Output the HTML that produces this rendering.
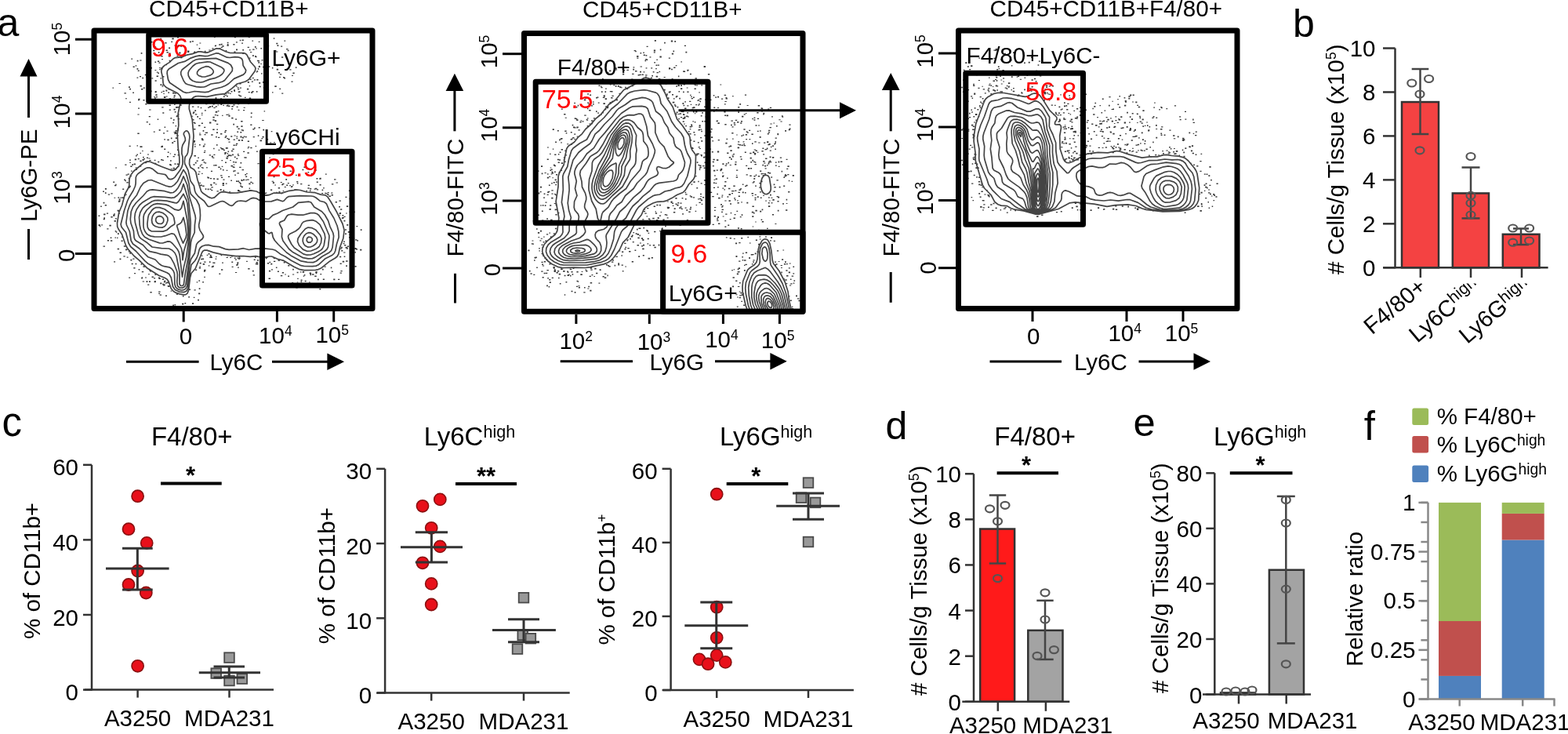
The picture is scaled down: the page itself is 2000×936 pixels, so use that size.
<!DOCTYPE html>
<html><head><meta charset="utf-8"><title>Figure</title>
<style>html,body{margin:0;padding:0;background:#fff;width:2000px;height:936px;overflow:hidden}svg{display:block}</style>
</head><body>
<svg width="2000" height="936" viewBox="0 0 2000 936" font-family="'Liberation Sans', Arial, sans-serif" font-size="29.5">
<text x="-3.60" y="45.50" font-size="50">a</text>
<text x="1649.00" y="47.20" font-size="50">b</text>
<text x="2.55" y="556.00" font-size="51">c</text>
<text x="1129.55" y="559.50" font-size="50">d</text>
<text x="1445.50" y="556.30" font-size="50.7">e</text>
<text x="1739.65" y="560.80" font-size="51">f</text>
<text x="190.10" y="21.30" font-size="29.6">CD45+CD11B+</text>
<path d="M185.3,206.3h2.4v1.1h-2.4zM202.0,353.5h1.9v1.4h-1.9zM326.8,91.2h1.5v1.3h-1.5zM185.0,353.4h1.9v1.1h-1.9zM290.8,145.4h1.9v1.2h-1.9zM258.7,186.4h1.9v1.2h-1.9zM275.0,327.0h1.5v1.1h-1.5zM344.2,181.5h2.0v1.1h-2.0zM217.7,214.7h1.9v1.1h-1.9zM352.2,54.8h2.2v1.5h-2.2zM145.2,272.2h1.6v1.3h-1.6zM178.1,211.5h2.2v1.2h-2.2zM271.3,152.2h2.3v1.6h-2.3zM449.7,303.3h2.5v1.5h-2.5zM336.6,141.2h1.5v1.4h-1.5zM259.8,193.7h2.2v1.4h-2.2zM205.6,87.2h1.8v1.3h-1.8zM221.5,179.7h2.2v1.2h-2.2zM303.0,113.2h2.3v1.3h-2.3zM322.7,128.8h2.1v1.7h-2.1zM450.6,269.5h2.1v1.7h-2.1zM284.4,133.7h1.5v1.4h-1.5zM288.2,201.0h2.1v1.2h-2.1zM240.8,368.4h2.2v1.6h-2.2zM190.0,358.3h1.9v1.7h-1.9zM266.3,250.8h1.4v1.7h-1.4zM263.2,212.9h1.5v1.6h-1.5zM277.5,133.4h1.6v1.1h-1.6zM361.0,98.1h2.1v1.5h-2.1zM207.2,361.7h2.2v1.7h-2.2zM306.4,206.9h1.9v1.5h-1.9zM202.4,79.5h2.1v1.3h-2.1zM272.1,232.4h2.3v1.6h-2.3zM146.7,294.0h1.6v1.6h-1.6zM159.2,229.9h1.7v1.3h-1.7zM422.8,345.7h2.1v1.4h-2.1zM273.8,58.0h2.1v1.3h-2.1zM159.2,209.6h2.3v1.2h-2.3zM216.7,195.4h1.4v1.2h-1.4zM301.0,62.6h2.0v1.7h-2.0zM350.2,235.4h1.8v1.1h-1.8zM441.1,332.2h2.5v1.6h-2.5zM264.0,225.4h1.7v1.2h-1.7zM304.9,128.1h1.6v1.2h-1.6zM169.3,329.6h2.2v1.2h-2.2zM201.1,205.8h2.2v1.4h-2.2zM296.9,206.0h2.1v1.3h-2.1zM151.4,271.6h1.6v1.1h-1.6zM339.5,92.9h2.3v1.7h-2.3zM263.7,324.7h1.6v1.3h-1.6zM280.7,241.1h1.9v1.8h-1.9zM445.0,302.1h1.8v1.5h-1.8zM317.7,109.1h1.4v1.1h-1.4zM441.1,314.8h2.2v1.4h-2.2zM301.1,109.2h1.5v1.6h-1.5zM179.7,67.1h1.7v1.7h-1.7zM436.7,332.8h2.5v1.8h-2.5zM272.8,334.5h1.6v1.5h-1.6zM301.1,337.2h2.4v1.5h-2.4zM173.1,198.1h1.5v1.3h-1.5zM185.3,132.1h2.2v1.4h-2.2zM273.0,46.6h1.6v1.5h-1.6zM255.4,235.6h2.4v1.6h-2.4zM417.8,248.0h1.7v1.2h-1.7zM298.9,328.6h1.6v1.3h-1.6zM269.8,134.8h2.1v1.7h-2.1zM169.2,117.4h1.7v1.6h-1.7zM422.9,234.2h2.5v1.3h-2.5zM452.3,316.1h2.3v1.8h-2.3zM383.5,358.6h1.7v1.5h-1.7zM356.8,94.3h2.4v1.2h-2.4zM252.3,200.6h1.5v1.5h-1.5zM253.8,340.7h2.1v1.7h-2.1zM178.5,186.3h2.2v1.7h-2.2zM313.2,224.5h2.0v1.5h-2.0zM210.3,54.1h2.3v1.4h-2.3zM332.4,240.4h1.9v1.6h-1.9zM382.9,346.2h1.5v1.4h-1.5zM438.7,326.6h1.6v1.4h-1.6zM254.4,339.2h1.5v1.1h-1.5zM370.9,237.8h2.0v1.3h-2.0zM176.3,125.8h2.2v1.5h-2.2zM442.2,286.1h2.0v1.7h-2.0zM326.9,116.0h1.5v1.8h-1.5zM340.3,327.6h1.5v1.1h-1.5zM322.1,62.5h2.5v1.2h-2.5zM267.2,327.5h1.9v1.3h-1.9zM362.3,99.0h1.7v1.4h-1.7zM281.0,170.1h2.4v1.4h-2.4zM291.4,147.0h2.1v1.8h-2.1zM304.7,242.9h1.9v1.3h-1.9zM330.2,105.0h2.0v1.7h-2.0zM307.8,178.0h2.2v1.8h-2.2zM226.1,46.7h1.8v1.8h-1.8zM165.0,129.8h1.9v1.1h-1.9zM205.9,185.8h2.1v1.8h-2.1zM333.7,75.9h1.7v1.7h-1.7zM383.1,234.0h2.3v1.3h-2.3zM225.5,172.3h2.3v1.3h-2.3zM440.4,250.7h2.1v1.4h-2.1zM371.7,237.0h1.7v1.4h-1.7zM315.6,188.5h1.9v1.1h-1.9zM340.9,335.1h2.4v1.3h-2.4zM306.0,233.4h1.8v1.8h-1.8zM163.9,320.0h1.9v1.4h-1.9zM276.0,157.7h2.3v1.3h-2.3zM278.2,212.5h2.5v1.4h-2.5zM335.8,111.1h1.8v1.3h-1.8zM252.1,381.8h1.8v1.8h-1.8zM159.9,125.2h2.0v1.1h-2.0zM223.1,128.5h1.5v1.6h-1.5zM239.0,65.3h2.4v1.8h-2.4zM287.9,128.1h1.5v1.3h-1.5zM145.6,281.1h2.3v1.7h-2.3zM276.5,243.2h2.3v1.2h-2.3zM334.9,84.7h2.3v1.6h-2.3zM254.1,171.2h2.4v1.4h-2.4zM164.6,185.8h2.1v1.2h-2.1zM163.7,238.7h2.2v1.1h-2.2zM286.4,194.1h2.4v1.6h-2.4zM166.3,223.9h1.8v1.2h-1.8zM152.5,329.6h1.9v1.6h-1.9zM155.5,251.3h2.4v1.8h-2.4zM212.5,166.5h2.0v1.3h-2.0zM327.1,192.4h1.6v1.6h-1.6zM221.6,167.9h2.1v1.2h-2.1zM327.9,76.8h2.0v1.4h-2.0zM214.4,113.4h2.3v1.1h-2.3zM292.0,134.5h1.6v1.2h-1.6zM273.8,145.9h2.0v1.3h-2.0zM288.5,145.7h2.1v1.4h-2.1zM252.5,221.3h1.8v1.6h-1.8zM188.2,362.6h2.1v1.2h-2.1zM440.1,292.3h1.8v1.5h-1.8zM136.9,306.0h2.1v1.4h-2.1zM147.1,277.9h1.6v1.7h-1.6zM163.7,226.8h2.0v1.5h-2.0zM180.8,346.1h2.4v1.1h-2.4zM410.6,241.6h1.6v1.6h-1.6zM293.2,204.0h1.6v1.1h-1.6zM351.9,65.5h2.5v1.1h-2.5zM171.7,202.5h2.4v1.8h-2.4zM294.5,116.0h1.9v1.5h-1.9zM192.0,86.2h1.6v1.8h-1.6zM331.4,204.7h2.4v1.3h-2.4zM155.2,301.4h1.5v1.6h-1.5zM190.1,139.4h2.5v1.2h-2.5zM139.4,286.7h2.4v1.7h-2.4zM297.6,209.4h1.7v1.2h-1.7zM333.0,93.3h1.7v1.3h-1.7zM393.9,359.4h1.9v1.2h-1.9zM247.2,179.1h1.8v1.5h-1.8zM221.5,138.8h2.1v1.8h-2.1zM355.3,331.4h1.6v1.7h-1.6zM172.6,83.2h1.7v1.2h-1.7zM427.6,256.9h2.4v1.5h-2.4zM178.6,108.8h2.2v1.7h-2.2zM256.7,176.2h2.3v1.6h-2.3zM306.4,121.9h1.8v1.3h-1.8zM323.7,330.5h2.0v1.4h-2.0zM301.5,175.7h1.6v1.6h-1.6zM214.3,364.3h2.3v1.7h-2.3zM403.7,231.6h2.1v1.4h-2.1zM131.1,243.5h1.8v1.4h-1.8zM170.6,208.6h2.3v1.6h-2.3zM256.9,143.7h1.6v1.5h-1.6zM257.3,177.6h2.4v1.7h-2.4zM367.2,351.4h1.8v1.7h-1.8zM180.0,113.0h2.4v1.5h-2.4zM203.6,375.5h2.4v1.2h-2.4zM436.3,276.9h2.5v1.7h-2.5zM202.7,165.0h1.9v1.7h-1.9zM365.2,235.5h2.0v1.6h-2.0zM287.5,172.8h1.8v1.6h-1.8zM328.8,172.3h1.5v1.8h-1.5zM178.4,204.6h2.2v1.7h-2.2zM308.6,50.5h2.2v1.6h-2.2zM181.4,203.0h2.4v1.8h-2.4zM426.9,362.3h1.8v1.3h-1.8zM295.4,135.1h2.3v1.4h-2.3zM149.5,267.7h2.5v1.5h-2.5zM181.1,192.0h1.6v1.1h-1.6zM207.5,115.8h2.3v1.3h-2.3zM411.0,342.8h1.7v1.6h-1.7zM321.4,51.4h1.7v1.3h-1.7zM222.7,142.0h1.8v1.6h-1.8zM232.1,386.8h2.2v1.7h-2.2zM306.2,128.8h1.7v1.8h-1.7zM327.8,331.3h2.0v1.3h-2.0zM426.0,228.2h2.5v1.2h-2.5zM161.6,317.4h2.5v1.1h-2.5zM378.8,233.1h1.6v1.5h-1.6zM258.6,166.1h1.7v1.6h-1.7zM131.7,279.0h2.1v1.3h-2.1zM254.4,54.5h1.9v1.1h-1.9zM192.1,192.4h2.4v1.1h-2.4zM224.0,169.2h1.8v1.7h-1.8zM213.0,199.1h2.0v1.5h-2.0zM342.2,84.2h2.1v1.6h-2.1zM287.5,119.0h1.8v1.2h-1.8zM268.9,217.7h2.1v1.4h-2.1zM223.8,175.3h2.1v1.8h-2.1zM455.0,306.3h2.1v1.2h-2.1zM364.3,228.1h1.8v1.7h-1.8zM271.2,334.5h1.7v1.3h-1.7zM432.4,255.4h2.5v1.4h-2.5zM276.5,227.5h2.2v1.8h-2.2zM206.2,136.3h2.4v1.1h-2.4zM445.4,298.5h2.0v1.6h-2.0zM277.1,126.4h1.6v1.2h-1.6zM212.5,66.0h2.3v1.6h-2.3zM181.6,358.5h2.5v1.1h-2.5zM356.1,211.5h1.5v1.8h-1.5zM136.3,291.2h2.2v1.2h-2.2zM216.8,209.8h2.2v1.5h-2.2zM307.5,229.4h2.2v1.7h-2.2zM279.2,56.2h2.2v1.5h-2.2zM206.9,107.9h1.8v1.2h-1.8zM401.9,239.8h2.5v1.4h-2.5zM392.5,219.1h1.7v1.5h-1.7zM187.8,97.9h2.2v1.5h-2.2zM202.4,354.6h2.4v1.5h-2.4zM372.0,96.0h1.9v1.1h-1.9zM259.6,206.1h1.6v1.4h-1.6zM199.8,91.6h1.7v1.2h-1.7zM137.8,247.4h2.3v1.4h-2.3zM229.4,133.3h2.2v1.7h-2.2zM328.8,87.0h1.5v1.8h-1.5zM281.8,59.8h2.0v1.3h-2.0zM371.5,103.5h2.0v1.2h-2.0zM330.9,109.7h1.8v1.5h-1.8zM282.7,211.7h1.6v1.4h-1.6zM213.8,193.4h1.7v1.6h-1.7zM405.0,355.6h1.7v1.6h-1.7zM379.2,354.7h1.5v1.4h-1.5zM437.6,309.9h2.0v1.4h-2.0zM133.9,240.0h2.0v1.7h-2.0zM166.4,330.7h2.0v1.7h-2.0zM322.7,350.3h2.2v1.2h-2.2zM329.7,52.8h1.8v1.2h-1.8zM158.9,80.5h2.3v1.1h-2.3zM271.2,164.6h2.4v1.5h-2.4zM325.1,70.9h1.9v1.5h-1.9zM272.0,227.2h2.0v1.5h-2.0zM336.6,128.8h2.0v1.3h-2.0zM328.4,129.5h2.4v1.5h-2.4zM272.3,136.9h2.5v1.2h-2.5zM230.0,72.7h2.5v1.5h-2.5zM441.9,262.3h2.2v1.8h-2.2zM369.3,236.1h1.5v1.2h-1.5zM284.4,228.5h2.1v1.3h-2.1zM289.9,56.0h1.5v1.3h-1.5zM319.3,187.7h2.2v1.6h-2.2zM377.0,241.3h1.5v1.3h-1.5zM207.0,96.9h2.4v1.5h-2.4zM306.4,173.6h2.1v1.8h-2.1zM362.4,51.6h1.8v1.1h-1.8zM215.4,67.4h2.1v1.5h-2.1zM320.2,117.2h2.0v1.8h-2.0zM247.6,183.5h2.2v1.1h-2.2zM187.9,196.4h2.1v1.1h-2.1zM367.2,338.0h2.1v1.4h-2.1zM283.1,146.7h1.4v1.2h-1.4zM218.2,52.7h1.9v1.3h-1.9zM304.5,326.7h1.6v1.5h-1.6zM266.2,63.5h2.5v1.1h-2.5zM214.9,71.1h2.3v1.3h-2.3zM208.9,358.8h1.7v1.7h-1.7zM132.1,272.4h2.4v1.8h-2.4zM246.5,155.7h2.4v1.2h-2.4zM346.9,85.8h1.5v1.6h-1.5zM278.0,174.7h2.3v1.2h-2.3zM256.8,156.4h2.1v1.5h-2.1zM325.7,336.0h1.9v1.2h-1.9zM300.5,184.6h1.8v1.3h-1.8zM228.7,67.5h1.4v1.3h-1.4zM402.6,347.7h1.7v1.6h-1.7zM378.2,231.0h2.1v1.6h-2.1zM367.3,79.9h1.8v1.5h-1.8zM197.5,78.5h1.6v1.6h-1.6zM226.7,196.9h2.5v1.6h-2.5zM321.8,70.3h2.2v1.5h-2.2zM283.6,233.8h2.3v1.4h-2.3zM303.4,230.3h1.7v1.6h-1.7zM281.7,55.8h2.0v1.7h-2.0zM435.2,318.9h2.1v1.5h-2.1zM146.5,302.5h1.5v1.2h-1.5zM191.0,345.0h2.2v1.4h-2.2zM354.7,239.1h2.4v1.5h-2.4zM390.4,242.8h1.7v1.3h-1.7zM193.4,99.3h1.8v1.2h-1.8zM300.9,53.3h2.0v1.1h-2.0zM195.2,63.8h2.1v1.4h-2.1zM212.5,359.5h2.4v1.7h-2.4zM255.1,236.0h1.8v1.2h-1.8zM164.2,353.4h1.9v1.4h-1.9zM301.6,160.8h2.2v1.8h-2.2zM144.1,274.3h2.4v1.4h-2.4zM366.6,63.8h2.0v1.5h-2.0zM187.1,100.3h2.4v1.2h-2.4zM297.3,133.3h2.3v1.3h-2.3zM280.7,214.5h1.6v1.8h-1.6zM385.5,215.7h1.8v1.6h-1.8zM196.7,203.8h1.8v1.3h-1.8zM179.7,186.5h2.0v1.2h-2.0zM314.0,221.0h1.7v1.1h-1.7zM204.2,360.5h2.2v1.7h-2.2zM289.7,195.1h1.4v1.3h-1.4zM257.7,329.6h2.4v1.5h-2.4zM332.4,61.1h1.6v1.3h-1.6zM301.4,173.6h1.7v1.1h-1.7zM288.7,216.8h1.6v1.2h-1.6zM144.2,231.4h2.0v1.6h-2.0zM182.5,126.9h2.0v1.6h-2.0zM303.8,178.1h2.4v1.6h-2.4zM180.6,353.2h1.5v1.1h-1.5zM258.2,236.6h2.4v1.3h-2.4zM281.1,223.2h2.4v1.2h-2.4zM350.0,63.9h2.4v1.4h-2.4zM253.7,60.9h1.5v1.8h-1.5zM304.9,116.3h1.6v1.1h-1.6zM369.2,88.3h2.3v1.3h-2.3zM217.7,370.6h1.5v1.1h-1.5zM292.1,44.8h1.9v1.2h-1.9zM302.3,167.4h1.8v1.6h-1.8zM365.0,61.9h2.5v1.3h-2.5zM268.2,234.7h2.1v1.6h-2.1zM315.6,59.7h2.3v1.4h-2.3zM239.1,64.6h2.3v1.4h-2.3zM228.3,66.5h2.2v1.5h-2.2zM303.1,131.6h1.9v1.7h-1.9zM414.9,221.4h1.8v1.3h-1.8zM433.9,316.7h2.0v1.1h-2.0zM249.0,130.6h2.1v1.1h-2.1zM244.9,135.4h2.4v1.3h-2.4zM294.7,326.4h2.4v1.2h-2.4zM434.1,266.3h2.2v1.5h-2.2zM169.6,84.4h2.1v1.7h-2.1zM454.3,317.0h1.5v1.7h-1.5zM338.6,327.8h1.7v1.3h-1.7zM187.9,104.7h2.2v1.4h-2.2zM321.6,232.9h1.6v1.5h-1.6zM182.6,111.6h2.4v1.1h-2.4zM197.0,124.6h1.9v1.2h-1.9zM205.1,202.9h2.2v1.6h-2.2zM222.6,208.3h1.6v1.7h-1.6zM187.0,200.5h1.8v1.6h-1.8zM256.8,212.9h1.6v1.4h-1.6zM316.7,116.9h2.1v1.4h-2.1zM443.8,295.1h2.2v1.6h-2.2zM215.5,133.4h2.4v1.5h-2.4zM191.7,344.9h1.6v1.6h-1.6zM248.8,206.8h1.9v1.6h-1.9zM246.2,142.4h2.2v1.7h-2.2zM320.8,103.5h2.1v1.2h-2.1zM288.9,201.3h1.9v1.5h-1.9zM260.5,171.1h2.1v1.2h-2.1zM161.4,231.9h2.3v1.5h-2.3zM164.9,203.6h2.1v1.2h-2.1zM224.9,57.9h2.0v1.3h-2.0zM305.0,328.5h1.8v1.3h-1.8zM215.0,60.6h2.1v1.3h-2.1zM268.6,327.5h2.4v1.6h-2.4zM152.5,321.5h2.5v1.5h-2.5zM378.6,346.8h1.9v1.4h-1.9zM412.2,238.9h1.5v1.6h-1.5zM356.1,97.8h1.8v1.1h-1.8zM284.6,190.8h2.4v1.3h-2.4zM226.0,190.3h1.5v1.6h-1.5zM317.3,233.6h2.3v1.6h-2.3zM298.5,172.5h2.1v1.1h-2.1zM264.6,240.4h2.0v1.8h-2.0zM341.2,113.9h1.9v1.3h-1.9zM329.7,162.0h2.0v1.5h-2.0zM252.4,213.3h1.8v1.6h-1.8zM316.0,186.9h2.3v1.1h-2.3zM211.5,81.9h1.5v1.4h-1.5zM250.7,359.2h1.5v1.2h-1.5zM303.0,242.1h2.4v1.8h-2.4zM302.4,328.6h2.3v1.2h-2.3zM247.1,163.9h2.3v1.5h-2.3zM401.2,351.6h2.5v1.3h-2.5zM438.1,321.5h2.4v1.1h-2.4zM253.7,367.2h1.7v1.7h-1.7zM305.9,111.6h2.0v1.2h-2.0zM220.6,199.0h2.2v1.3h-2.2zM322.7,173.9h2.1v1.4h-2.1zM301.1,230.2h1.5v1.1h-1.5zM203.5,126.4h2.4v1.7h-2.4zM317.6,73.4h1.9v1.3h-1.9zM182.1,199.8h1.6v1.8h-1.6zM146.8,234.7h2.0v1.1h-2.0zM294.2,173.2h2.1v1.6h-2.1zM225.0,374.3h1.8v1.8h-1.8zM349.2,180.9h1.5v1.2h-1.5zM260.8,140.2h2.1v1.4h-2.1zM165.3,322.1h1.8v1.6h-1.8zM290.8,197.3h2.4v1.7h-2.4zM271.5,132.1h2.2v1.3h-2.2zM251.9,135.7h1.8v1.2h-1.8zM193.5,352.5h2.4v1.6h-2.4zM196.8,358.1h2.1v1.1h-2.1zM283.6,235.7h2.4v1.2h-2.4zM288.8,133.9h2.0v1.8h-2.0zM358.6,245.9h1.8v1.4h-1.8zM158.4,118.2h2.5v1.3h-2.5zM217.4,150.0h1.9v1.4h-1.9zM296.7,212.3h1.9v1.4h-1.9zM331.5,178.6h2.5v1.7h-2.5zM209.6,161.6h1.5v1.5h-1.5zM385.0,363.2h1.5v1.1h-1.5zM197.6,102.2h2.1v1.5h-2.1zM294.3,229.6h1.6v1.4h-1.6zM353.5,57.3h1.8v1.6h-1.8zM225.4,70.7h1.9v1.4h-1.9zM321.3,115.9h2.3v1.6h-2.3zM232.9,377.1h1.6v1.5h-1.6zM153.4,251.5h1.7v1.3h-1.7zM433.6,335.4h2.1v1.7h-2.1zM223.9,60.1h1.8v1.5h-1.8zM375.3,241.0h1.5v1.6h-1.5zM278.6,190.7h1.6v1.4h-1.6zM254.0,184.0h1.7v1.5h-1.7zM338.5,245.4h1.8v1.4h-1.8zM319.8,143.4h1.9v1.5h-1.9zM299.6,206.3h2.2v1.5h-2.2zM200.8,128.5h2.2v1.7h-2.2zM289.2,176.0h1.9v1.1h-1.9zM166.3,211.5h2.3v1.4h-2.3zM336.6,97.4h2.3v1.7h-2.3zM222.1,132.5h1.5v1.4h-1.5zM297.5,184.5h2.2v1.4h-2.2zM247.4,198.1h1.9v1.4h-1.9zM131.5,313.4h2.5v1.3h-2.5zM268.8,235.4h1.6v1.6h-1.6zM298.5,217.3h2.3v1.1h-2.3zM345.2,335.7h2.1v1.7h-2.1zM302.6,111.3h2.2v1.2h-2.2zM206.2,74.9h1.6v1.4h-1.6zM209.2,177.2h1.8v1.2h-1.8zM197.4,88.9h2.0v1.2h-2.0zM223.1,215.7h1.5v1.4h-1.5zM302.4,220.2h2.5v1.2h-2.5zM192.3,85.7h1.7v1.4h-1.7zM159.1,247.4h2.5v1.4h-2.5zM283.9,216.1h1.7v1.5h-1.7zM247.9,186.3h1.8v1.2h-1.8zM447.8,345.2h2.1v1.4h-2.1zM260.1,333.4h2.5v1.4h-2.5zM293.1,118.8h1.6v1.3h-1.6zM318.6,100.6h2.0v1.3h-2.0zM259.9,345.2h1.9v1.6h-1.9zM186.0,97.0h2.3v1.5h-2.3zM438.6,275.8h2.0v1.2h-2.0zM226.2,145.2h2.2v1.2h-2.2zM223.6,166.0h2.2v1.8h-2.2zM172.6,215.8h2.4v1.3h-2.4zM335.0,347.7h1.9v1.4h-1.9zM307.1,44.3h2.3v1.4h-2.3zM181.3,98.8h1.8v1.5h-1.8zM446.0,247.6h2.1v1.7h-2.1zM290.6,176.8h2.4v1.7h-2.4zM225.6,136.1h2.5v1.5h-2.5zM186.5,358.3h1.9v1.6h-1.9zM295.5,129.8h2.4v1.6h-2.4zM141.5,246.2h2.1v1.2h-2.1zM196.6,358.6h2.2v1.7h-2.2zM438.5,280.8h1.9v1.7h-1.9zM422.3,245.4h2.1v1.3h-2.1zM419.4,249.4h2.5v1.6h-2.5zM149.6,316.7h2.5v1.5h-2.5zM262.2,131.9h2.2v1.3h-2.2zM304.6,232.1h2.0v1.4h-2.0zM434.6,314.8h2.2v1.8h-2.2zM295.6,339.8h2.0v1.1h-2.0zM190.1,343.7h1.8v1.5h-1.8zM282.0,343.3h2.3v1.5h-2.3zM227.1,72.5h1.7v1.5h-1.7zM269.2,171.2h2.4v1.5h-2.4zM315.4,194.3h2.4v1.5h-2.4zM421.8,340.4h1.5v1.8h-1.5zM174.5,185.3h1.5v1.3h-1.5zM217.4,130.4h2.1v1.7h-2.1zM192.8,52.8h1.7v1.7h-1.7zM310.6,136.7h2.2v1.1h-2.2zM149.9,297.2h1.9v1.7h-1.9zM241.9,52.6h1.9v1.7h-1.9zM191.1,99.6h1.7v1.7h-1.7zM175.4,145.4h2.2v1.1h-2.2zM254.8,210.8h1.6v1.6h-1.6zM286.8,166.0h2.3v1.3h-2.3zM441.2,338.3h1.7v1.8h-1.7zM191.2,115.4h2.4v1.8h-2.4zM167.0,217.4h1.6v1.4h-1.6zM147.8,295.2h1.5v1.6h-1.5zM171.1,348.1h1.9v1.1h-1.9zM179.6,336.0h1.6v1.7h-1.6zM352.7,87.8h2.4v1.8h-2.4zM140.9,306.2h2.4v1.5h-2.4zM156.2,240.4h2.0v1.5h-2.0zM259.0,185.5h2.3v1.2h-2.3zM308.1,54.4h1.9v1.4h-1.9zM323.7,101.3h2.3v1.1h-2.3zM150.5,269.0h2.1v1.1h-2.1zM225.9,68.3h2.0v1.2h-2.0zM248.8,145.2h2.5v1.2h-2.5zM259.2,127.1h1.8v1.2h-1.8zM448.8,265.8h1.7v1.6h-1.7zM276.4,164.6h1.5v1.5h-1.5zM226.2,68.8h2.0v1.1h-2.0zM222.2,169.5h2.5v1.4h-2.5zM200.7,151.6h1.5v1.5h-1.5zM417.1,247.1h1.9v1.2h-1.9zM271.4,148.7h2.3v1.7h-2.3zM444.9,242.5h2.2v1.4h-2.2zM226.3,211.7h2.3v1.1h-2.3zM183.3,339.2h1.7v1.5h-1.7zM151.0,256.5h1.6v1.6h-1.6zM219.2,181.3h2.0v1.7h-2.0zM270.9,200.7h2.5v1.1h-2.5zM303.1,197.9h2.2v1.1h-2.2zM302.1,336.3h2.0v1.3h-2.0zM175.7,89.4h2.0v1.6h-2.0zM325.7,185.8h1.4v1.5h-1.4zM294.5,210.7h2.4v1.7h-2.4zM282.0,189.0h2.0v1.5h-2.0zM319.3,226.0h1.6v1.2h-1.6zM190.2,203.9h2.5v1.1h-2.5zM300.9,182.7h2.4v1.3h-2.4zM269.3,242.0h2.0v1.2h-2.0zM221.0,152.1h1.5v1.7h-1.5zM310.0,228.6h2.1v1.7h-2.1zM445.6,252.6h2.1v1.6h-2.1zM202.9,85.9h1.6v1.1h-1.6zM300.3,151.3h1.5v1.7h-1.5zM386.7,351.6h1.5v1.2h-1.5zM378.7,359.5h1.6v1.1h-1.6zM240.2,377.9h1.8v1.5h-1.8zM340.8,58.0h2.4v1.2h-2.4zM325.0,327.1h1.5v1.8h-1.5zM387.8,350.0h1.6v1.6h-1.6zM316.2,342.1h2.4v1.4h-2.4zM336.7,246.0h2.5v1.3h-2.5zM261.7,240.2h1.6v1.7h-1.6zM340.5,247.9h2.1v1.3h-2.1zM257.1,220.8h1.5v1.3h-1.5zM448.6,303.7h2.1v1.5h-2.1zM217.0,204.3h1.7v1.4h-1.7zM287.1,120.9h1.8v1.1h-1.8zM205.5,71.1h2.1v1.5h-2.1zM260.1,343.7h2.4v1.7h-2.4zM436.4,274.0h1.9v1.6h-1.9zM334.9,104.1h2.1v1.7h-2.1zM268.3,326.3h1.7v1.3h-1.7zM310.1,140.1h2.0v1.2h-2.0zM360.4,233.7h2.1v1.4h-2.1zM225.9,163.6h2.2v1.7h-2.2zM214.4,117.3h1.5v1.8h-1.5zM315.7,104.1h2.3v1.6h-2.3zM247.5,65.5h1.7v1.3h-1.7zM318.9,66.0h2.4v1.1h-2.4zM287.7,64.1h1.6v1.5h-1.6zM204.0,70.0h1.7v1.5h-1.7zM348.8,328.5h2.0v1.4h-2.0zM260.9,207.2h2.3v1.2h-2.3zM329.6,84.7h2.3v1.4h-2.3zM255.8,209.4h2.4v1.2h-2.4zM172.8,213.2h1.7v1.3h-1.7zM207.2,203.8h1.7v1.3h-1.7zM298.0,114.3h1.9v1.6h-1.9zM283.1,189.1h2.2v1.6h-2.2zM167.7,335.7h2.0v1.3h-2.0zM275.1,173.8h1.6v1.8h-1.6zM187.5,205.4h2.1v1.2h-2.1zM279.4,348.5h1.8v1.5h-1.8zM211.7,122.5h1.9v1.1h-1.9zM150.4,251.2h1.8v1.5h-1.8zM189.3,201.4h2.3v1.2h-2.3zM140.7,302.6h1.7v1.4h-1.7zM335.3,164.8h1.8v1.7h-1.8zM147.1,213.4h2.0v1.2h-2.0zM286.2,167.7h2.0v1.5h-2.0zM254.6,334.8h1.7v1.5h-1.7zM434.4,345.0h2.3v1.2h-2.3zM287.8,233.6h1.8v1.2h-1.8zM407.4,368.0h1.8v1.6h-1.8zM151.3,255.6h2.2v1.7h-2.2zM293.2,327.9h1.9v1.2h-1.9zM254.5,340.9h1.6v1.4h-1.6zM316.2,131.3h1.6v1.6h-1.6zM202.2,373.7h1.8v1.4h-1.8zM333.4,175.9h1.9v1.3h-1.9zM257.2,204.0h2.3v1.1h-2.3zM151.5,105.9h2.4v1.1h-2.4zM289.8,325.0h1.6v1.2h-1.6zM267.0,155.6h2.4v1.8h-2.4zM394.9,242.5h1.6v1.5h-1.6zM359.2,118.5h2.1v1.2h-2.1zM260.1,161.7h2.2v1.4h-2.2zM310.7,173.4h1.7v1.3h-1.7zM198.8,123.1h2.1v1.1h-2.1zM227.1,57.0h2.3v1.7h-2.3zM126.7,288.2h2.0v1.1h-2.0zM195.9,354.2h2.2v1.4h-2.2zM304.0,120.7h1.5v1.3h-1.5zM204.4,99.3h1.9v1.2h-1.9zM253.0,159.6h2.5v1.4h-2.5zM309.1,67.5h2.3v1.5h-2.3zM306.2,236.5h1.9v1.4h-1.9zM306.3,168.0h2.0v1.4h-2.0zM297.4,217.5h1.6v1.7h-1.6zM249.2,343.6h2.0v1.4h-2.0zM295.3,333.6h1.9v1.4h-1.9zM385.7,346.0h2.4v1.7h-2.4zM373.0,349.4h2.2v1.1h-2.2zM348.6,224.6h1.9v1.6h-1.9zM250.6,204.4h2.0v1.7h-2.0zM274.3,57.5h1.7v1.7h-1.7zM167.3,74.4h1.8v1.4h-1.8zM168.3,209.3h1.7v1.6h-1.7zM266.9,333.3h1.6v1.7h-1.6zM288.7,188.2h2.2v1.2h-2.2zM313.1,45.1h2.3v1.1h-2.3zM197.6,116.5h1.9v1.7h-1.9zM435.9,277.6h1.7v1.5h-1.7zM178.0,97.1h2.0v1.1h-2.0zM165.1,112.8h1.9v1.8h-1.9zM302.1,135.7h1.5v1.2h-1.5zM313.2,228.7h1.5v1.5h-1.5zM338.8,329.1h1.7v1.1h-1.7zM208.3,118.9h1.5v1.1h-1.5zM267.8,227.0h2.2v1.2h-2.2zM274.1,210.1h2.5v1.4h-2.5zM193.8,192.2h1.8v1.7h-1.8zM160.5,222.5h2.3v1.3h-2.3zM265.5,322.9h2.1v1.5h-2.1zM220.0,117.8h2.5v1.8h-2.5zM258.2,203.2h2.2v1.2h-2.2zM325.4,72.1h2.1v1.1h-2.1zM287.0,206.4h1.9v1.6h-1.9zM453.1,305.3h2.3v1.3h-2.3zM235.5,386.0h1.7v1.6h-1.7zM289.1,198.7h2.4v1.7h-2.4zM215.7,139.5h2.2v1.3h-2.2zM312.3,222.0h1.8v1.6h-1.8zM208.0,169.3h2.2v1.1h-2.2zM187.2,80.3h2.0v1.8h-2.0zM216.1,209.0h1.8v1.8h-1.8zM439.1,312.1h2.3v1.5h-2.3zM351.9,340.5h1.6v1.4h-1.6zM377.3,366.4h2.5v1.1h-2.5zM223.3,168.1h1.8v1.3h-1.8zM302.7,126.0h2.3v1.1h-2.3zM216.0,77.6h1.7v1.7h-1.7zM281.8,189.3h2.3v1.3h-2.3zM459.1,317.7h2.3v1.7h-2.3zM208.9,123.1h2.5v1.8h-2.5zM354.2,331.2h2.0v1.2h-2.0zM414.2,245.7h2.0v1.2h-2.0zM356.2,112.8h2.0v1.1h-2.0zM283.7,233.1h2.2v1.1h-2.2zM267.8,324.7h1.7v1.7h-1.7zM363.2,349.4h1.6v1.2h-1.6zM174.5,98.5h1.8v1.3h-1.8zM157.4,326.3h2.3v1.1h-2.3zM447.4,293.2h1.9v1.7h-1.9zM215.7,125.2h2.3v1.7h-2.3zM295.3,138.0h1.5v1.8h-1.5zM383.6,356.4h1.9v1.7h-1.9zM307.5,165.2h2.5v1.4h-2.5zM176.0,137.4h2.0v1.4h-2.0zM422.5,248.0h2.5v1.4h-2.5zM204.8,86.3h2.2v1.4h-2.2zM312.4,200.2h2.2v1.6h-2.2zM303.5,163.5h2.2v1.5h-2.2zM297.7,212.7h1.9v1.3h-1.9zM403.4,227.1h2.0v1.5h-2.0zM274.5,234.5h2.1v1.1h-2.1zM272.1,188.7h1.5v1.6h-1.5zM413.5,339.5h2.2v1.2h-2.2zM303.9,329.0h2.3v1.8h-2.3zM398.0,349.3h2.5v1.5h-2.5zM290.5,192.5h1.6v1.6h-1.6zM151.6,253.6h2.0v1.7h-2.0zM280.7,187.9h2.0v1.2h-2.0zM289.9,133.4h1.6v1.1h-1.6zM164.5,236.7h2.4v1.7h-2.4zM334.0,352.7h1.5v1.6h-1.5zM441.9,316.1h1.8v1.7h-1.8zM274.5,135.2h2.5v1.4h-2.5zM305.1,121.4h1.9v1.7h-1.9zM447.4,288.6h1.7v1.7h-1.7zM307.6,244.0h2.5v1.2h-2.5zM254.8,334.8h1.9v1.6h-1.9zM201.3,92.4h1.7v1.6h-1.7zM302.4,334.2h1.9v1.8h-1.9zM287.8,188.0h2.4v1.8h-2.4zM281.4,131.6h2.1v1.6h-2.1zM297.3,157.8h1.7v1.6h-1.7zM246.8,378.8h1.6v1.3h-1.6zM425.2,355.5h2.2v1.7h-2.2zM206.0,67.8h1.6v1.3h-1.6zM256.9,146.2h1.5v1.1h-1.5zM338.8,248.5h1.7v1.4h-1.7zM250.7,56.6h1.5v1.2h-1.5zM289.5,57.0h2.2v1.7h-2.2zM197.7,59.2h1.5v1.6h-1.5zM172.5,335.8h1.8v1.4h-1.8zM307.1,154.1h2.5v1.3h-2.5zM251.3,148.1h1.7v1.7h-1.7zM438.2,307.4h1.7v1.5h-1.7zM224.6,148.0h2.1v1.2h-2.1zM133.7,261.0h2.3v1.5h-2.3zM263.4,168.4h1.5v1.6h-1.5zM303.6,139.7h1.8v1.3h-1.8zM312.6,174.1h2.2v1.1h-2.2zM327.2,101.0h2.3v1.5h-2.3zM189.1,66.3h2.2v1.6h-2.2zM258.7,336.0h2.4v1.7h-2.4zM167.8,335.7h1.7v1.5h-1.7zM347.6,195.7h2.0v1.6h-2.0zM344.9,241.6h2.3v1.3h-2.3zM361.7,334.0h2.0v1.5h-2.0zM217.9,175.5h1.6v1.7h-1.6zM417.5,245.1h2.1v1.2h-2.1zM432.5,273.7h1.7v1.1h-1.7zM247.0,66.2h1.8v1.2h-1.8zM188.1,88.6h2.3v1.6h-2.3zM445.7,269.5h1.7v1.5h-1.7zM352.2,244.7h1.7v1.1h-1.7zM204.4,107.3h1.9v1.6h-1.9zM433.1,326.7h2.1v1.5h-2.1zM157.8,313.2h1.9v1.6h-1.9zM334.2,153.0h2.5v1.1h-2.5zM247.9,156.5h1.6v1.6h-1.6zM200.9,77.5h2.3v1.4h-2.3zM260.6,191.7h1.6v1.3h-1.6zM329.1,76.9h1.9v1.6h-1.9zM258.0,213.4h1.8v1.4h-1.8zM347.8,232.3h2.2v1.6h-2.2zM377.0,222.8h1.7v1.2h-1.7zM298.4,65.4h2.1v1.7h-2.1zM319.2,231.7h2.5v1.2h-2.5zM135.9,271.4h2.2v1.3h-2.2zM327.5,90.1h1.7v1.5h-1.7zM264.6,226.2h2.4v1.3h-2.4zM447.0,324.1h1.6v1.3h-1.6zM164.0,110.3h1.8v1.7h-1.8zM342.9,344.8h2.2v1.6h-2.2zM208.5,362.9h1.9v1.5h-1.9zM410.0,245.9h2.2v1.1h-2.2zM327.0,335.8h2.4v1.6h-2.4zM303.8,131.4h1.5v1.6h-1.5zM163.0,239.0h1.8v1.1h-1.8zM359.8,347.0h2.2v1.6h-2.2zM358.1,58.5h2.1v1.3h-2.1zM256.9,325.6h1.6v1.2h-1.6zM221.3,123.5h1.9v1.3h-1.9zM443.0,313.6h1.9v1.3h-1.9zM146.0,235.9h2.4v1.4h-2.4zM158.1,313.6h2.4v1.2h-2.4zM315.7,179.4h2.3v1.6h-2.3zM310.1,192.7h2.1v1.4h-2.1zM394.6,347.4h2.4v1.6h-2.4zM260.7,64.7h1.9v1.7h-1.9zM199.5,96.4h2.5v1.6h-2.5zM208.2,363.2h1.8v1.2h-1.8zM321.9,344.7h1.8v1.8h-1.8zM355.0,92.1h2.1v1.3h-2.1zM427.8,362.8h2.3v1.4h-2.3zM261.3,129.8h2.2v1.8h-2.2zM170.3,340.9h2.2v1.6h-2.2zM373.1,342.8h1.7v1.7h-1.7zM289.7,53.7h1.8v1.6h-1.8zM348.8,48.3h1.5v1.4h-1.5zM226.7,151.0h2.2v1.2h-2.2zM395.2,348.3h2.0v1.5h-2.0zM154.5,306.4h2.2v1.5h-2.2zM286.6,174.6h1.9v1.3h-1.9zM145.1,333.2h2.0v1.2h-2.0zM245.8,143.5h1.7v1.7h-1.7zM223.5,159.9h1.6v1.4h-1.6zM350.3,109.3h2.4v1.7h-2.4zM253.4,357.3h1.7v1.4h-1.7zM440.3,315.3h1.8v1.3h-1.8zM296.1,196.5h1.8v1.7h-1.8zM320.5,129.0h2.3v1.5h-2.3zM372.2,359.9h2.0v1.4h-2.0zM213.4,177.6h2.2v1.7h-2.2zM197.8,116.1h1.9v1.6h-1.9zM205.2,186.4h2.5v1.6h-2.5zM158.1,248.3h2.3v1.1h-2.3zM454.5,288.0h1.7v1.3h-1.7zM174.7,76.8h1.8v1.6h-1.8zM260.2,352.7h1.6v1.3h-1.6zM395.2,239.9h2.0v1.7h-2.0zM309.2,62.9h1.9v1.6h-1.9zM256.1,329.8h1.8v1.4h-1.8zM208.9,362.4h2.0v1.2h-2.0zM274.5,329.5h1.8v1.3h-1.8zM204.1,48.8h2.1v1.2h-2.1zM269.7,198.8h2.3v1.6h-2.3zM290.9,224.7h2.2v1.3h-2.2zM269.6,339.7h2.4v1.3h-2.4zM282.4,204.1h1.8v1.2h-1.8zM189.9,66.5h1.5v1.5h-1.5zM408.3,349.1h1.9v1.2h-1.9zM180.2,354.1h1.8v1.4h-1.8zM183.3,201.9h1.7v1.3h-1.7zM326.3,61.2h1.5v1.2h-1.5zM335.3,329.1h1.4v1.3h-1.4zM128.2,262.6h1.6v1.4h-1.6zM358.5,361.6h2.5v1.4h-2.5zM298.9,46.6h1.9v1.7h-1.9zM209.2,189.6h2.0v1.5h-2.0zM291.1,134.6h1.7v1.7h-1.7zM178.1,76.4h2.5v1.1h-2.5zM131.6,257.8h1.8v1.7h-1.8zM190.0,157.7h1.6v1.6h-1.6zM230.0,58.2h2.2v1.5h-2.2zM174.5,87.1h1.8v1.6h-1.8zM160.0,317.6h2.1v1.6h-2.1zM158.2,228.6h1.9v1.5h-1.9zM347.0,117.3h1.5v1.1h-1.5zM360.6,243.0h1.7v1.1h-1.7zM186.8,85.2h2.0v1.6h-2.0zM317.6,239.6h1.5v1.5h-1.5zM163.3,237.6h2.3v1.4h-2.3zM316.7,46.3h2.2v1.7h-2.2zM165.1,206.7h1.9v1.1h-1.9zM145.5,251.7h1.7v1.1h-1.7zM132.3,277.3h1.7v1.7h-1.7zM355.4,244.1h2.1v1.6h-2.1zM452.3,338.9h2.3v1.6h-2.3zM125.5,274.5h1.8v1.4h-1.8zM402.0,346.6h1.8v1.2h-1.8zM260.1,183.4h2.2v1.2h-2.2zM297.3,56.1h2.2v1.5h-2.2zM305.2,106.1h2.4v1.4h-2.4zM224.0,136.1h2.4v1.7h-2.4zM283.5,58.1h2.0v1.6h-2.0zM215.5,76.7h1.8v1.1h-1.8zM328.5,207.9h2.1v1.3h-2.1zM212.4,126.9h2.3v1.1h-2.3zM301.6,135.8h1.6v1.3h-1.6zM432.1,263.0h1.9v1.6h-1.9zM348.9,332.7h2.4v1.4h-2.4zM326.5,333.9h2.3v1.6h-2.3zM254.2,169.4h1.6v1.2h-1.6zM133.9,245.2h1.7v1.7h-1.7zM360.2,331.7h1.4v1.1h-1.4zM184.8,94.7h2.4v1.6h-2.4zM314.9,112.8h2.4v1.6h-2.4zM392.7,235.8h2.3v1.1h-2.3zM266.6,129.8h2.1v1.3h-2.1zM206.4,109.5h2.0v1.3h-2.0zM345.7,167.1h1.7v1.2h-1.7zM235.1,50.8h1.6v1.4h-1.6zM296.4,189.6h2.3v1.5h-2.3zM224.4,59.5h1.8v1.7h-1.8zM281.1,125.3h1.8v1.4h-1.8zM222.6,118.4h2.3v1.4h-2.3zM245.8,152.1h1.7v1.4h-1.7zM352.7,82.8h2.0v1.7h-2.0zM293.3,197.5h2.3v1.7h-2.3zM317.8,241.9h2.0v1.4h-2.0zM220.1,156.1h1.9v1.2h-1.9zM433.6,347.6h2.3v1.1h-2.3zM343.4,333.7h1.8v1.2h-1.8zM207.3,143.2h2.0v1.5h-2.0zM222.5,57.6h1.7v1.2h-1.7zM129.2,286.3h1.7v1.3h-1.7zM274.5,124.3h1.9v1.6h-1.9zM273.7,153.3h2.4v1.6h-2.4zM299.3,222.5h1.5v1.4h-1.5zM245.1,386.3h1.9v1.7h-1.9zM248.3,140.3h1.8v1.6h-1.8zM266.7,197.2h2.3v1.4h-2.3zM366.8,233.0h2.0v1.2h-2.0zM284.6,242.0h1.5v1.8h-1.5zM187.0,116.8h2.0v1.3h-2.0zM281.9,225.8h2.3v1.1h-2.3zM305.1,212.7h2.5v1.2h-2.5zM269.3,238.3h2.5v1.3h-2.5zM329.0,79.3h2.4v1.1h-2.4zM330.2,83.7h1.6v1.1h-1.6zM213.7,364.0h1.7v1.6h-1.7zM281.6,325.1h1.6v1.2h-1.6zM267.3,327.6h2.2v1.5h-2.2zM189.2,349.0h1.5v1.3h-1.5zM209.2,357.8h2.3v1.5h-2.3zM339.6,177.0h2.5v1.6h-2.5zM144.3,273.5h2.2v1.7h-2.2zM373.2,235.3h1.5v1.3h-1.5zM219.6,216.5h2.3v1.3h-2.3zM267.6,240.6h1.9v1.5h-1.9zM319.7,148.5h1.6v1.6h-1.6zM335.3,334.0h1.9v1.7h-1.9zM291.5,180.6h2.0v1.1h-2.0zM373.4,92.5h2.3v1.6h-2.3zM219.3,48.6h2.5v1.7h-2.5zM407.5,234.9h2.1v1.6h-2.1zM289.0,121.8h1.7v1.7h-1.7zM431.0,355.7h2.3v1.4h-2.3zM143.5,111.4h1.5v1.4h-1.5zM225.1,146.9h1.8v1.6h-1.8zM202.1,371.4h2.5v1.3h-2.5zM225.6,208.4h2.4v1.6h-2.4zM403.1,346.1h1.6v1.6h-1.6zM440.0,297.6h2.0v1.3h-2.0zM332.3,80.9h1.6v1.2h-1.6zM290.2,117.8h2.4v1.4h-2.4zM308.8,174.8h2.1v1.6h-2.1zM265.7,338.2h1.7v1.3h-1.7zM186.6,155.0h2.3v1.3h-2.3zM174.3,196.4h1.6v1.7h-1.6zM311.3,200.3h1.8v1.2h-1.8zM253.8,150.8h2.1v1.3h-2.1zM445.7,301.9h1.6v1.3h-1.6zM270.4,61.3h2.1v1.3h-2.1zM285.5,120.1h1.5v1.4h-1.5zM161.7,327.5h1.8v1.2h-1.8zM301.1,230.8h2.0v1.3h-2.0zM184.7,206.7h2.1v1.6h-2.1zM276.0,168.3h1.9v1.7h-1.9zM376.9,85.3h1.5v1.6h-1.5zM178.5,194.7h1.5v1.2h-1.5zM253.1,373.6h2.1v1.7h-2.1zM265.1,225.7h1.7v1.4h-1.7zM162.6,221.5h2.3v1.2h-2.3zM211.0,376.6h1.9v1.5h-1.9zM182.4,339.2h2.3v1.5h-2.3zM222.5,387.9h1.6v1.7h-1.6zM206.8,355.5h2.3v1.6h-2.3zM392.4,239.3h2.2v1.4h-2.2zM274.7,142.0h2.1v1.8h-2.1zM428.5,232.4h2.5v1.2h-2.5zM307.4,160.2h2.1v1.7h-2.1zM452.4,320.9h1.5v1.5h-1.5zM203.1,88.0h1.6v1.2h-1.6zM302.8,195.9h1.8v1.5h-1.8zM299.9,330.4h2.0v1.4h-2.0zM335.3,194.4h2.5v1.4h-2.5zM407.2,227.4h2.2v1.3h-2.2zM359.0,72.2h2.2v1.6h-2.2zM266.9,135.3h2.2v1.6h-2.2zM411.8,355.4h2.1v1.7h-2.1zM362.6,237.9h2.3v1.1h-2.3zM195.8,167.5h1.9v1.2h-1.9zM196.9,207.7h2.5v1.4h-2.5zM459.8,292.2h1.7v1.7h-1.7zM149.0,302.8h1.5v1.2h-1.5zM288.6,327.7h2.2v1.4h-2.2zM255.6,136.8h1.7v1.5h-1.7zM311.9,123.8h1.7v1.3h-1.7zM359.3,234.6h2.1v1.7h-2.1zM246.4,209.3h2.2v1.5h-2.2zM369.6,217.6h2.2v1.4h-2.2zM303.7,116.6h2.5v1.5h-2.5zM244.5,147.7h1.7v1.1h-1.7zM441.1,271.4h1.6v1.2h-1.6zM322.3,163.9h2.2v1.7h-2.2zM141.3,276.1h2.4v1.5h-2.4zM324.9,59.1h1.8v1.7h-1.8zM342.5,354.4h2.5v1.6h-2.5zM298.5,115.5h1.5v1.4h-1.5zM298.9,199.5h1.7v1.8h-1.7zM299.9,346.9h2.3v1.1h-2.3zM281.4,127.5h2.1v1.8h-2.1zM221.7,121.2h2.0v1.7h-2.0zM191.4,372.1h2.3v1.4h-2.3zM346.0,343.2h1.9v1.2h-1.9zM272.1,210.2h1.8v1.2h-1.8zM211.5,63.4h2.4v1.5h-2.4zM315.1,228.4h2.5v1.4h-2.5zM296.4,126.2h2.2v1.7h-2.2zM205.5,116.9h1.5v1.3h-1.5zM197.4,349.2h1.9v1.7h-1.9zM346.6,230.7h2.4v1.1h-2.4zM294.8,191.8h2.5v1.5h-2.5zM318.0,63.0h1.5v1.6h-1.5zM175.3,169.6h2.4v1.3h-2.4zM283.1,334.5h1.8v1.3h-1.8zM275.1,141.8h2.2v1.6h-2.2zM295.2,149.8h2.3v1.7h-2.3zM307.5,228.8h1.6v1.6h-1.6zM176.0,126.9h2.1v1.3h-2.1zM308.5,215.9h2.5v1.4h-2.5zM125.5,286.2h2.5v1.8h-2.5zM265.0,136.4h2.4v1.4h-2.4zM248.3,198.1h1.7v1.5h-1.7zM396.9,220.9h1.9v1.4h-1.9zM309.2,165.5h1.7v1.7h-1.7zM198.4,120.2h2.2v1.7h-2.2zM189.7,79.5h2.0v1.1h-2.0zM253.1,218.5h2.4v1.1h-2.4zM395.5,349.5h1.6v1.8h-1.6zM244.8,51.9h2.0v1.6h-2.0zM449.4,334.7h2.3v1.6h-2.3zM388.7,357.7h1.9v1.5h-1.9zM387.4,212.5h1.9v1.5h-1.9zM211.1,360.3h1.4v1.4h-1.4zM292.4,244.0h1.5v1.2h-1.5zM220.5,213.8h2.4v1.6h-2.4zM222.3,196.3h1.6v1.6h-1.6zM272.4,196.7h2.0v1.2h-2.0zM403.8,241.2h2.4v1.2h-2.4zM196.2,122.9h1.5v1.3h-1.5zM415.6,246.3h1.5v1.1h-1.5zM175.7,202.1h2.1v1.2h-2.1zM400.6,240.5h2.0v1.3h-2.0zM357.8,351.1h2.5v1.2h-2.5zM284.8,122.4h2.0v1.6h-2.0zM247.0,180.1h1.8v1.7h-1.8zM281.3,132.5h1.8v1.4h-1.8zM279.7,61.3h1.9v1.4h-1.9zM357.7,231.9h2.1v1.2h-2.1zM254.3,232.8h1.8v1.2h-1.8zM220.2,388.4h1.7v1.6h-1.7zM407.6,226.8h2.1v1.8h-2.1zM297.5,177.6h2.5v1.2h-2.5zM176.6,342.9h1.7v1.7h-1.7zM305.7,50.7h1.6v1.6h-1.6zM277.8,141.1h1.6v1.2h-1.6zM433.2,271.1h1.9v1.6h-1.9zM321.6,98.9h2.4v1.2h-2.4zM226.5,165.1h1.5v1.7h-1.5zM328.2,331.2h1.9v1.5h-1.9zM319.3,158.4h2.1v1.6h-2.1zM317.7,124.4h2.5v1.5h-2.5zM303.0,340.5h1.8v1.2h-1.8zM201.8,66.1h1.6v1.6h-1.6zM314.1,332.7h1.7v1.3h-1.7zM276.5,146.6h1.9v1.5h-1.9zM211.4,114.6h1.9v1.8h-1.9zM301.4,201.6h1.8v1.5h-1.8zM343.4,200.6h1.5v1.1h-1.5zM258.2,359.1h1.7v1.3h-1.7zM432.6,271.4h1.9v1.5h-1.9zM286.3,195.5h1.6v1.5h-1.6zM402.4,216.4h1.5v1.4h-1.5zM189.7,147.9h2.3v1.4h-2.3zM247.5,369.3h2.2v1.2h-2.2zM334.5,173.8h2.2v1.8h-2.2zM270.7,338.7h2.1v1.8h-2.1zM307.6,237.6h2.3v1.6h-2.3zM353.9,345.6h2.0v1.5h-2.0zM324.0,162.5h1.7v1.7h-1.7zM276.0,184.0h1.5v1.7h-1.5zM261.6,168.8h2.5v1.3h-2.5z" fill="#222" fill-opacity="0.9"/><path d="M205.5,285.5 202.0,285.2 200.2,284.0 199.1,282.5 198.6,280.5 199.0,278.5 200.0,277.0 201.5,276.0 203.5,275.6 205.5,276.0 207.5,277.4 208.5,279.0 208.8,281.0 208.4,283.0 207.3,284.5 205.5,285.5Z M207.0,290.1 203.0,290.0 198.5,288.7 195.7,287.0 194.1,284.5 193.5,280.5 194.4,276.0 196.5,272.6 199.5,270.5 203.0,270.1 207.5,271.5 211.5,274.4 213.7,277.5 214.0,281.0 212.2,286.0 210.0,288.8 207.0,290.1Z M208.0,295.1 193.0,294.8 190.0,293.0 188.3,290.0 187.9,285.5 188.8,277.5 189.7,274.0 193.8,268.0 196.0,266.0 198.5,264.7 203.5,264.6 210.0,266.7 219.0,273.1 220.6,275.0 221.8,277.5 222.9,284.0 222.5,286.0 218.5,288.4 212.7,293.5 208.0,295.1Z M233.5,310.1 229.6,301.0 225.6,288.0 226.0,287.0 229.5,285.2 231.5,283.4 234.0,277.4 236.2,286.5 237.9,299.0 237.0,303.1 233.5,310.1Z M396.0,309.1 393.0,309.1 391.2,307.0 391.5,304.0 393.5,302.2 396.5,302.5 398.3,304.5 398.2,307.0 396.0,309.1Z M233.0,331.7 232.4,322.0 231.4,317.0 224.0,301.2 222.0,298.5 219.0,297.8 211.0,300.7 205.5,302.0 197.0,301.8 192.5,301.1 189.5,299.9 187.0,298.0 184.9,295.0 183.4,291.5 182.9,288.0 183.0,277.0 183.7,273.5 187.0,268.0 192.0,263.3 195.5,260.9 200.5,259.7 211.5,260.9 215.5,262.4 223.0,267.2 227.5,268.2 230.0,267.1 231.5,265.1 234.0,256.3 238.9,281.0 239.9,298.0 239.0,305.5 234.6,320.0 233.0,331.7Z M396.0,315.0 392.5,315.1 389.5,313.6 387.3,311.0 386.2,307.5 386.4,304.0 388.0,300.6 390.5,298.0 393.5,296.7 396.5,296.9 400.0,298.8 403.5,302.4 404.8,305.5 404.4,308.5 402.7,311.0 399.5,313.5 396.0,315.0Z M232.5,353.2 229.1,325.0 228.0,321.0 226.0,317.5 220.0,310.5 217.0,308.2 214.0,307.9 207.5,310.0 203.5,309.9 190.0,305.3 184.5,302.2 181.6,298.5 179.3,292.5 178.2,287.0 177.5,277.0 178.8,271.0 182.0,265.3 185.1,262.5 194.0,256.8 197.5,255.6 201.5,255.4 212.5,256.2 223.0,258.7 225.5,258.8 227.5,257.3 234.0,247.3 237.8,255.0 239.0,259.4 241.0,281.5 241.3,297.0 240.8,304.0 237.6,328.0 234.5,340.4 232.5,353.2Z M396.5,320.0 391.5,320.3 386.5,318.1 381.6,313.0 379.5,308.0 380.1,304.0 383.6,298.5 389.5,291.8 393.0,290.1 398.0,290.7 402.5,292.9 408.5,299.8 410.1,304.0 409.5,309.5 407.1,314.5 403.5,317.3 396.5,320.0Z M261.5,98.0 257.5,97.9 253.5,96.5 251.5,94.5 251.5,92.0 253.5,89.0 257.0,86.8 262.5,84.7 266.0,84.9 268.8,86.5 271.4,89.0 272.3,91.0 272.1,92.5 270.6,94.5 268.5,95.9 261.5,98.0Z M232.5,364.5 230.5,364.4 229.0,362.5 229.0,347.0 225.1,327.0 223.0,322.5 219.5,319.0 215.5,317.0 206.0,316.7 194.1,315.0 188.0,309.8 180.0,304.4 177.8,302.0 176.5,299.0 172.4,284.0 171.7,277.5 172.4,272.0 174.3,267.0 178.0,261.5 182.0,257.9 192.0,251.9 196.0,250.7 210.5,251.3 218.5,252.4 222.5,251.8 226.0,249.3 230.4,244.5 231.8,241.5 234.0,234.6 240.6,255.5 243.2,283.5 242.7,298.5 239.9,329.5 236.0,350.5 234.4,362.5 233.5,364.0 232.5,364.5Z M396.0,325.0 391.5,325.2 387.0,323.9 375.3,316.0 371.8,311.5 368.0,304.0 367.5,301.5 368.0,300.0 369.4,298.5 377.0,294.7 381.0,291.8 382.9,289.5 385.1,285.0 387.0,283.0 390.5,281.7 398.0,280.7 400.5,281.2 403.5,282.6 408.0,286.3 414.0,298.1 414.8,303.0 413.2,313.0 411.3,317.0 409.0,319.1 405.5,321.3 400.0,323.8 396.0,325.0Z M256.0,105.0 250.5,104.7 245.6,103.0 242.4,100.5 240.3,96.5 240.0,93.0 241.1,90.0 245.7,84.5 249.5,81.5 253.5,80.3 264.5,78.9 268.0,79.0 283.0,86.1 285.7,88.5 285.9,90.5 284.7,93.0 282.5,95.3 279.5,97.2 275.0,99.3 267.5,101.1 259.5,104.3 256.0,105.0Z M233.0,367.1 229.0,366.8 227.2,365.5 226.3,364.0 225.8,359.5 226.4,350.5 225.9,346.5 222.0,336.2 218.0,328.9 215.5,326.5 213.0,325.3 205.0,324.1 200.5,322.7 191.0,320.7 187.8,318.5 182.5,312.5 173.4,307.0 172.0,305.4 171.1,303.0 170.4,294.5 166.9,284.5 166.3,279.5 167.2,270.0 169.6,264.0 173.7,258.5 182.8,249.5 187.5,244.0 190.5,242.4 194.5,241.9 210.0,243.7 217.5,245.9 221.0,245.5 224.0,243.4 227.0,239.7 231.0,232.4 234.0,224.8 238.7,235.5 241.5,250.6 248.9,274.5 249.5,278.5 248.4,287.0 248.2,296.5 244.5,304.5 243.5,308.7 241.8,328.0 237.0,362.5 235.7,365.5 233.0,367.1Z M398.5,329.6 393.0,329.8 386.5,328.7 373.0,321.2 368.6,317.5 360.9,307.0 359.4,302.0 360.0,292.5 356.6,286.0 356.4,284.5 357.5,283.1 362.6,281.0 365.9,275.5 367.7,274.0 372.0,273.1 380.0,274.2 386.5,274.2 396.0,271.6 401.0,271.6 404.0,272.5 406.5,274.2 412.4,282.5 419.8,300.0 419.9,303.0 418.5,315.0 416.9,318.0 414.0,320.5 402.0,328.1 398.5,329.6Z M260.0,111.0 255.5,111.2 250.5,110.6 239.5,107.8 236.7,106.5 234.2,103.0 230.8,95.0 230.7,92.0 232.1,89.0 246.5,77.7 250.0,76.0 253.5,75.3 275.5,74.4 291.0,80.4 294.5,83.0 296.5,87.0 296.2,90.5 286.5,102.5 283.9,104.0 280.0,105.3 269.0,107.0 263.0,110.1 260.0,111.0Z M234.5,369.6 231.5,370.0 228.5,369.4 225.8,368.0 224.0,366.0 222.9,362.5 222.5,349.0 221.2,345.5 219.0,342.7 216.0,340.8 209.5,339.7 206.1,338.5 203.2,336.5 198.0,331.0 189.0,327.8 177.8,317.0 169.5,311.0 167.2,307.0 165.3,295.0 161.5,287.0 160.9,283.5 162.9,269.0 165.3,262.0 168.0,256.9 174.5,248.7 179.2,238.5 183.0,233.5 189.0,230.0 193.0,229.5 211.7,237.0 216.0,238.1 219.0,237.9 222.5,235.6 226.5,231.2 234.0,216.4 237.0,221.0 238.5,224.9 240.9,233.5 242.5,244.5 243.5,247.7 250.7,255.0 254.0,261.5 255.1,267.5 255.5,274.5 255.2,279.5 253.7,286.5 253.8,289.5 255.0,293.6 259.0,300.0 259.5,302.0 258.2,304.5 252.6,309.0 250.7,311.5 248.3,323.0 243.5,330.5 241.8,337.5 238.7,364.5 237.1,368.0 234.5,369.6Z M399.5,334.6 392.0,334.4 384.0,332.9 371.0,325.9 365.5,322.0 354.7,311.5 350.3,306.5 348.2,302.5 347.0,296.8 346.0,296.4 343.5,297.8 342.0,297.5 332.7,290.0 331.6,288.0 331.4,285.5 332.1,282.5 333.5,279.8 336.0,278.5 341.5,279.4 343.0,279.1 348.0,274.4 354.0,272.0 360.5,268.5 373.6,264.0 380.5,258.4 394.0,257.2 396.7,258.0 400.8,264.0 410.5,269.7 414.3,274.0 418.6,281.5 421.0,289.1 424.8,297.0 425.6,301.0 424.1,315.5 422.5,319.7 420.0,321.9 411.0,327.0 403.5,333.0 399.5,334.6Z M241.0,118.0 237.5,118.4 234.0,117.2 216.5,105.5 214.5,101.5 213.1,93.5 213.4,90.5 215.3,88.0 227.4,80.5 235.5,78.4 242.5,74.4 249.5,71.9 254.5,70.9 261.5,71.6 265.0,71.5 276.0,67.8 279.0,68.2 289.5,73.2 293.0,73.5 299.5,72.7 303.5,72.8 307.0,73.9 308.8,75.5 309.5,77.5 310.1,83.5 313.7,89.5 313.0,92.5 310.5,95.1 298.5,100.4 291.9,106.5 287.5,109.3 282.5,111.3 272.5,113.8 265.5,117.2 261.5,117.7 248.0,116.5 241.0,118.0Z M235.0,372.6 228.5,372.1 223.3,369.5 220.5,365.5 218.3,354.0 216.0,349.8 213.0,347.8 201.0,342.9 188.5,335.9 185.0,332.9 173.6,320.5 166.6,314.5 164.0,310.0 160.6,296.5 155.0,289.5 154.1,286.0 158.3,269.0 162.6,256.0 164.8,251.5 170.0,243.0 172.4,237.5 173.1,234.0 173.3,226.0 174.4,223.5 176.1,221.5 185.5,214.7 188.0,213.8 190.5,213.8 194.5,215.4 201.3,221.0 210.5,222.5 212.2,224.0 214.5,227.5 216.0,228.4 218.0,228.6 220.5,227.9 223.0,226.1 229.5,217.3 231.9,213.0 233.0,209.0 233.0,200.0 231.9,196.0 232.0,189.0 232.9,185.0 236.4,179.0 236.2,176.0 234.2,171.0 234.8,169.0 236.8,167.0 238.5,166.8 240.0,168.1 241.5,171.4 241.9,175.0 239.6,194.5 238.4,197.5 236.2,200.0 235.8,202.0 235.4,206.0 235.8,209.0 240.0,217.2 243.0,230.8 247.4,237.0 248.6,243.5 249.8,246.5 253.0,250.5 260.5,256.5 265.0,263.0 266.5,263.4 268.5,263.0 280.5,257.3 283.5,256.5 286.0,257.1 293.0,261.7 295.5,262.4 297.0,261.8 300.6,258.0 303.2,256.5 307.0,256.0 314.0,256.8 320.0,253.1 323.0,252.4 326.9,253.0 332.5,256.2 335.5,257.0 346.0,256.9 353.5,254.4 360.5,256.7 362.2,256.0 365.8,252.0 368.0,250.7 382.0,249.6 397.0,250.0 400.0,250.5 402.9,252.0 408.0,256.2 414.0,257.8 416.5,260.0 420.0,268.6 425.8,278.0 430.1,288.0 431.8,295.0 432.2,302.5 429.5,311.0 427.7,320.0 426.3,323.0 424.0,325.2 414.5,330.1 406.0,337.8 403.0,339.1 398.5,339.6 388.5,339.5 384.0,338.7 371.5,332.3 364.0,327.3 357.5,323.9 351.5,319.3 347.5,318.0 337.0,316.8 325.5,317.2 317.6,318.5 310.5,316.7 304.0,317.8 292.0,318.4 287.5,317.6 279.5,314.6 272.5,314.2 266.0,312.4 261.5,312.7 257.8,314.0 255.4,316.0 254.1,318.5 252.5,325.0 250.8,329.0 248.5,332.7 244.0,337.6 241.5,352.0 239.7,367.5 238.0,371.1 235.0,372.6Z M237.0,375.6 234.0,375.8 229.0,374.9 224.5,373.4 221.3,371.5 218.3,368.0 215.1,359.0 213.0,356.1 210.5,354.5 202.5,351.3 187.5,341.7 177.5,331.8 171.1,326.5 163.1,317.5 160.7,313.5 155.6,299.0 151.0,292.0 149.7,289.0 149.5,284.5 151.7,271.0 155.5,262.0 159.6,247.0 164.7,238.0 165.0,228.5 166.6,223.5 170.3,218.5 182.5,208.3 187.0,206.1 191.5,206.2 206.1,212.5 219.5,217.5 222.0,217.0 224.5,215.2 227.0,212.7 228.5,209.8 228.9,207.0 228.7,200.0 227.2,188.5 226.2,171.0 227.8,160.0 227.3,144.0 230.6,128.5 230.8,125.0 229.6,122.0 226.7,119.0 212.5,111.8 209.0,108.5 208.1,106.0 207.5,98.7 205.8,91.5 206.1,88.5 207.7,85.5 210.0,83.4 216.0,79.6 220.9,75.0 223.5,73.6 232.0,72.6 238.0,70.2 245.5,68.6 253.0,65.9 256.0,65.9 262.5,67.1 265.0,66.9 276.0,61.8 280.0,62.1 288.5,66.0 293.5,67.5 311.5,67.7 313.5,68.6 315.0,70.1 319.6,79.0 325.0,85.0 326.0,87.1 325.3,90.5 317.2,101.5 313.0,104.0 302.5,107.0 296.0,112.6 286.5,119.6 275.5,120.9 264.0,123.4 253.0,122.5 249.5,122.9 247.0,124.0 245.0,125.8 242.0,131.5 241.3,135.0 241.3,139.0 245.2,152.5 247.0,173.5 245.2,195.0 244.5,197.8 241.8,203.5 241.5,209.0 243.0,213.6 247.5,216.2 249.8,219.5 252.0,229.5 256.7,244.0 258.4,246.0 266.0,251.2 270.0,252.8 273.5,251.9 279.5,246.3 282.5,244.8 286.0,244.7 293.5,246.1 302.5,245.9 320.0,242.9 327.0,244.0 335.5,248.4 339.0,249.2 343.0,248.7 349.5,246.0 359.0,246.4 369.0,243.3 379.0,242.0 383.0,242.5 391.6,245.0 402.0,245.7 409.0,248.1 415.0,248.9 418.0,251.2 421.8,257.0 429.5,270.3 437.0,285.5 439.1,293.5 437.8,304.0 433.5,315.5 431.8,324.0 430.1,327.0 427.7,329.0 420.5,333.2 410.0,341.7 406.0,343.6 402.0,344.5 388.0,344.6 382.5,343.7 375.0,340.2 362.0,332.4 354.0,330.3 346.5,327.0 343.5,327.0 335.0,328.5 326.5,326.7 319.0,327.3 310.5,326.5 301.0,326.6 282.5,324.3 272.0,321.9 264.0,319.1 260.5,319.2 259.0,320.0 257.6,322.0 249.2,342.5 244.0,348.5 242.5,353.9 240.5,370.5 239.0,374.1 237.0,375.6Z" fill="none" stroke="#444" stroke-width="1.7" stroke-linejoin="round"/>
<rect x="120" y="39" width="355" height="354.5" stroke="#000" stroke-width="7" fill="none" stroke-linejoin="round"/>
<rect x="189.7" y="44" width="149.8" height="85.3" stroke="#000" stroke-width="7" fill="none" stroke-linejoin="round"/>
<rect x="334.5" y="193.2" width="114.5" height="170.8" stroke="#000" stroke-width="7" fill="none" stroke-linejoin="round"/>
<line x1="96" y1="50.2" x2="117" y2="50.2" stroke="#000" stroke-width="3"/>
<line x1="96" y1="145" x2="117" y2="145" stroke="#000" stroke-width="3"/>
<line x1="96" y1="238" x2="117" y2="238" stroke="#000" stroke-width="3"/>
<line x1="96" y1="323.5" x2="117" y2="323.5" stroke="#000" stroke-width="3"/>
<text x="89.20" y="71.30" font-size="29.5" transform="rotate(-90 89.20 71.30)">10<tspan dy="-10" font-size="17.5">5</tspan></text>
<text x="89.20" y="164.15" font-size="29.5" transform="rotate(-90 89.20 164.15)">10<tspan dy="-10" font-size="17.5">4</tspan></text>
<text x="89.20" y="260.80" font-size="29.5" transform="rotate(-90 89.20 260.80)">10<tspan dy="-10" font-size="17.5">3</tspan></text>
<text x="95.20" y="334.05" font-size="29.5" transform="rotate(-90 95.20 334.05)">0</text>
<line x1="234.2" y1="397" x2="234.2" y2="410.5" stroke="#000" stroke-width="3"/>
<line x1="353.4" y1="397" x2="353.4" y2="410.5" stroke="#000" stroke-width="3"/>
<line x1="425.7" y1="397" x2="425.7" y2="410.5" stroke="#000" stroke-width="3"/>
<text x="228.65" y="439.20" font-size="29.5">0</text>
<text x="330.10" y="438.40" font-size="29.5">10<tspan dy="-10" font-size="17.5">4</tspan></text>
<text x="402.45" y="436.80" font-size="29.5">10<tspan dy="-10" font-size="17.5">5</tspan></text>
<text x="267.55" y="472.00" font-size="29.5">Ly6C</text>
<line x1="161" y1="461.2" x2="253.6" y2="461.2" stroke="#000" stroke-width="3"/>
<line x1="347" y1="461.2" x2="418.40000000000003" y2="461.2" stroke="#000" stroke-width="3"/><polygon points="417.40000000000003,450.4 439.1,461.2 417.40000000000003,472.0" fill="#000"/>
<line x1="36.5" y1="150" x2="36.5" y2="96.4" stroke="#000" stroke-width="3"/><polygon points="25.5,97.4 36.5,75 47.5,97.4" fill="#000"/>
<line x1="36.5" y1="292" x2="36.5" y2="331" stroke="#000" stroke-width="3"/>
<text x="47.10" y="283.05" font-size="29.5" transform="rotate(-90 47.10 283.05)">Ly6G-PE</text>
<text x="193.05" y="71.60" font-size="33.7" fill="#f00">9.6</text>
<text x="346.40" y="84.20" font-size="30">Ly6G+</text>
<text x="336.30" y="184.70" font-size="30">Ly6CHi</text>
<text x="339.65" y="224.80" font-size="33.7" fill="#f00">25.9</text>
<text x="743.10" y="21.60" font-size="29.6">CD45+CD11B+</text>
<path d="M940.0,154.9h2.5v1.7h-2.5zM1005.7,164.8h2.3v1.5h-2.3zM695.3,306.6h2.2v1.3h-2.2zM816.0,101.9h1.9v1.5h-1.9zM706.8,246.9h2.1v1.2h-2.1zM930.7,278.9h1.8v1.4h-1.8zM876.3,134.3h2.1v1.1h-2.1zM872.2,90.4h1.9v1.7h-1.9zM932.0,158.7h1.9v1.6h-1.9zM840.9,260.8h1.9v1.7h-1.9zM699.9,235.6h1.8v1.5h-1.8zM881.0,122.8h1.7v1.2h-1.7zM981.5,199.6h2.1v1.5h-2.1zM910.9,263.9h2.4v1.2h-2.4zM903.0,197.3h1.6v1.6h-1.6zM976.3,255.4h1.5v1.3h-1.5zM763.5,360.5h1.8v1.2h-1.8zM707.6,266.6h1.6v1.6h-1.6zM904.3,189.4h1.8v1.8h-1.8zM754.0,134.2h2.1v1.3h-2.1zM926.4,176.7h1.8v1.4h-1.8zM974.5,221.0h2.4v1.5h-2.4zM958.9,336.0h1.5v1.6h-1.5zM967.0,292.7h1.7v1.2h-1.7zM732.1,170.4h2.2v1.4h-2.2zM948.9,344.1h1.9v1.7h-1.9zM978.1,210.1h1.5v1.3h-1.5zM842.5,270.0h1.7v1.1h-1.7zM871.6,107.0h2.2v1.6h-2.2zM893.8,105.6h1.8v1.3h-1.8zM715.8,138.6h2.0v1.2h-2.0zM690.4,333.8h2.3v1.1h-2.3zM879.5,265.9h2.1v1.5h-2.1zM965.1,320.4h1.7v1.2h-1.7zM864.3,257.9h1.9v1.6h-1.9zM907.9,192.9h1.9v1.6h-1.9zM963.7,222.5h1.5v1.4h-1.5zM906.0,244.8h2.2v1.2h-2.2zM692.3,325.4h1.8v1.5h-1.8zM697.7,202.4h2.1v1.6h-2.1zM788.3,336.9h1.8v1.5h-1.8zM990.8,250.1h1.7v1.2h-1.7zM839.7,311.6h1.6v1.8h-1.6zM996.6,217.7h1.5v1.7h-1.5zM939.4,268.8h1.8v1.3h-1.8zM988.6,175.4h2.3v1.3h-2.3zM700.3,224.7h1.8v1.4h-1.8zM768.1,143.1h1.7v1.4h-1.7zM800.4,104.8h2.3v1.1h-2.3zM861.7,83.1h1.7v1.2h-1.7zM870.3,272.0h1.5v1.7h-1.5zM715.9,207.2h2.1v1.8h-2.1zM995.6,337.9h2.3v1.2h-2.3zM797.4,314.7h1.7v1.6h-1.7zM982.8,186.8h1.9v1.3h-1.9zM735.0,364.8h1.9v1.3h-1.9zM941.5,244.7h2.4v1.4h-2.4zM820.3,290.4h1.5v1.2h-1.5zM960.4,193.2h1.9v1.7h-1.9zM882.7,136.8h2.4v1.5h-2.4zM873.2,129.2h1.8v1.2h-1.8zM860.1,132.8h1.5v1.6h-1.5zM697.6,247.7h2.1v1.4h-2.1zM862.2,109.2h1.8v1.5h-1.8zM828.5,72.3h1.9v1.1h-1.9zM818.1,313.0h2.0v1.4h-2.0zM810.2,105.0h1.6v1.4h-1.6zM995.4,205.5h2.5v1.5h-2.5zM1003.2,214.7h2.1v1.3h-2.1zM869.6,251.9h1.8v1.7h-1.8zM703.6,219.9h2.4v1.5h-2.4zM676.5,348.3h2.1v1.5h-2.1zM839.8,284.9h1.9v1.1h-1.9zM888.3,239.1h1.9v1.4h-1.9zM962.5,251.4h2.1v1.4h-2.1zM921.1,219.9h1.5v1.2h-1.5zM752.7,359.9h2.5v1.5h-2.5zM745.2,146.5h2.5v1.2h-2.5zM690.9,268.5h1.8v1.5h-1.8zM969.2,233.3h1.9v1.5h-1.9zM897.6,84.1h2.4v1.8h-2.4zM948.4,164.3h2.2v1.4h-2.2zM728.5,346.0h2.1v1.4h-2.1zM685.9,296.0h2.3v1.8h-2.3zM874.4,65.8h1.9v1.6h-1.9zM704.7,164.2h2.1v1.7h-2.1zM841.8,62.5h1.6v1.7h-1.6zM690.6,311.4h1.8v1.7h-1.8zM763.5,108.6h1.9v1.4h-1.9zM840.5,90.8h1.6v1.5h-1.6zM942.7,371.4h1.8v1.2h-1.8zM902.8,203.5h1.9v1.1h-1.9zM877.9,170.1h1.4v1.4h-1.4zM785.1,88.2h2.0v1.3h-2.0zM891.7,189.0h2.2v1.1h-2.2zM988.1,182.1h1.6v1.3h-1.6zM921.1,224.4h1.9v1.5h-1.9zM824.6,58.7h2.0v1.4h-2.0zM780.4,121.8h2.4v1.3h-2.4zM910.0,141.3h1.5v1.5h-1.5zM901.3,202.0h1.7v1.2h-1.7zM1001.2,165.9h1.8v1.8h-1.8zM965.8,250.3h1.9v1.6h-1.9zM735.4,161.5h2.4v1.5h-2.4zM758.2,341.8h2.4v1.7h-2.4zM735.5,357.8h1.9v1.5h-1.9zM774.6,91.7h1.8v1.8h-1.8zM760.0,141.3h1.6v1.6h-1.6zM923.6,236.2h2.5v1.8h-2.5zM843.4,291.3h2.1v1.7h-2.1zM806.1,93.7h2.5v1.3h-2.5zM887.2,133.1h2.0v1.2h-2.0zM898.5,206.5h1.7v1.4h-1.7zM850.8,263.8h2.2v1.5h-2.2zM705.4,340.0h2.4v1.4h-2.4zM681.5,327.8h2.5v1.8h-2.5zM805.8,299.5h1.8v1.6h-1.8zM777.1,89.5h2.3v1.7h-2.3zM749.3,367.4h2.1v1.1h-2.1zM896.1,250.9h2.0v1.7h-2.0zM856.7,100.0h1.8v1.3h-1.8zM754.1,153.3h2.2v1.4h-2.2zM916.1,251.8h2.5v1.6h-2.5zM881.9,187.8h2.0v1.5h-2.0zM959.3,203.8h1.9v1.7h-1.9zM930.7,303.0h2.2v1.6h-2.2zM815.9,309.5h2.0v1.1h-2.0zM1009.6,230.7h1.4v1.4h-1.4zM815.5,299.4h1.5v1.8h-1.5zM713.6,193.4h1.9v1.5h-1.9zM745.0,366.0h1.6v1.6h-1.6zM962.7,247.7h2.0v1.2h-2.0zM1002.4,361.1h1.9v1.1h-1.9zM859.2,85.6h2.3v1.4h-2.3zM988.0,333.4h2.1v1.3h-2.1zM898.1,234.9h1.8v1.1h-1.8zM910.7,274.9h2.2v1.5h-2.2zM863.6,135.8h1.7v1.8h-1.7zM705.7,231.9h2.1v1.6h-2.1zM735.4,162.2h1.7v1.2h-1.7zM848.3,106.1h2.2v1.3h-2.2zM847.1,53.7h1.7v1.8h-1.7zM705.7,341.3h2.0v1.4h-2.0zM852.7,263.9h1.5v1.5h-1.5zM945.2,139.8h2.0v1.2h-2.0zM944.9,154.1h2.1v1.5h-2.1zM705.8,209.8h2.3v1.5h-2.3zM692.6,307.9h1.8v1.6h-1.8zM797.1,110.8h1.6v1.8h-1.6zM1008.2,361.2h2.3v1.3h-2.3zM723.5,350.2h2.5v1.7h-2.5zM959.3,150.8h1.5v1.4h-1.5zM945.3,257.3h1.5v1.1h-1.5zM978.0,180.2h2.4v1.8h-2.4zM711.3,270.7h2.1v1.6h-2.1zM805.2,100.5h2.1v1.5h-2.1zM908.8,210.9h2.1v1.4h-2.1zM933.0,243.1h1.8v1.1h-1.8zM890.1,253.2h1.7v1.2h-1.7zM969.1,268.8h2.1v1.7h-2.1zM989.3,336.3h2.3v1.4h-2.3zM720.7,149.7h2.1v1.1h-2.1zM912.4,123.3h1.5v1.7h-1.5zM972.4,188.5h1.9v1.4h-1.9zM993.7,237.8h1.8v1.6h-1.8zM1012.4,357.3h1.7v1.5h-1.7zM685.8,273.6h2.0v1.4h-2.0zM825.9,281.4h1.8v1.2h-1.8zM699.6,364.9h1.6v1.7h-1.6zM986.5,156.4h1.5v1.2h-1.5zM913.5,154.2h1.8v1.1h-1.8zM887.6,197.1h2.3v1.4h-2.3zM879.6,163.9h1.8v1.3h-1.8zM861.5,259.6h2.0v1.4h-2.0zM698.3,354.0h1.6v1.4h-1.6zM746.4,124.4h1.8v1.5h-1.8zM921.5,223.4h2.2v1.2h-2.2zM868.3,265.2h1.4v1.3h-1.4zM918.6,216.1h2.4v1.1h-2.4zM715.0,342.3h2.2v1.8h-2.2zM839.0,281.2h1.5v1.2h-1.5zM805.7,333.0h2.3v1.6h-2.3zM766.0,109.4h1.6v1.4h-1.6zM773.5,137.1h2.5v1.1h-2.5zM818.6,94.5h2.2v1.5h-2.2zM832.8,312.1h2.3v1.3h-2.3zM736.7,358.4h1.5v1.3h-1.5zM816.5,66.9h1.7v1.7h-1.7zM706.8,298.3h2.2v1.1h-2.2zM826.9,278.5h2.3v1.5h-2.3zM996.1,340.9h1.7v1.1h-1.7zM754.2,157.2h2.0v1.1h-2.0zM824.6,275.3h1.4v1.2h-1.4zM997.4,148.5h1.8v1.2h-1.8zM864.9,96.6h1.5v1.6h-1.5zM822.6,283.5h2.1v1.1h-2.1zM807.5,85.2h1.8v1.4h-1.8zM835.8,271.3h2.3v1.4h-2.3zM731.0,161.5h2.4v1.7h-2.4zM919.2,214.7h2.1v1.7h-2.1zM1002.6,336.0h2.2v1.2h-2.2zM749.0,150.3h1.5v1.1h-1.5zM930.7,209.9h2.1v1.2h-2.1zM884.4,179.6h2.0v1.5h-2.0zM734.5,135.7h1.9v1.8h-1.9zM896.1,211.0h2.4v1.3h-2.4zM891.2,132.1h1.5v1.3h-1.5zM976.1,301.3h1.7v1.4h-1.7zM920.3,250.4h1.6v1.4h-1.6zM989.9,160.0h1.8v1.4h-1.8zM934.0,364.5h2.0v1.8h-2.0zM732.3,176.9h1.6v1.1h-1.6zM880.2,263.8h1.8v1.6h-1.8zM827.9,280.4h2.3v1.5h-2.3zM915.4,156.3h2.4v1.7h-2.4zM858.5,64.5h1.6v1.7h-1.6zM950.5,336.8h2.4v1.2h-2.4zM700.2,355.9h2.1v1.5h-2.1zM879.1,128.8h2.2v1.3h-2.2zM761.1,123.6h2.4v1.2h-2.4zM985.0,199.9h1.9v1.8h-1.9zM958.5,246.1h2.5v1.3h-2.5zM942.6,378.9h2.5v1.4h-2.5zM700.7,359.3h2.1v1.6h-2.1zM1005.6,377.2h1.9v1.2h-1.9zM865.2,151.0h1.9v1.3h-1.9zM914.3,246.7h1.7v1.5h-1.7zM956.6,200.8h2.2v1.6h-2.2zM926.5,146.5h2.5v1.8h-2.5zM794.0,93.7h2.2v1.8h-2.2zM892.4,128.5h1.5v1.8h-1.5zM708.1,180.4h1.9v1.6h-1.9zM886.5,100.9h2.5v1.4h-2.5zM769.9,123.2h2.0v1.1h-2.0zM823.6,86.3h1.8v1.1h-1.8zM936.0,252.3h2.1v1.2h-2.1zM714.8,216.7h2.2v1.2h-2.2zM756.8,150.2h2.4v1.2h-2.4zM697.8,225.7h2.2v1.7h-2.2zM894.0,197.6h1.7v1.8h-1.7zM694.8,261.2h1.6v1.7h-1.6zM723.5,346.6h2.1v1.2h-2.1zM894.3,179.0h1.9v1.7h-1.9zM940.5,258.1h2.3v1.3h-2.3zM950.9,143.9h1.5v1.2h-1.5zM770.9,348.8h2.5v1.2h-2.5zM992.0,250.8h2.2v1.7h-2.2zM858.8,125.2h1.9v1.4h-1.9zM870.7,154.2h2.1v1.6h-2.1zM892.4,125.3h2.3v1.7h-2.3zM750.4,132.2h1.8v1.2h-1.8zM877.9,167.1h1.7v1.3h-1.7zM955.8,309.4h1.9v1.2h-1.9zM928.4,206.8h1.6v1.7h-1.6zM963.5,159.3h2.0v1.5h-2.0zM893.4,196.9h2.3v1.2h-2.3zM944.2,156.3h2.1v1.4h-2.1zM875.8,280.1h2.2v1.1h-2.2zM837.5,91.9h2.4v1.3h-2.4zM732.4,162.2h2.2v1.3h-2.2zM958.4,170.6h2.4v1.3h-2.4zM880.7,132.8h1.5v1.2h-1.5zM712.3,281.4h2.1v1.6h-2.1zM923.9,132.2h1.8v1.2h-1.8zM710.9,166.0h1.9v1.6h-1.9zM871.2,90.3h2.0v1.7h-2.0zM928.3,286.6h1.9v1.4h-1.9zM967.2,181.4h2.3v1.1h-2.3zM887.6,260.9h1.5v1.2h-1.5zM965.2,142.9h2.4v1.6h-2.4zM812.3,73.5h2.1v1.3h-2.1zM885.2,171.2h2.0v1.2h-2.0zM709.8,294.3h1.5v1.2h-1.5zM687.2,315.9h1.5v1.6h-1.5zM713.2,177.8h1.5v1.6h-1.5zM990.9,319.2h2.3v1.3h-2.3zM799.4,88.8h2.5v1.2h-2.5zM956.3,223.5h2.4v1.4h-2.4zM898.3,153.9h2.1v1.5h-2.1zM932.0,202.0h1.8v1.7h-1.8zM864.6,144.9h2.1v1.2h-2.1zM772.9,337.0h2.1v1.4h-2.1zM980.0,165.7h2.3v1.6h-2.3zM719.6,350.7h1.9v1.5h-1.9zM782.4,108.0h1.7v1.3h-1.7zM897.0,199.7h1.8v1.7h-1.8zM1002.6,202.7h1.9v1.4h-1.9zM847.8,273.1h1.9v1.3h-1.9zM714.8,176.6h1.5v1.4h-1.5zM701.5,216.2h1.6v1.7h-1.6zM823.1,95.2h2.4v1.4h-2.4zM905.5,167.8h2.0v1.3h-2.0zM935.5,277.5h2.4v1.4h-2.4zM884.6,106.1h2.3v1.5h-2.3zM921.4,208.3h2.0v1.7h-2.0zM899.6,148.2h2.0v1.6h-2.0zM889.3,127.6h2.3v1.1h-2.3zM772.1,112.6h1.7v1.1h-1.7zM982.0,306.3h1.9v1.1h-1.9zM963.4,267.8h2.4v1.7h-2.4zM985.1,185.3h1.8v1.6h-1.8zM905.2,189.2h1.5v1.7h-1.5zM914.1,278.4h2.0v1.6h-2.0zM708.1,248.0h1.9v1.2h-1.9zM707.2,343.2h1.5v1.7h-1.5zM764.6,343.4h2.1v1.7h-2.1zM957.1,213.9h2.0v1.6h-2.0zM691.9,261.1h1.5v1.7h-1.5zM960.8,230.9h1.8v1.5h-1.8zM727.8,168.0h1.9v1.6h-1.9zM937.5,206.1h2.1v1.1h-2.1zM915.1,276.1h1.9v1.8h-1.9zM912.4,232.9h1.9v1.4h-1.9zM893.7,254.6h2.4v1.7h-2.4zM891.8,215.4h1.5v1.5h-1.5zM703.7,353.8h2.2v1.1h-2.2zM824.8,294.0h2.3v1.4h-2.3zM767.0,116.3h1.6v1.7h-1.6zM688.4,306.2h2.0v1.2h-2.0zM940.7,342.5h1.7v1.7h-1.7zM986.7,306.7h2.2v1.2h-2.2zM715.3,176.1h2.3v1.5h-2.3zM980.4,182.9h2.3v1.8h-2.3zM732.8,150.2h1.7v1.7h-1.7zM816.1,90.8h1.9v1.7h-1.9zM924.6,210.6h2.4v1.2h-2.4zM966.2,320.5h2.1v1.3h-2.1zM814.4,290.6h1.5v1.4h-1.5zM857.8,261.8h1.6v1.3h-1.6zM687.4,319.2h1.5v1.3h-1.5zM689.0,261.4h2.1v1.1h-2.1zM766.0,145.2h1.9v1.2h-1.9zM945.1,303.0h2.2v1.4h-2.2zM948.3,182.9h1.7v1.5h-1.7zM1006.6,335.4h2.1v1.1h-2.1zM898.3,172.2h2.0v1.6h-2.0zM815.7,102.2h2.3v1.7h-2.3zM845.6,279.5h2.1v1.2h-2.1zM777.7,107.4h1.9v1.2h-1.9zM826.6,328.7h2.5v1.7h-2.5zM897.6,194.4h2.5v1.1h-2.5zM986.1,295.0h1.7v1.7h-1.7zM876.3,89.0h1.7v1.7h-1.7zM890.2,230.7h1.5v1.6h-1.5zM825.2,265.1h2.2v1.1h-2.2zM777.8,115.9h1.6v1.4h-1.6zM879.7,249.2h1.7v1.4h-1.7zM901.3,119.7h2.2v1.1h-2.2zM969.1,166.3h1.5v1.4h-1.5zM925.3,181.7h2.3v1.8h-2.3zM983.3,251.7h2.2v1.1h-2.2zM865.5,115.9h1.6v1.5h-1.6zM890.3,133.5h1.6v1.2h-1.6zM940.2,295.1h2.2v1.1h-2.2zM959.3,275.3h2.0v1.7h-2.0zM992.6,205.6h1.6v1.8h-1.6zM874.1,160.1h1.9v1.2h-1.9zM886.6,268.7h1.6v1.2h-1.6zM892.1,210.5h2.4v1.7h-2.4zM952.8,168.4h2.0v1.3h-2.0zM997.0,330.3h2.2v1.4h-2.2zM979.3,138.6h1.9v1.5h-1.9zM818.0,303.2h2.2v1.7h-2.2zM693.0,251.5h2.1v1.2h-2.1zM706.7,258.9h2.4v1.2h-2.4zM920.5,266.8h2.5v1.3h-2.5zM711.6,284.2h2.2v1.8h-2.2zM942.1,332.4h2.3v1.4h-2.3zM707.3,344.1h1.6v1.8h-1.6zM895.3,153.9h1.7v1.7h-1.7zM890.6,126.7h1.5v1.6h-1.5zM691.8,338.4h2.3v1.2h-2.3zM751.1,139.9h2.5v1.7h-2.5zM885.8,144.2h1.6v1.1h-1.6zM689.7,303.7h2.2v1.1h-2.2zM1011.6,360.4h1.8v1.3h-1.8zM998.4,318.4h1.7v1.2h-1.7zM972.6,222.9h1.9v1.2h-1.9zM979.4,184.1h2.3v1.1h-2.3zM940.0,378.4h1.6v1.2h-1.6zM681.1,280.9h2.1v1.4h-2.1zM962.7,253.6h1.6v1.8h-1.6zM833.8,63.6h2.3v1.8h-2.3zM981.8,136.7h2.3v1.3h-2.3zM820.3,66.5h1.5v1.5h-1.5zM752.7,341.0h2.5v1.7h-2.5zM876.8,148.2h1.8v1.4h-1.8zM755.9,129.6h1.8v1.2h-1.8zM703.3,242.3h2.4v1.3h-2.4zM913.3,139.0h1.6v1.2h-1.6zM970.4,230.6h2.2v1.7h-2.2zM768.5,352.1h2.3v1.3h-2.3zM938.5,326.1h1.9v1.8h-1.9zM734.6,150.7h1.7v1.5h-1.7zM716.5,342.5h1.9v1.2h-1.9zM931.4,191.3h2.3v1.7h-2.3zM886.5,224.0h2.1v1.2h-2.1zM939.2,171.4h1.5v1.2h-1.5zM1015.0,394.2h1.7v1.6h-1.7zM894.2,166.7h1.7v1.5h-1.7zM914.2,280.7h2.4v1.3h-2.4zM703.2,251.8h2.3v1.6h-2.3zM991.8,267.8h1.7v1.6h-1.7zM845.5,105.6h1.9v1.6h-1.9zM707.6,228.6h2.2v1.7h-2.2zM939.8,390.5h1.9v1.3h-1.9zM935.3,236.4h2.4v1.6h-2.4zM970.6,137.2h1.8v1.7h-1.8zM876.3,88.8h2.3v1.4h-2.3zM735.7,173.4h1.7v1.4h-1.7zM859.7,283.0h1.5v1.7h-1.5zM824.7,75.5h1.5v1.4h-1.5zM856.1,87.7h1.8v1.6h-1.8zM701.1,261.3h2.2v1.5h-2.2zM779.9,333.4h2.5v1.3h-2.5zM904.1,202.1h1.5v1.4h-1.5zM874.0,253.1h1.5v1.6h-1.5zM883.4,154.3h1.5v1.1h-1.5zM881.1,158.4h2.0v1.8h-2.0zM1004.4,211.2h2.3v1.8h-2.3zM973.4,143.8h1.8v1.7h-1.8zM962.8,206.3h1.5v1.4h-1.5zM862.4,122.0h2.1v1.5h-2.1zM793.9,344.9h1.5v1.7h-1.5zM1002.7,258.9h1.7v1.1h-1.7zM877.5,102.1h2.2v1.5h-2.2zM910.3,136.5h1.9v1.5h-1.9zM812.5,312.0h2.5v1.6h-2.5zM728.0,183.6h2.0v1.2h-2.0zM995.4,154.4h2.3v1.2h-2.3zM823.2,75.0h2.1v1.3h-2.1zM851.2,264.9h2.1v1.3h-2.1zM968.2,238.5h2.2v1.3h-2.2zM819.2,316.5h2.4v1.7h-2.4zM780.0,128.8h2.4v1.3h-2.4zM908.6,285.8h2.2v1.1h-2.2zM967.0,310.8h2.0v1.7h-2.0zM825.5,310.2h1.7v1.4h-1.7zM694.7,283.6h1.9v1.4h-1.9zM909.4,202.7h2.4v1.6h-2.4zM853.0,87.1h1.4v1.3h-1.4zM855.6,257.8h1.6v1.3h-1.6zM837.4,75.5h1.4v1.5h-1.4zM839.8,99.9h2.5v1.2h-2.5zM965.6,193.7h1.9v1.1h-1.9zM868.0,112.3h2.3v1.7h-2.3zM957.2,205.9h2.0v1.5h-2.0zM793.0,320.6h2.3v1.3h-2.3zM732.3,130.8h1.6v1.4h-1.6zM804.7,301.0h2.4v1.5h-2.4zM1009.7,390.7h1.7v1.4h-1.7zM836.5,82.4h1.8v1.7h-1.8zM933.6,197.4h1.9v1.1h-1.9zM849.8,273.4h1.5v1.7h-1.5zM845.4,279.6h1.9v1.5h-1.9zM748.7,160.1h2.3v1.4h-2.3zM843.1,304.8h2.5v1.4h-2.5zM940.9,183.4h1.7v1.3h-1.7zM771.1,138.9h2.2v1.4h-2.2zM911.2,223.2h1.5v1.6h-1.5zM880.7,250.3h2.3v1.5h-2.3zM800.3,316.0h2.5v1.2h-2.5zM833.6,262.7h2.4v1.2h-2.4zM886.5,99.2h2.4v1.6h-2.4zM929.0,239.8h2.4v1.5h-2.4zM934.1,176.6h1.5v1.2h-1.5zM708.4,272.9h2.1v1.7h-2.1zM853.2,85.9h1.6v1.6h-1.6zM837.2,260.8h2.4v1.5h-2.4zM968.9,298.3h2.0v1.8h-2.0zM816.5,84.4h2.5v1.2h-2.5zM856.8,67.8h2.3v1.6h-2.3zM700.5,336.1h1.9v1.5h-1.9zM792.6,337.4h2.3v1.3h-2.3zM870.5,131.1h1.7v1.8h-1.7zM674.9,344.8h1.7v1.7h-1.7zM914.9,192.6h2.3v1.8h-2.3zM1001.4,223.0h2.3v1.7h-2.3zM975.1,210.8h2.1v1.6h-2.1zM968.6,174.0h2.1v1.7h-2.1zM1001.0,333.3h1.8v1.7h-1.8zM893.3,249.9h1.6v1.2h-1.6zM709.4,346.9h2.5v1.7h-2.5zM861.4,252.1h2.1v1.6h-2.1zM710.9,345.0h2.3v1.6h-2.3zM1001.1,222.1h1.5v1.1h-1.5zM992.8,211.7h1.7v1.2h-1.7zM909.9,238.7h2.1v1.4h-2.1zM872.8,57.7h2.2v1.3h-2.2zM844.0,290.4h1.7v1.7h-1.7zM850.3,119.2h1.5v1.5h-1.5zM727.0,350.8h1.5v1.8h-1.5zM784.7,86.3h2.1v1.6h-2.1zM945.7,273.2h1.6v1.8h-1.6zM707.9,290.8h2.0v1.4h-2.0zM1005.8,229.7h1.5v1.5h-1.5zM883.7,103.3h1.4v1.2h-1.4zM799.4,306.0h1.6v1.4h-1.6zM950.7,170.9h2.4v1.5h-2.4zM891.4,161.5h2.2v1.5h-2.2zM920.2,269.5h1.6v1.7h-1.6zM1006.9,363.4h2.3v1.2h-2.3zM793.9,103.5h1.6v1.3h-1.6zM994.8,200.6h2.2v1.1h-2.2zM873.6,264.4h2.0v1.4h-2.0zM935.9,158.6h2.5v1.2h-2.5zM718.1,344.9h2.5v1.8h-2.5zM929.5,247.3h2.5v1.6h-2.5zM836.6,96.7h2.4v1.7h-2.4zM925.5,123.9h1.9v1.8h-1.9zM949.9,120.4h2.2v1.4h-2.2zM988.8,206.5h1.9v1.2h-1.9zM941.8,341.3h2.2v1.6h-2.2zM805.5,108.6h2.5v1.6h-2.5zM861.8,122.8h1.6v1.8h-1.6zM923.3,142.0h2.3v1.6h-2.3zM921.4,239.4h1.8v1.3h-1.8zM929.8,199.9h2.4v1.6h-2.4zM973.1,196.3h2.0v1.1h-2.0zM769.6,121.4h1.9v1.7h-1.9zM938.0,309.5h2.1v1.7h-2.1zM897.6,213.4h2.1v1.5h-2.1zM683.1,327.4h1.8v1.7h-1.8zM868.4,78.2h1.5v1.4h-1.5zM974.1,207.4h2.3v1.2h-2.3zM723.1,183.2h2.2v1.1h-2.2zM796.5,316.7h1.9v1.8h-1.9zM878.3,269.4h2.4v1.6h-2.4zM1010.7,223.1h2.2v1.6h-2.2zM744.8,126.6h2.5v1.7h-2.5zM971.6,266.4h1.7v1.8h-1.7zM987.9,337.6h2.1v1.7h-2.1zM840.9,293.9h1.7v1.2h-1.7zM713.8,361.0h1.7v1.5h-1.7zM873.6,244.8h1.6v1.5h-1.6zM980.1,168.1h1.6v1.6h-1.6zM719.1,145.0h2.4v1.5h-2.4zM693.2,301.4h1.4v1.4h-1.4zM819.3,305.1h2.1v1.8h-2.1zM940.2,255.2h1.5v1.3h-1.5zM807.4,295.9h1.7v1.3h-1.7zM953.9,214.0h2.4v1.7h-2.4zM950.8,321.4h2.3v1.5h-2.3zM958.8,269.8h2.5v1.7h-2.5zM871.8,149.8h2.5v1.6h-2.5zM688.6,243.9h2.1v1.3h-2.1zM919.1,260.1h1.8v1.6h-1.8zM882.1,139.3h1.8v1.5h-1.8zM693.6,347.8h2.1v1.5h-2.1zM803.2,303.7h1.8v1.7h-1.8zM849.7,120.5h1.8v1.8h-1.8zM866.7,144.3h2.4v1.5h-2.4zM855.8,51.6h2.3v1.8h-2.3zM725.1,349.4h1.6v1.3h-1.6zM762.8,130.6h1.8v1.2h-1.8zM691.8,314.3h1.9v1.3h-1.9zM702.7,221.4h1.6v1.2h-1.6zM820.6,91.3h1.7v1.2h-1.7zM887.0,141.9h2.4v1.5h-2.4zM932.4,153.5h2.5v1.3h-2.5zM820.6,289.7h1.5v1.8h-1.5zM959.0,182.3h1.5v1.8h-1.5zM752.1,120.4h2.0v1.5h-2.0zM1009.6,351.5h2.5v1.2h-2.5zM951.6,222.2h2.2v1.3h-2.2zM879.9,93.8h2.0v1.4h-2.0zM750.2,364.8h1.9v1.4h-1.9zM859.7,265.2h2.0v1.7h-2.0zM944.7,202.2h1.9v1.5h-1.9zM880.0,120.8h1.6v1.3h-1.6zM820.6,269.1h2.5v1.2h-2.5zM858.2,103.5h1.8v1.3h-1.8zM712.7,348.7h2.4v1.7h-2.4zM710.6,285.4h2.1v1.2h-2.1zM840.8,274.4h2.3v1.3h-2.3zM812.0,291.8h1.6v1.7h-1.6zM814.2,326.3h1.9v1.8h-1.9zM972.4,209.8h1.7v1.7h-1.7zM799.6,305.2h2.1v1.4h-2.1zM894.5,108.1h1.5v1.5h-1.5zM931.6,271.1h1.7v1.2h-1.7zM988.4,284.9h2.0v1.1h-2.0zM883.9,141.8h1.9v1.7h-1.9zM868.1,108.3h1.9v1.6h-1.9zM746.4,343.4h2.0v1.3h-2.0zM999.9,336.1h2.1v1.4h-2.1zM864.6,108.3h2.3v1.7h-2.3zM699.3,243.8h2.0v1.4h-2.0zM756.0,132.1h1.7v1.5h-1.7zM900.9,139.7h1.9v1.3h-1.9zM735.4,345.9h2.3v1.7h-2.3zM921.0,262.0h1.7v1.1h-1.7zM848.1,287.8h1.7v1.5h-1.7zM881.6,160.4h1.9v1.3h-1.9zM688.9,293.8h2.1v1.7h-2.1zM920.0,263.3h2.3v1.2h-2.3zM951.2,177.0h1.9v1.2h-1.9zM686.0,217.4h1.6v1.3h-1.6zM747.7,151.7h1.5v1.4h-1.5zM686.3,245.6h2.0v1.8h-2.0zM966.7,134.0h2.4v1.6h-2.4zM981.5,204.6h1.6v1.5h-1.6zM962.7,322.6h2.0v1.6h-2.0zM863.2,260.8h2.4v1.6h-2.4zM874.1,247.2h2.5v1.2h-2.5zM784.7,109.0h1.8v1.7h-1.8zM942.2,309.0h2.4v1.2h-2.4zM980.1,251.2h1.6v1.5h-1.6zM757.4,351.9h1.6v1.2h-1.6zM996.3,346.5h1.5v1.8h-1.5zM940.7,346.1h2.0v1.5h-2.0zM961.3,227.1h1.9v1.6h-1.9zM978.0,290.7h1.7v1.3h-1.7zM886.6,105.2h1.8v1.3h-1.8zM830.2,86.2h2.0v1.3h-2.0zM705.8,297.3h2.0v1.3h-2.0zM866.1,264.5h1.8v1.6h-1.8zM751.6,351.7h2.3v1.2h-2.3zM720.2,166.6h2.5v1.3h-2.5zM910.0,216.7h2.3v1.7h-2.3zM826.5,296.8h1.7v1.3h-1.7zM941.7,249.4h2.3v1.6h-2.3zM789.5,319.5h1.8v1.1h-1.8zM704.8,189.6h1.5v1.1h-1.5zM809.5,318.6h1.8v1.3h-1.8zM819.8,325.0h2.0v1.5h-2.0zM1011.4,339.6h1.7v1.3h-1.7zM961.7,190.4h2.4v1.2h-2.4zM1005.8,341.2h2.0v1.3h-2.0zM904.7,167.4h2.5v1.3h-2.5zM950.0,245.0h1.6v1.5h-1.6zM752.2,369.7h2.3v1.7h-2.3zM867.4,258.4h2.2v1.3h-2.2zM968.9,244.2h2.3v1.4h-2.3zM889.9,180.9h1.7v1.5h-1.7zM709.0,221.9h2.1v1.5h-2.1zM703.1,215.6h1.6v1.4h-1.6zM868.7,265.9h2.4v1.2h-2.4zM990.4,229.2h2.4v1.4h-2.4zM879.7,169.9h1.9v1.7h-1.9zM773.8,135.3h2.5v1.7h-2.5zM943.2,376.2h2.3v1.3h-2.3zM969.8,251.4h1.8v1.5h-1.8zM857.7,129.8h2.2v1.7h-2.2zM893.1,175.0h1.9v1.2h-1.9zM998.2,259.0h1.6v1.7h-1.6zM903.8,149.1h1.9v1.2h-1.9zM783.6,337.8h1.5v1.6h-1.5zM898.6,229.8h2.4v1.2h-2.4zM700.5,266.1h2.3v1.6h-2.3zM683.7,262.1h1.7v1.1h-1.7zM785.6,126.6h2.4v1.6h-2.4zM1005.7,346.5h2.3v1.7h-2.3zM673.4,318.5h2.1v1.7h-2.1zM923.6,120.8h2.5v1.3h-2.5zM901.2,237.7h1.9v1.3h-1.9zM999.4,225.5h1.6v1.5h-1.6zM951.7,167.2h1.9v1.6h-1.9zM948.5,184.9h2.5v1.4h-2.5zM885.8,154.9h1.5v1.6h-1.5zM985.3,254.0h2.4v1.7h-2.4zM943.8,199.2h2.1v1.2h-2.1zM777.3,105.4h1.6v1.1h-1.6zM871.1,145.8h2.5v1.3h-2.5zM883.9,123.5h1.9v1.6h-1.9zM1002.6,253.7h1.6v1.7h-1.6zM893.7,233.2h1.9v1.2h-1.9zM977.8,188.6h1.6v1.8h-1.6zM884.4,231.3h2.2v1.7h-2.2zM937.0,254.1h1.6v1.4h-1.6zM876.0,143.3h2.2v1.3h-2.2zM810.0,90.1h2.5v1.4h-2.5zM938.2,357.6h2.2v1.4h-2.2zM736.7,133.7h1.5v1.7h-1.5zM870.6,150.4h2.2v1.6h-2.2zM925.2,272.5h2.3v1.2h-2.3zM719.8,375.3h1.4v1.4h-1.4zM885.5,112.6h2.3v1.5h-2.3zM720.4,191.6h1.7v1.3h-1.7zM690.5,322.9h1.8v1.1h-1.8zM768.0,100.1h1.7v1.2h-1.7zM961.5,152.2h1.9v1.6h-1.9zM990.5,250.2h2.2v1.1h-2.2zM820.0,311.7h2.1v1.7h-2.1zM849.2,105.8h1.7v1.5h-1.7zM962.1,195.8h2.0v1.8h-2.0zM946.8,244.4h1.9v1.8h-1.9zM709.1,231.3h1.5v1.7h-1.5zM912.6,227.6h2.4v1.4h-2.4zM945.3,383.8h1.7v1.1h-1.7zM944.4,372.7h2.1v1.7h-2.1zM971.1,141.0h1.8v1.4h-1.8zM913.7,153.6h2.2v1.3h-2.2zM981.7,191.4h2.1v1.4h-2.1zM813.5,104.9h1.7v1.2h-1.7zM770.2,121.3h1.7v1.3h-1.7zM950.0,236.9h2.2v1.2h-2.2zM945.6,375.6h2.0v1.4h-2.0zM900.9,163.2h2.2v1.2h-2.2zM971.2,137.7h2.0v1.6h-2.0zM883.7,251.2h2.4v1.4h-2.4zM893.5,164.5h1.8v1.2h-1.8zM833.8,66.3h2.0v1.3h-2.0zM842.0,102.2h2.3v1.8h-2.3zM781.0,331.1h1.9v1.5h-1.9zM885.9,107.7h1.8v1.5h-1.8zM695.5,257.6h2.0v1.2h-2.0zM707.2,196.6h2.2v1.4h-2.2zM944.7,291.1h1.9v1.3h-1.9zM972.3,220.9h1.8v1.2h-1.8zM875.1,147.5h2.3v1.4h-2.3zM868.4,141.4h2.2v1.6h-2.2zM946.0,147.7h2.4v1.7h-2.4zM996.9,147.2h1.8v1.5h-1.8zM735.2,152.2h2.3v1.7h-2.3zM890.4,165.5h1.9v1.1h-1.9zM693.6,246.5h1.8v1.6h-1.8zM983.3,225.2h1.8v1.5h-1.8zM815.4,94.7h2.4v1.3h-2.4zM721.5,197.2h1.6v1.4h-1.6zM941.9,346.0h1.8v1.3h-1.8zM740.3,349.2h2.5v1.7h-2.5zM991.5,170.5h1.7v1.7h-1.7zM851.7,124.3h1.8v1.7h-1.8zM1006.6,163.4h2.0v1.4h-2.0zM853.7,116.2h2.0v1.3h-2.0zM742.4,154.2h2.2v1.3h-2.2zM706.9,345.5h2.0v1.6h-2.0zM960.5,331.2h2.1v1.4h-2.1zM980.1,205.7h2.4v1.8h-2.4zM959.4,232.4h2.4v1.1h-2.4zM961.0,271.0h1.6v1.5h-1.6zM822.3,271.5h2.4v1.2h-2.4zM835.6,269.2h1.4v1.4h-1.4zM679.7,281.0h1.6v1.4h-1.6zM1005.1,244.1h2.3v1.3h-2.3zM871.1,116.6h1.6v1.6h-1.6zM1002.0,267.3h2.4v1.4h-2.4zM867.6,263.2h1.9v1.6h-1.9zM899.4,126.3h1.6v1.8h-1.6zM941.2,136.1h2.1v1.4h-2.1zM924.3,255.5h2.3v1.1h-2.3zM890.6,187.1h2.3v1.2h-2.3zM968.7,304.5h2.0v1.1h-2.0zM967.0,159.4h2.0v1.2h-2.0zM833.6,262.6h2.2v1.3h-2.2zM927.5,250.3h1.8v1.4h-1.8zM787.8,108.9h2.2v1.8h-2.2zM891.6,159.2h2.0v1.7h-2.0zM908.5,179.1h1.4v1.4h-1.4zM955.1,165.8h2.1v1.2h-2.1zM866.5,101.4h2.0v1.3h-2.0zM984.0,148.2h1.9v1.2h-1.9zM910.5,228.7h1.9v1.1h-1.9zM948.7,145.2h2.1v1.2h-2.1zM855.5,256.4h2.1v1.6h-2.1zM701.0,195.7h1.6v1.3h-1.6zM711.5,206.7h1.5v1.1h-1.5zM989.5,140.4h2.5v1.2h-2.5zM810.6,297.3h2.1v1.5h-2.1zM846.6,97.9h2.1v1.2h-2.1zM774.4,350.6h1.4v1.7h-1.4zM698.2,244.2h1.8v1.7h-1.8zM754.5,350.1h1.9v1.2h-1.9zM909.9,232.4h1.9v1.5h-1.9zM915.7,178.1h2.2v1.1h-2.2zM980.4,183.0h1.8v1.5h-1.8zM741.6,345.9h1.8v1.2h-1.8zM1000.6,223.6h1.7v1.8h-1.7zM975.5,190.0h2.4v1.3h-2.4zM881.6,125.0h2.4v1.2h-2.4zM915.0,122.8h2.1v1.7h-2.1zM935.3,195.8h1.5v1.6h-1.5zM961.1,205.8h1.7v1.3h-1.7zM813.4,302.5h2.3v1.7h-2.3zM798.7,112.9h2.5v1.2h-2.5zM982.7,206.0h1.5v1.3h-1.5zM876.4,116.5h2.1v1.5h-2.1zM937.8,152.7h2.5v1.3h-2.5zM913.7,216.5h2.2v1.3h-2.2zM946.7,330.9h1.6v1.6h-1.6zM779.4,116.0h2.1v1.6h-2.1zM749.4,130.2h1.5v1.7h-1.5zM936.6,272.9h1.9v1.3h-1.9zM938.7,225.3h2.4v1.5h-2.4zM854.8,100.9h1.6v1.4h-1.6zM708.7,266.5h2.0v1.6h-2.0zM1001.3,356.2h2.4v1.5h-2.4zM815.6,281.0h1.5v1.3h-1.5zM948.1,388.6h2.1v1.4h-2.1zM971.7,282.1h2.4v1.5h-2.4zM945.4,172.6h1.6v1.4h-1.6zM968.4,301.3h1.9v1.2h-1.9zM900.6,237.1h2.1v1.2h-2.1zM773.4,102.3h1.5v1.7h-1.5zM715.2,181.3h1.6v1.2h-1.6zM1003.0,351.1h2.5v1.4h-2.5zM708.5,260.6h1.7v1.4h-1.7zM987.3,183.1h1.5v1.3h-1.5zM984.9,273.0h2.1v1.6h-2.1zM821.6,266.5h1.5v1.2h-1.5zM771.6,125.2h2.4v1.7h-2.4zM925.8,208.2h1.8v1.6h-1.8zM825.7,303.7h2.1v1.6h-2.1zM801.4,111.0h1.5v1.5h-1.5zM924.3,231.0h2.2v1.5h-2.2zM791.8,111.2h1.9v1.1h-1.9zM924.3,158.1h2.3v1.5h-2.3zM940.9,290.3h2.1v1.4h-2.1zM941.1,180.2h2.1v1.3h-2.1zM796.1,309.8h2.4v1.2h-2.4zM832.2,277.8h2.5v1.4h-2.5zM851.0,256.4h1.7v1.2h-1.7zM934.1,122.1h1.5v1.1h-1.5zM973.1,205.1h2.5v1.3h-2.5zM949.0,331.3h2.5v1.5h-2.5zM929.5,255.2h2.3v1.7h-2.3zM813.6,95.1h2.2v1.5h-2.2zM703.5,218.6h1.8v1.3h-1.8zM962.4,209.1h2.5v1.1h-2.5zM901.5,215.3h2.2v1.4h-2.2zM961.9,195.0h2.3v1.6h-2.3zM963.8,305.6h2.2v1.3h-2.2zM927.1,226.5h1.5v1.4h-1.5zM691.5,323.6h1.6v1.7h-1.6zM770.8,353.6h2.5v1.5h-2.5zM775.1,337.9h2.0v1.6h-2.0zM684.0,291.2h1.6v1.6h-1.6zM852.8,73.4h2.1v1.3h-2.1zM834.8,51.0h2.1v1.8h-2.1zM858.9,129.7h1.5v1.5h-1.5zM1004.3,222.1h2.1v1.2h-2.1zM890.8,164.7h2.3v1.5h-2.3zM771.5,116.2h1.6v1.8h-1.6zM706.4,345.1h1.6v1.5h-1.6zM898.5,199.5h1.9v1.2h-1.9zM748.9,137.7h1.5v1.6h-1.5zM698.1,221.2h1.4v1.6h-1.4zM728.5,370.8h2.0v1.5h-2.0zM894.8,277.2h1.6v1.5h-1.6zM690.2,345.4h2.4v1.3h-2.4zM790.2,110.2h2.2v1.7h-2.2zM963.2,282.5h1.5v1.1h-1.5zM730.1,175.0h2.5v1.5h-2.5zM988.5,180.1h1.5v1.6h-1.5zM904.1,206.7h1.8v1.7h-1.8zM937.1,208.8h2.3v1.6h-2.3zM812.7,298.1h2.3v1.7h-2.3zM906.9,163.8h1.5v1.7h-1.5zM979.5,207.8h1.8v1.7h-1.8zM718.9,200.2h2.3v1.5h-2.3zM892.1,252.7h2.4v1.6h-2.4zM986.7,234.5h1.6v1.7h-1.6zM853.1,86.7h2.3v1.6h-2.3zM947.0,322.4h1.7v1.3h-1.7zM891.4,257.7h2.5v1.2h-2.5zM760.1,123.9h2.1v1.5h-2.1zM969.1,217.5h2.2v1.6h-2.2zM776.3,338.9h2.4v1.5h-2.4zM992.8,332.9h1.6v1.2h-1.6zM971.4,192.1h2.3v1.3h-2.3zM872.6,148.5h1.9v1.6h-1.9zM712.0,353.8h1.6v1.5h-1.6zM843.2,280.9h2.2v1.2h-2.2zM979.9,262.3h2.4v1.6h-2.4zM949.8,193.5h2.0v1.4h-2.0zM946.3,326.9h1.6v1.5h-1.6zM884.1,136.2h2.4v1.8h-2.4zM828.3,311.9h1.6v1.6h-1.6zM953.4,301.7h1.6v1.6h-1.6zM966.8,223.9h2.4v1.5h-2.4zM974.1,181.5h2.3v1.3h-2.3zM911.0,267.7h1.8v1.3h-1.8zM940.6,187.6h2.5v1.7h-2.5zM889.6,195.4h2.2v1.5h-2.2zM982.3,157.4h2.4v1.1h-2.4zM700.5,296.4h1.5v1.4h-1.5zM779.1,124.0h2.5v1.6h-2.5zM918.4,216.5h1.8v1.7h-1.8zM718.4,203.4h1.4v1.1h-1.4zM946.5,374.7h1.7v1.6h-1.7zM918.4,107.5h1.8v1.1h-1.8zM999.2,236.5h2.0v1.4h-2.0zM871.1,144.9h1.6v1.6h-1.6zM691.6,353.1h2.1v1.3h-2.1zM846.3,113.8h2.4v1.6h-2.4zM726.7,342.6h1.6v1.5h-1.6zM983.8,258.1h1.5v1.5h-1.5zM772.1,135.3h2.5v1.3h-2.5zM956.2,194.7h2.4v1.5h-2.4zM729.7,158.8h1.6v1.7h-1.6zM893.0,212.8h1.8v1.4h-1.8zM678.7,310.6h2.3v1.2h-2.3zM701.7,213.4h1.6v1.1h-1.6zM947.2,373.7h1.6v1.8h-1.6zM730.6,341.9h1.8v1.1h-1.8zM862.6,142.6h2.1v1.3h-2.1zM852.7,116.7h2.5v1.7h-2.5zM875.2,267.2h2.1v1.6h-2.1zM962.3,180.3h2.5v1.2h-2.5zM935.7,156.0h2.1v1.6h-2.1zM747.2,345.0h2.2v1.5h-2.2zM943.8,240.3h2.4v1.3h-2.4zM872.2,157.4h1.5v1.3h-1.5zM951.3,235.8h2.4v1.4h-2.4zM703.2,232.9h1.5v1.5h-1.5zM686.4,302.0h1.8v1.1h-1.8zM927.1,194.4h2.4v1.5h-2.4zM712.7,219.1h1.9v1.5h-1.9zM768.8,123.7h2.2v1.3h-2.2zM802.0,320.0h2.5v1.6h-2.5zM753.3,343.5h2.4v1.2h-2.4zM860.3,52.0h1.8v1.7h-1.8zM866.4,286.1h2.5v1.8h-2.5zM940.9,364.9h2.5v1.1h-2.5zM959.9,323.9h1.7v1.3h-1.7zM701.9,301.2h1.7v1.8h-1.7zM941.3,142.2h1.7v1.7h-1.7zM1017.0,380.3h2.4v1.3h-2.4zM942.7,184.0h2.3v1.5h-2.3zM957.7,323.9h2.4v1.6h-2.4zM939.2,294.2h2.1v1.4h-2.1zM920.6,248.5h1.7v1.3h-1.7zM943.0,359.9h1.7v1.5h-1.7zM1007.9,355.5h1.6v1.4h-1.6zM712.8,203.2h2.2v1.6h-2.2zM951.2,210.8h2.0v1.3h-2.0zM684.2,340.5h1.6v1.5h-1.6zM909.2,205.8h1.7v1.4h-1.7zM830.7,328.0h2.3v1.6h-2.3zM763.6,146.4h1.7v1.8h-1.7zM993.3,152.2h2.3v1.1h-2.3zM882.4,188.4h2.2v1.6h-2.2zM884.4,167.9h1.9v1.7h-1.9zM908.6,205.8h1.6v1.3h-1.6zM861.7,144.4h1.8v1.6h-1.8zM905.7,126.7h1.8v1.3h-1.8zM930.8,185.5h2.4v1.7h-2.4zM769.4,131.2h2.5v1.8h-2.5zM727.6,176.9h2.1v1.7h-2.1zM715.6,190.1h2.4v1.5h-2.4zM680.3,349.8h2.0v1.3h-2.0zM711.9,195.9h1.5v1.7h-1.5zM986.6,243.6h2.0v1.5h-2.0zM933.0,344.2h2.1v1.1h-2.1zM913.9,203.3h2.5v1.6h-2.5zM1006.4,158.6h2.2v1.2h-2.2zM688.9,237.8h2.2v1.6h-2.2zM677.8,310.2h2.0v1.4h-2.0zM879.6,160.9h2.4v1.5h-2.4zM924.3,281.0h1.9v1.3h-1.9zM891.8,213.4h2.1v1.3h-2.1zM704.4,226.2h1.5v1.1h-1.5zM857.2,258.4h1.8v1.6h-1.8zM890.4,209.7h1.7v1.5h-1.7zM871.5,133.8h1.7v1.4h-1.7zM924.2,146.5h1.8v1.5h-1.8zM836.1,87.0h1.7v1.3h-1.7zM693.8,333.1h2.2v1.4h-2.2zM931.1,259.2h1.9v1.6h-1.9zM1011.3,348.3h1.9v1.2h-1.9zM978.8,170.0h2.0v1.6h-2.0zM708.2,234.9h1.8v1.4h-1.8zM987.4,238.1h2.3v1.3h-2.3zM789.5,118.8h2.4v1.3h-2.4zM881.4,234.4h1.9v1.4h-1.9zM982.0,247.7h1.8v1.7h-1.8zM904.1,199.8h2.1v1.5h-2.1zM880.5,178.0h1.7v1.4h-1.7zM867.9,149.0h2.3v1.3h-2.3zM822.9,97.4h2.0v1.2h-2.0zM893.0,246.8h1.9v1.4h-1.9zM914.9,136.9h2.2v1.1h-2.2zM829.8,98.7h2.3v1.3h-2.3zM744.3,372.2h2.3v1.3h-2.3zM691.2,336.4h1.8v1.7h-1.8zM901.7,181.2h2.1v1.4h-2.1zM988.8,210.5h2.0v1.3h-2.0zM899.7,139.9h1.5v1.4h-1.5zM938.4,375.2h2.1v1.1h-2.1zM737.4,165.3h2.4v1.3h-2.4zM834.4,314.8h2.4v1.5h-2.4zM916.0,284.4h2.4v1.7h-2.4zM823.5,70.0h1.8v1.4h-1.8zM838.7,82.5h2.3v1.3h-2.3zM710.8,202.8h2.2v1.4h-2.2zM834.3,79.1h1.6v1.4h-1.6zM706.7,343.3h1.7v1.3h-1.7zM697.1,363.5h1.8v1.7h-1.8zM908.2,249.9h2.5v1.4h-2.5zM965.9,166.8h1.8v1.2h-1.8zM870.5,141.6h2.0v1.7h-2.0zM891.3,117.2h1.5v1.2h-1.5zM963.0,236.5h1.9v1.3h-1.9zM866.2,124.8h1.7v1.7h-1.7zM762.1,143.5h1.9v1.2h-1.9zM943.8,276.0h1.9v1.3h-1.9zM955.2,328.1h1.7v1.8h-1.7zM980.9,255.4h1.7v1.1h-1.7zM999.2,355.3h1.8v1.3h-1.8zM806.7,307.9h2.1v1.4h-2.1zM985.9,200.1h1.4v1.3h-1.4zM947.6,180.3h1.8v1.1h-1.8zM873.0,137.4h2.5v1.7h-2.5zM983.0,302.2h2.1v1.7h-2.1zM979.0,219.4h1.9v1.5h-1.9zM681.0,331.2h1.6v1.6h-1.6zM939.0,216.4h2.3v1.4h-2.3zM696.3,330.6h2.3v1.5h-2.3zM838.6,277.1h2.1v1.8h-2.1zM915.1,238.1h1.6v1.3h-1.6zM704.4,281.1h1.9v1.5h-1.9zM837.0,280.1h2.5v1.5h-2.5zM793.5,87.3h1.7v1.6h-1.7zM935.8,304.0h1.9v1.1h-1.9zM864.5,107.5h1.8v1.3h-1.8zM897.9,229.2h2.2v1.3h-2.2zM975.6,214.2h2.0v1.3h-2.0zM924.4,288.4h1.9v1.6h-1.9zM895.3,143.1h1.5v1.6h-1.5zM858.9,270.1h2.4v1.4h-2.4zM696.9,298.2h2.3v1.3h-2.3zM955.5,176.9h1.8v1.4h-1.8zM923.4,241.3h1.6v1.3h-1.6zM888.2,195.4h1.9v1.7h-1.9zM866.6,286.4h1.8v1.3h-1.8zM960.2,333.3h1.5v1.7h-1.5zM980.7,220.1h2.5v1.3h-2.5zM810.2,64.7h1.6v1.5h-1.6zM697.4,343.9h2.5v1.3h-2.5zM934.7,243.1h1.9v1.2h-1.9zM943.2,132.1h1.9v1.6h-1.9zM690.9,280.5h2.5v1.2h-2.5zM888.7,206.3h1.7v1.7h-1.7zM777.6,130.1h2.1v1.5h-2.1zM728.8,176.5h1.6v1.7h-1.6zM959.2,248.9h1.6v1.1h-1.6zM907.1,174.3h2.1v1.6h-2.1zM749.3,119.1h1.5v1.6h-1.5zM832.7,90.9h1.8v1.5h-1.8zM697.9,187.4h2.0v1.2h-2.0zM819.3,279.2h2.0v1.2h-2.0zM713.2,177.2h1.5v1.1h-1.5zM960.0,193.8h1.6v1.5h-1.6zM925.9,302.3h1.7v1.2h-1.7zM991.5,256.1h2.0v1.3h-2.0zM732.7,372.1h1.7v1.7h-1.7zM691.7,314.3h1.5v1.6h-1.5zM729.7,349.1h1.5v1.7h-1.5zM970.7,220.7h1.5v1.7h-1.5zM824.3,292.9h1.9v1.5h-1.9zM1009.7,393.0h2.3v1.7h-2.3zM808.6,64.1h2.3v1.2h-2.3zM706.8,210.8h2.1v1.4h-2.1zM842.6,283.4h2.1v1.7h-2.1zM893.8,147.0h1.7v1.4h-1.7zM831.2,95.9h1.8v1.5h-1.8zM694.5,219.9h2.2v1.1h-2.2zM902.9,93.9h2.4v1.6h-2.4zM925.6,125.3h2.4v1.3h-2.4zM795.4,88.9h1.6v1.4h-1.6zM702.1,279.7h2.5v1.6h-2.5zM807.2,87.7h1.9v1.7h-1.9zM935.7,343.2h1.5v1.1h-1.5zM946.9,234.5h1.5v1.4h-1.5zM963.6,191.6h2.3v1.3h-2.3zM909.8,121.1h1.5v1.4h-1.5zM988.3,189.5h1.6v1.5h-1.6zM740.5,153.2h1.5v1.1h-1.5zM785.4,326.8h2.5v1.3h-2.5zM690.7,220.6h1.7v1.7h-1.7zM812.0,71.0h2.5v1.8h-2.5zM760.0,347.8h2.4v1.4h-2.4zM1015.0,376.5h2.0v1.8h-2.0zM1018.4,382.7h2.4v1.6h-2.4zM751.3,157.5h2.2v1.1h-2.2zM707.1,218.5h1.7v1.5h-1.7zM921.7,275.5h1.8v1.1h-1.8zM888.2,108.2h1.7v1.4h-1.7zM933.9,198.9h1.9v1.5h-1.9zM991.4,170.1h1.7v1.8h-1.7zM792.4,325.2h1.5v1.6h-1.5zM822.5,76.5h1.7v1.8h-1.7zM723.1,345.5h1.8v1.5h-1.8zM841.4,71.6h2.4v1.8h-2.4zM1002.4,344.2h2.1v1.5h-2.1zM903.5,206.8h2.1v1.3h-2.1zM952.6,133.9h2.0v1.1h-2.0zM933.2,168.9h2.3v1.6h-2.3zM939.8,348.5h2.2v1.7h-2.2zM898.1,135.4h1.8v1.6h-1.8zM678.5,306.5h1.9v1.1h-1.9zM788.3,335.3h1.7v1.7h-1.7zM907.1,164.2h1.6v1.3h-1.6zM942.4,241.6h2.4v1.3h-2.4zM961.5,224.0h2.1v1.5h-2.1zM696.0,347.8h2.3v1.3h-2.3zM860.7,134.5h1.9v1.8h-1.9zM945.5,184.6h2.2v1.3h-2.2zM959.4,262.4h2.4v1.7h-2.4zM857.0,120.0h2.0v1.5h-2.0zM739.5,154.8h2.0v1.6h-2.0zM815.1,290.6h2.3v1.3h-2.3zM952.3,257.8h2.0v1.6h-2.0zM902.9,236.1h2.4v1.6h-2.4zM694.4,328.3h2.3v1.8h-2.3zM961.6,149.6h1.7v1.4h-1.7zM727.5,342.9h1.8v1.2h-1.8zM947.4,171.5h1.5v1.7h-1.5zM764.6,343.2h1.5v1.5h-1.5zM697.2,278.3h1.8v1.4h-1.8zM850.7,277.3h1.9v1.1h-1.9zM973.3,248.7h1.5v1.4h-1.5zM847.3,294.0h2.2v1.4h-2.2zM721.7,169.0h1.6v1.4h-1.6zM970.6,279.6h1.6v1.4h-1.6zM766.4,111.1h2.2v1.2h-2.2zM894.6,259.8h1.7v1.1h-1.7zM737.2,364.2h2.5v1.1h-2.5zM721.5,358.9h1.8v1.5h-1.8zM965.8,150.7h2.3v1.4h-2.3zM797.3,339.4h1.7v1.2h-1.7zM703.5,246.5h1.9v1.2h-1.9zM976.1,201.5h2.4v1.6h-2.4zM929.3,186.4h1.8v1.3h-1.8zM720.0,205.7h1.8v1.3h-1.8zM711.9,206.4h1.9v1.7h-1.9zM934.5,353.2h2.4v1.5h-2.4zM959.7,288.4h1.5v1.2h-1.5zM920.0,125.5h2.2v1.3h-2.2zM834.1,294.7h2.3v1.5h-2.3zM933.0,246.1h2.0v1.1h-2.0zM1007.7,382.4h2.1v1.6h-2.1zM933.5,161.3h2.1v1.3h-2.1zM705.3,282.6h1.7v1.4h-1.7zM938.9,223.0h1.6v1.1h-1.6zM973.2,145.0h1.4v1.6h-1.4zM875.7,111.4h1.8v1.1h-1.8zM949.0,337.7h1.5v1.2h-1.5zM820.7,69.5h2.2v1.5h-2.2zM748.1,152.6h2.1v1.2h-2.1zM690.0,211.3h2.1v1.7h-2.1zM981.4,162.0h2.5v1.2h-2.5zM968.2,232.9h2.2v1.1h-2.2zM777.2,131.4h2.4v1.1h-2.4zM855.9,294.5h2.4v1.5h-2.4zM937.5,242.4h1.8v1.5h-1.8zM979.8,258.1h1.8v1.3h-1.8zM737.8,366.1h2.2v1.3h-2.2zM924.4,128.9h2.4v1.1h-2.4z" fill="#222" fill-opacity="0.9"/><path d="M790.5,190.5 789.0,190.2 788.2,188.5 787.9,185.5 788.4,182.0 791.0,177.1 793.0,175.7 794.5,175.7 795.5,176.4 796.2,178.0 795.9,183.0 793.5,188.0 790.5,190.5Z M774.0,237.5 771.5,237.8 769.5,235.8 769.0,232.0 769.8,227.0 771.5,223.2 774.0,219.9 777.5,217.3 780.0,217.0 781.2,218.0 781.9,220.5 781.2,227.0 778.0,233.9 776.0,236.2 774.0,237.5Z M789.5,198.6 788.0,198.7 787.0,197.8 785.5,194.5 785.2,189.5 786.1,183.0 787.7,178.5 790.0,174.9 793.0,172.5 795.5,172.1 797.1,173.0 798.4,175.5 798.7,179.0 798.2,183.0 796.8,187.0 793.5,193.5 791.5,196.7 789.5,198.6Z M772.0,242.0 770.0,242.0 768.5,241.4 767.2,240.0 766.4,238.0 766.6,232.0 768.4,224.5 771.1,219.5 776.0,213.7 780.0,210.5 785.5,207.9 786.1,209.0 785.7,220.5 783.8,228.0 781.2,233.5 778.5,237.6 775.5,240.4 772.0,242.0Z M984.0,392.1 983.0,392.4 981.5,391.9 979.4,389.5 978.8,386.0 980.0,384.1 982.0,384.5 984.1,387.0 984.8,390.0 984.0,392.1Z M772.0,245.6 769.5,245.9 767.0,245.2 765.0,243.2 763.8,240.5 763.7,235.0 766.3,224.5 770.1,217.0 781.3,202.0 783.3,187.0 784.8,181.0 786.7,176.5 789.1,173.0 792.0,170.3 795.0,168.9 797.5,169.0 799.3,170.5 800.5,173.5 801.0,177.0 800.6,181.5 794.8,200.0 789.8,210.5 789.2,214.0 789.1,220.5 788.3,224.0 784.4,233.0 781.0,238.5 776.5,243.0 772.0,245.6Z M979.8,394.0 977.1,390.0 976.1,385.5 977.0,381.9 978.0,380.9 979.5,380.4 982.5,381.7 985.4,385.5 987.2,390.5 986.7,394.0 M770.5,249.6 767.5,249.6 765.0,248.4 762.6,245.5 761.2,242.0 761.0,235.5 764.2,224.0 766.9,218.0 777.5,200.5 782.7,181.5 785.8,174.5 789.0,170.3 792.5,167.2 796.0,165.3 799.0,165.2 801.0,166.7 802.5,170.0 803.4,175.0 803.2,180.0 800.0,192.5 798.6,201.0 793.0,212.2 792.6,220.5 791.8,224.0 787.3,233.5 783.0,240.0 776.0,246.7 770.5,249.6Z M737.0,321.0 734.3,320.5 734.0,319.5 736.5,318.8 739.4,319.5 739.2,320.5 737.0,321.0Z M976.8,394.0 974.1,388.0 973.6,382.0 974.4,379.5 975.5,378.0 977.0,377.1 979.0,376.8 982.5,378.1 985.5,381.5 989.1,389.0 989.7,394.0 M769.0,254.1 766.0,253.8 763.5,252.3 761.2,249.5 759.2,245.5 758.3,242.0 758.0,238.0 759.8,229.5 764.3,217.5 774.1,199.5 781.8,178.5 784.2,173.5 788.4,168.0 794.0,162.9 797.5,161.0 800.5,161.1 802.7,162.5 804.3,165.0 806.4,173.5 805.9,181.5 803.7,192.0 803.9,200.0 803.3,203.5 797.6,212.5 796.3,223.5 790.3,235.5 785.3,241.5 777.5,248.9 772.5,252.7 769.0,254.1Z M739.0,323.0 734.5,323.2 730.4,322.5 727.9,321.0 727.7,319.0 730.5,316.8 735.5,316.0 742.5,316.5 745.0,317.4 746.2,318.5 746.2,320.0 745.0,321.2 739.0,323.0Z M974.2,394.0 971.3,386.5 970.9,379.0 971.5,377.0 973.0,375.0 975.5,373.5 978.0,373.0 982.5,374.2 986.0,377.6 991.1,388.5 992.2,394.0 M769.0,260.0 766.0,259.7 762.5,257.5 759.5,254.1 757.3,250.0 755.7,245.0 755.0,240.0 755.2,234.5 756.4,229.0 763.2,210.5 771.0,197.5 782.7,172.0 786.9,166.5 794.5,158.5 798.0,156.9 801.5,157.1 804.1,158.5 806.4,161.0 811.7,172.5 810.8,183.5 812.1,191.5 811.2,196.5 811.1,204.5 810.5,208.5 809.0,211.4 804.5,216.5 800.7,226.0 794.0,238.0 781.1,249.5 773.0,257.9 771.0,259.4 769.0,260.0Z M740.5,325.0 732.5,325.4 726.8,324.5 724.7,323.5 723.1,322.0 722.4,320.5 722.6,319.0 723.8,317.0 726.5,315.1 730.0,313.6 733.5,313.0 747.0,312.4 750.5,313.7 753.5,316.5 754.2,319.0 752.2,321.5 747.0,323.7 740.5,325.0Z M971.8,394.0 968.5,385.0 967.7,380.0 967.9,376.5 969.0,373.5 971.0,371.1 975.0,368.1 977.5,367.5 979.5,368.0 982.5,369.8 987.8,375.0 993.7,389.0 994.6,394.0 M766.0,281.6 765.0,281.8 764.0,281.1 762.4,278.5 760.2,266.5 754.8,256.5 751.1,242.5 750.9,238.5 751.6,228.5 755.0,218.0 755.4,207.5 756.4,205.0 758.0,203.0 764.5,198.4 767.5,195.2 773.5,184.9 779.6,172.0 791.3,157.0 794.0,154.6 797.0,153.1 800.0,152.6 803.0,153.1 806.1,154.5 808.8,156.5 813.2,162.5 818.0,166.5 819.5,168.5 820.4,172.0 820.8,180.0 825.1,185.5 826.5,189.0 827.1,195.0 826.7,199.0 825.0,201.8 821.0,204.3 819.5,206.0 817.3,214.5 816.2,217.0 804.5,230.8 798.6,240.5 790.0,247.0 782.7,253.5 780.0,256.9 776.0,264.2 769.0,270.5 767.8,273.0 766.0,281.6Z M737.0,327.5 728.0,327.5 722.0,326.0 719.8,324.5 718.2,322.5 717.6,320.5 718.1,318.0 721.3,314.5 727.5,311.3 731.5,310.0 739.5,308.8 748.5,305.4 750.5,305.7 752.5,306.9 758.5,312.7 760.6,315.5 761.4,318.0 761.3,320.0 760.2,322.0 758.0,323.6 747.0,326.3 737.0,327.5Z M969.2,394.0 966.8,388.5 965.4,383.5 964.7,378.0 965.1,374.0 966.7,369.5 970.5,363.7 973.0,361.7 976.0,360.9 978.8,361.5 981.5,363.3 990.1,373.0 995.9,388.5 997.0,394.0 M732.5,330.0 724.0,329.7 719.0,328.2 716.0,326.3 713.8,324.0 712.7,322.0 712.5,320.0 713.7,316.5 717.0,313.3 728.5,307.2 739.3,303.5 744.3,299.5 746.6,296.0 746.6,294.0 744.9,289.0 744.9,286.5 746.0,282.2 749.2,276.0 749.9,273.0 749.2,270.5 746.5,266.5 745.6,264.0 745.8,261.0 747.7,254.5 747.7,251.0 746.5,246.4 742.5,238.5 742.0,231.5 739.6,222.0 740.5,217.5 747.5,208.3 752.5,200.2 755.0,198.2 761.0,194.8 763.9,192.0 769.5,183.2 775.4,172.0 790.6,152.5 795.0,149.3 800.0,147.1 803.0,146.7 808.5,146.9 815.0,145.0 818.0,145.3 820.0,146.9 821.4,150.0 824.7,161.0 826.5,173.0 832.3,183.5 835.4,191.5 835.2,194.5 833.3,200.5 827.7,212.5 825.4,219.5 823.1,223.0 812.6,233.5 808.1,240.5 797.6,249.5 793.0,257.5 787.0,261.7 782.9,267.5 778.5,272.4 777.0,276.0 776.1,285.0 773.9,289.5 770.5,292.2 763.0,294.1 760.0,296.5 759.1,299.5 759.5,302.5 760.6,304.5 765.0,309.3 766.7,314.0 766.7,319.5 764.8,323.5 761.5,326.2 757.5,327.6 744.5,329.2 732.5,330.0Z M966.4,394.0 963.6,388.0 961.9,379.5 961.9,374.0 963.2,366.0 964.6,361.5 966.7,358.5 969.5,357.0 974.5,356.2 978.0,356.8 982.0,359.2 986.3,363.5 991.9,370.5 994.3,375.5 998.6,389.5 999.4,394.0 M743.0,332.0 726.5,332.5 719.0,331.7 715.0,330.0 710.5,327.0 708.1,324.5 707.0,321.5 707.9,317.0 711.0,313.2 733.0,299.5 734.7,298.0 735.4,296.5 735.2,289.0 737.8,281.0 738.4,276.5 737.5,273.1 733.2,268.0 732.2,264.5 732.6,257.0 736.0,249.5 733.5,240.5 735.3,231.0 732.8,221.5 733.0,218.5 734.1,215.0 736.6,210.5 743.0,204.2 748.5,196.0 757.5,188.6 764.3,177.5 771.5,169.4 785.4,152.0 792.5,144.5 803.0,137.5 806.5,135.9 818.5,135.4 823.5,136.4 826.1,138.5 829.5,149.1 835.2,156.5 835.8,160.0 835.8,169.0 839.9,179.0 841.9,182.0 847.0,187.2 852.0,199.2 855.5,204.1 859.3,207.0 859.2,208.0 853.5,213.0 850.0,214.6 845.5,214.5 840.0,212.5 838.3,213.0 837.5,215.5 839.5,220.5 838.5,223.0 836.4,224.5 830.0,227.4 827.1,229.5 825.1,232.0 821.6,238.5 817.3,244.0 808.0,251.9 797.9,263.5 790.6,270.0 786.0,279.0 773.5,299.0 773.0,301.5 774.0,309.5 773.5,315.0 771.9,320.5 768.8,325.0 764.5,328.4 760.0,330.2 743.0,332.0Z M963.0,394.0 960.6,388.5 958.8,379.0 958.8,367.0 959.6,361.5 961.9,355.5 964.5,352.2 967.5,350.9 974.5,350.7 977.5,351.1 980.5,353.0 988.5,361.0 993.7,368.0 997.0,375.0 1001.9,394.0 M729.0,335.0 718.5,334.8 712.0,332.5 707.5,329.8 704.2,327.0 702.2,324.0 701.4,320.5 702.4,316.5 704.8,313.0 707.9,310.5 719.7,303.5 724.1,298.5 726.1,294.5 726.1,286.0 728.4,277.5 725.5,268.0 724.2,259.0 726.1,242.5 725.9,236.0 724.8,226.0 731.0,204.0 737.9,194.5 743.8,189.5 752.5,183.3 754.8,180.0 759.0,171.2 765.0,165.8 770.9,158.5 781.0,148.5 786.5,141.0 789.0,138.5 797.5,133.5 804.5,128.2 807.5,126.8 819.0,124.3 823.0,124.8 827.5,126.5 830.5,128.2 832.5,130.5 836.5,142.0 842.0,146.2 844.6,149.5 847.5,156.5 851.8,162.5 854.0,169.7 859.0,176.0 860.0,182.5 861.5,186.4 862.9,188.0 867.0,190.6 869.0,193.2 873.5,207.0 873.1,211.5 871.5,216.3 869.5,219.2 865.6,223.0 864.0,228.0 862.5,229.7 859.0,231.0 840.5,233.4 836.5,234.8 834.4,236.5 828.7,243.5 820.0,250.3 814.3,256.5 807.0,263.0 804.3,267.0 798.3,278.0 789.5,285.6 785.4,291.0 783.7,295.5 782.6,305.0 779.3,315.5 776.0,323.0 772.4,327.5 765.0,331.7 757.5,333.7 747.0,334.9 729.0,335.0Z M976.5,333.2 975.0,332.7 973.5,330.5 971.8,323.5 972.5,317.5 973.5,315.9 975.0,314.9 976.5,315.4 977.7,317.0 979.2,323.5 978.7,330.0 977.8,332.0 976.5,333.2Z M959.4,394.0 957.5,389.0 955.3,377.0 954.7,366.5 955.9,359.5 958.9,352.0 961.8,348.0 966.0,345.2 976.0,341.3 979.0,342.9 982.5,346.4 992.0,359.2 995.8,365.5 999.7,374.5 1004.3,394.0 M749.0,338.0 719.0,338.0 714.0,337.3 707.0,334.0 702.0,330.4 698.1,325.5 696.5,321.0 696.8,316.5 699.3,312.0 703.0,308.7 714.3,302.0 716.8,299.0 718.0,296.0 717.8,286.5 719.9,276.0 719.3,271.0 716.4,258.0 718.3,242.0 717.8,225.0 718.8,221.5 723.8,212.5 725.5,203.5 728.9,192.0 731.1,189.0 739.5,182.8 748.4,178.0 753.5,168.5 762.5,157.5 770.5,150.0 779.8,139.0 787.9,132.5 800.5,119.4 804.0,117.6 809.5,116.0 821.5,114.7 825.0,115.0 836.5,118.1 838.5,119.4 840.4,122.0 841.6,125.0 843.1,132.0 850.9,142.0 857.0,155.6 861.5,162.0 868.9,170.0 871.8,175.0 873.4,185.0 875.0,190.9 876.7,195.5 880.1,201.5 881.0,204.5 880.8,208.0 876.8,224.5 872.5,234.0 869.5,237.6 867.5,238.6 861.3,240.0 855.0,242.6 848.2,244.0 841.5,248.0 835.5,248.9 833.0,249.8 826.5,253.9 814.6,264.0 811.7,268.0 802.5,285.7 800.0,288.5 794.5,293.0 792.5,295.7 783.8,317.5 779.7,325.5 776.5,329.6 772.5,332.2 767.0,334.3 749.0,338.0Z M956.0,394.0 954.3,389.0 951.3,374.5 950.7,367.5 951.4,360.5 956.7,347.5 959.0,345.0 966.4,339.5 968.5,336.9 969.3,333.5 968.9,322.0 969.7,316.5 972.5,310.9 974.0,309.6 976.0,309.0 977.5,309.5 978.9,311.0 980.8,316.0 982.0,323.0 982.5,334.5 983.2,338.0 993.0,352.5 998.0,361.5 1002.2,373.0 1006.7,394.0 M746.5,341.5 732.0,341.1 717.5,341.5 711.5,340.3 704.0,336.7 698.4,332.5 693.7,326.5 691.7,321.0 692.1,316.0 694.3,311.5 698.0,307.4 707.6,299.5 709.8,296.5 710.9,293.5 712.9,278.0 709.1,257.0 712.0,238.0 712.1,225.0 713.4,220.5 719.2,210.0 720.2,201.5 722.8,189.5 725.0,186.2 732.5,181.2 737.0,175.4 742.5,170.6 747.0,164.5 753.0,159.4 759.5,151.6 766.5,145.8 776.5,133.2 785.0,127.5 795.5,114.8 813.3,105.5 820.5,99.9 823.5,99.2 827.0,99.8 839.0,105.1 842.8,108.5 848.2,118.5 851.3,126.0 858.2,136.5 863.6,152.0 870.5,160.2 879.2,173.0 880.1,176.0 880.5,183.5 881.5,188.5 882.9,191.5 886.7,196.5 887.5,199.0 886.9,220.5 886.1,225.5 884.5,228.6 878.6,235.0 874.0,242.7 871.0,245.5 863.5,248.5 857.0,252.6 849.5,256.2 846.5,256.9 838.5,257.3 833.0,259.0 826.5,262.4 822.5,265.4 820.9,267.5 818.2,274.0 811.0,282.7 801.2,302.5 794.5,309.3 790.3,318.5 782.8,328.5 779.0,332.4 775.0,335.0 770.0,336.9 753.0,340.7 746.5,341.5Z M978.5,247.6 975.5,247.4 973.1,245.5 971.3,242.0 970.3,237.5 970.5,232.5 972.0,227.3 974.0,224.3 976.5,223.1 979.5,224.0 981.3,226.5 983.2,238.0 983.2,241.5 982.5,244.0 981.0,246.1 978.5,247.6Z M952.8,394.0 951.1,389.5 947.2,372.0 947.0,365.5 947.7,358.5 953.5,344.4 955.5,342.3 962.0,337.9 964.8,334.5 966.0,330.5 967.2,318.0 968.6,313.0 972.0,306.9 974.0,305.3 976.0,304.8 978.0,305.3 979.5,306.4 981.8,310.5 983.8,319.5 985.3,332.0 986.5,336.0 993.8,345.5 1001.2,359.5 1005.1,372.0 1006.3,382.0 1009.0,394.0" fill="none" stroke="#444" stroke-width="1.7" stroke-linejoin="round"/>
<rect x="668.5" y="42.5" width="355.5" height="354.8" stroke="#000" stroke-width="7" fill="none" stroke-linejoin="round"/>
<rect x="683.2" y="104.2" width="219.8" height="180" stroke="#000" stroke-width="7" fill="none" stroke-linejoin="round"/>
<rect x="845.6" y="296.3" width="178.4" height="101" stroke="#000" stroke-width="7" fill="none" stroke-linejoin="round"/>
<line x1="641" y1="68.7" x2="665" y2="68.7" stroke="#000" stroke-width="3"/>
<line x1="641" y1="162.8" x2="665" y2="162.8" stroke="#000" stroke-width="3"/>
<line x1="641" y1="256" x2="665" y2="256" stroke="#000" stroke-width="3"/>
<line x1="641" y1="342" x2="665" y2="342" stroke="#000" stroke-width="3"/>
<text x="633.60" y="87.25" font-size="29.5" transform="rotate(-90 633.60 87.25)">10<tspan dy="-10" font-size="17.5">5</tspan></text>
<text x="633.60" y="181.25" font-size="29.5" transform="rotate(-90 633.60 181.25)">10<tspan dy="-10" font-size="17.5">4</tspan></text>
<text x="633.60" y="274.75" font-size="29.5" transform="rotate(-90 633.60 274.75)">10<tspan dy="-10" font-size="17.5">3</tspan></text>
<text x="638.30" y="352.30" font-size="29.5" transform="rotate(-90 638.30 352.30)">0</text>
<line x1="734.9" y1="401" x2="734.9" y2="413" stroke="#000" stroke-width="3"/>
<line x1="828.3" y1="401" x2="828.3" y2="413" stroke="#000" stroke-width="3"/>
<line x1="922.4" y1="401" x2="922.4" y2="413" stroke="#000" stroke-width="3"/>
<line x1="994.4" y1="401" x2="994.4" y2="413" stroke="#000" stroke-width="3"/>
<text x="713.45" y="444.50" font-size="29.5">10<tspan dy="-10" font-size="17.5">2</tspan></text>
<text x="812.65" y="446.40" font-size="29.5">10<tspan dy="-10" font-size="17.5">3</tspan></text>
<text x="899.20" y="442.90" font-size="29.5">10<tspan dy="-10" font-size="17.5">4</tspan></text>
<text x="970.80" y="444.00" font-size="29.5">10<tspan dy="-10" font-size="17.5">5</tspan></text>
<text x="828.55" y="472.00" font-size="29.5">Ly6G</text>
<line x1="714.7" y1="460.8" x2="807" y2="460.8" stroke="#000" stroke-width="3"/>
<line x1="912" y1="460.8" x2="983.4000000000001" y2="460.8" stroke="#000" stroke-width="3"/><polygon points="982.4000000000001,450.0 1003.7,460.8 982.4000000000001,471.6" fill="#000"/>
<line x1="579.9" y1="167.3" x2="579.9" y2="115.0" stroke="#000" stroke-width="3"/><polygon points="568.6,116.0 579.9,93.7 591.1999999999999,116.0" fill="#000"/>
<line x1="580.5" y1="348.8" x2="580.5" y2="386.5" stroke="#000" stroke-width="3"/>
<text x="591.00" y="327.60" font-size="29.5" transform="rotate(-90 591.00 327.60)">F4/80-FITC</text>
<text x="710.85" y="96.00" font-size="29.6">F4/80+</text>
<text x="690.90" y="137.80" font-size="33.7" fill="#f00">75.5</text>
<text x="855.40" y="335.00" font-size="33.7" fill="#f00">9.6</text>
<text x="852.65" y="383.90" font-size="30">Ly6G+</text>
<line x1="865.5" y1="140.8" x2="1072" y2="140.8" stroke="#000" stroke-width="3"/><polygon points="1071,130.3 1092,140.8 1071,151.3" fill="#000"/>
<text x="1262.55" y="21.30" font-size="29.6">CD45+CD11B+F4/80+</text>
<path d="M1315.5,101.2h2.3v1.6h-2.3zM1448.3,129.5h2.1v1.7h-2.1zM1518.3,207.7h1.6v1.1h-1.6zM1240.6,174.6h1.8v1.8h-1.8zM1320.6,103.0h1.9v1.5h-1.9zM1385.8,155.2h1.7v1.5h-1.7zM1357.4,161.0h2.3v1.5h-2.3zM1260.7,116.1h1.5v1.3h-1.5zM1392.0,194.9h1.9v1.2h-1.9zM1263.4,108.3h1.5v1.6h-1.5zM1426.3,150.9h1.5v1.3h-1.5zM1464.1,165.9h2.1v1.6h-2.1zM1462.2,155.4h1.7v1.1h-1.7zM1412.4,176.0h2.4v1.6h-2.4zM1520.7,194.7h2.3v1.6h-2.3zM1279.7,265.7h2.2v1.1h-2.2zM1242.8,137.1h1.6v1.7h-1.6zM1229.9,184.9h1.8v1.5h-1.8zM1454.5,190.7h2.2v1.5h-2.2zM1393.4,137.8h1.5v1.5h-1.5zM1267.4,63.4h1.9v1.3h-1.9zM1294.2,267.8h1.9v1.5h-1.9zM1246.5,139.0h1.5v1.4h-1.5zM1369.4,140.7h1.7v1.4h-1.7zM1252.7,254.9h1.6v1.4h-1.6zM1226.3,175.9h1.9v1.2h-1.9zM1366.5,160.4h1.7v1.5h-1.7zM1509.5,198.7h2.1v1.7h-2.1zM1233.8,84.3h2.1v1.5h-2.1zM1499.8,191.9h2.5v1.8h-2.5zM1410.6,148.9h2.0v1.4h-2.0zM1266.5,102.6h2.5v1.3h-2.5zM1371.3,186.5h2.3v1.2h-2.3zM1532.4,262.6h1.6v1.3h-1.6zM1382.4,123.3h2.0v1.3h-2.0zM1454.0,182.3h1.7v1.1h-1.7zM1238.5,139.4h1.5v1.7h-1.5zM1498.3,195.3h2.3v1.6h-2.3zM1496.1,192.9h2.1v1.5h-2.1zM1405.8,125.4h1.9v1.6h-1.9zM1541.4,223.2h1.9v1.7h-1.9zM1416.6,185.9h1.7v1.4h-1.7zM1461.5,189.5h2.3v1.5h-2.3zM1234.5,218.0h2.3v1.6h-2.3zM1379.5,155.0h1.8v1.4h-1.8zM1503.6,197.5h1.5v1.4h-1.5zM1259.9,248.3h2.5v1.1h-2.5zM1285.9,105.3h2.4v1.7h-2.4zM1239.1,233.6h2.3v1.2h-2.3zM1365.6,151.4h2.4v1.8h-2.4zM1379.5,161.0h1.8v1.2h-1.8zM1234.5,113.9h1.6v1.3h-1.6zM1363.1,191.4h1.7v1.1h-1.7zM1354.0,138.4h1.7v1.3h-1.7zM1531.4,244.7h2.3v1.8h-2.3zM1380.2,135.1h1.4v1.7h-1.4zM1241.1,172.4h2.4v1.8h-2.4zM1427.1,152.0h2.0v1.4h-2.0zM1415.0,179.5h1.7v1.3h-1.7zM1368.6,121.2h1.7v1.3h-1.7zM1335.1,118.0h1.9v1.1h-1.9zM1232.1,196.0h1.6v1.4h-1.6zM1381.7,196.1h1.5v1.7h-1.5zM1427.9,172.1h2.2v1.3h-2.2zM1422.1,261.6h2.3v1.8h-2.3zM1249.6,123.0h2.3v1.3h-2.3zM1248.2,234.6h2.1v1.6h-2.1zM1331.8,116.9h2.4v1.4h-2.4zM1253.1,267.2h1.7v1.4h-1.7zM1470.2,180.6h1.5v1.7h-1.5zM1442.7,178.2h2.2v1.5h-2.2zM1390.6,267.2h2.0v1.8h-2.0zM1242.3,202.5h1.5v1.7h-1.5zM1226.1,203.8h1.8v1.4h-1.8zM1267.1,92.7h1.9v1.3h-1.9zM1373.3,148.4h1.8v1.5h-1.8zM1276.4,101.4h1.8v1.2h-1.8zM1352.3,120.2h1.4v1.3h-1.4zM1381.1,124.3h2.0v1.1h-2.0zM1539.1,238.8h1.5v1.7h-1.5zM1265.9,110.0h1.4v1.1h-1.4zM1419.2,138.4h1.8v1.6h-1.8zM1431.4,162.3h2.2v1.5h-2.2zM1537.6,233.5h1.9v1.4h-1.9zM1288.5,266.9h1.5v1.6h-1.5zM1360.8,191.6h2.4v1.8h-2.4zM1363.7,124.2h1.7v1.4h-1.7zM1388.3,170.0h1.7v1.6h-1.7zM1458.7,191.6h2.2v1.2h-2.2zM1328.6,92.4h1.7v1.7h-1.7zM1235.6,189.5h2.1v1.2h-2.1zM1241.4,148.1h1.8v1.4h-1.8zM1390.9,176.4h2.2v1.7h-2.2zM1426.1,187.4h2.3v1.2h-2.3zM1409.9,187.3h1.5v1.5h-1.5zM1402.8,166.8h2.2v1.1h-2.2zM1240.4,170.8h2.0v1.7h-2.0zM1297.5,121.3h2.3v1.7h-2.3zM1366.3,163.0h2.0v1.4h-2.0zM1315.6,109.9h2.1v1.6h-2.1zM1420.3,161.5h1.7v1.6h-1.7zM1516.4,168.4h1.8v1.8h-1.8zM1241.8,199.7h1.7v1.6h-1.7zM1356.3,151.4h2.4v1.6h-2.4zM1311.7,78.8h2.1v1.7h-2.1zM1445.8,166.8h1.5v1.3h-1.5zM1439.3,122.3h2.5v1.5h-2.5zM1483.1,195.1h1.8v1.3h-1.8zM1229.7,150.0h1.8v1.1h-1.8zM1236.0,149.1h2.2v1.1h-2.2zM1254.3,260.3h2.2v1.1h-2.2zM1234.3,150.6h1.6v1.4h-1.6zM1364.6,145.3h1.5v1.1h-1.5zM1243.9,145.1h2.5v1.8h-2.5zM1421.1,160.8h2.2v1.6h-2.2zM1279.4,103.4h1.6v1.1h-1.6zM1480.4,169.5h1.7v1.4h-1.7zM1430.7,262.3h2.3v1.4h-2.3zM1397.7,171.8h1.8v1.1h-1.8zM1387.5,195.4h1.6v1.4h-1.6zM1280.9,265.4h1.7v1.4h-1.7zM1543.9,229.0h2.1v1.3h-2.1zM1390.7,195.5h2.5v1.5h-2.5zM1246.3,213.6h2.5v1.4h-2.5zM1237.5,217.5h2.1v1.8h-2.1zM1425.4,132.4h1.8v1.6h-1.8zM1481.1,161.2h2.3v1.2h-2.3zM1449.7,144.5h1.8v1.3h-1.8zM1345.0,133.8h1.6v1.3h-1.6zM1501.8,173.5h1.8v1.7h-1.8zM1376.6,141.6h2.5v1.1h-2.5zM1369.7,180.5h2.1v1.6h-2.1zM1357.6,174.5h1.7v1.7h-1.7zM1276.8,106.4h1.9v1.1h-1.9zM1404.5,156.8h1.5v1.6h-1.5zM1370.9,150.1h2.5v1.5h-2.5zM1487.3,191.4h2.5v1.2h-2.5zM1230.1,102.2h1.7v1.7h-1.7zM1331.2,117.4h1.8v1.6h-1.8zM1446.9,164.8h2.1v1.4h-2.1zM1456.6,151.6h2.2v1.6h-2.2zM1417.9,187.4h2.5v1.7h-2.5zM1355.8,143.3h2.2v1.3h-2.2zM1444.7,120.6h2.1v1.3h-2.1zM1250.1,263.1h2.5v1.6h-2.5zM1357.1,130.2h1.6v1.7h-1.6zM1266.3,113.9h2.3v1.8h-2.3zM1451.7,135.8h2.5v1.4h-2.5zM1231.5,144.7h1.6v1.2h-1.6zM1337.9,127.4h1.5v1.2h-1.5zM1524.7,167.6h2.2v1.1h-2.2zM1260.0,263.5h1.9v1.6h-1.9zM1226.2,110.8h1.6v1.5h-1.6zM1364.3,153.7h2.2v1.5h-2.2zM1365.8,187.9h1.5v1.5h-1.5zM1238.6,251.1h1.6v1.1h-1.6zM1322.1,275.2h2.4v1.7h-2.4zM1253.7,113.3h2.4v1.2h-2.4zM1371.1,168.2h1.8v1.2h-1.8zM1544.8,249.4h1.8v1.2h-1.8zM1298.4,92.8h2.0v1.7h-2.0zM1508.0,175.8h2.5v1.7h-2.5zM1255.8,118.3h2.0v1.3h-2.0zM1366.1,198.2h1.8v1.5h-1.8zM1281.5,264.0h2.2v1.3h-2.2zM1416.0,168.2h2.1v1.2h-2.1zM1315.0,72.2h1.5v1.7h-1.5zM1275.3,96.3h1.6v1.7h-1.6zM1386.4,153.1h2.5v1.2h-2.5zM1251.5,232.9h1.7v1.5h-1.7zM1444.1,129.5h1.8v1.1h-1.8zM1410.1,187.4h2.0v1.2h-2.0zM1504.7,152.1h2.0v1.2h-2.0zM1357.0,134.5h2.1v1.7h-2.1zM1389.4,191.7h1.6v1.8h-1.6zM1457.4,140.3h2.2v1.6h-2.2zM1504.1,148.2h2.1v1.3h-2.1zM1465.1,197.6h1.5v1.6h-1.5zM1367.1,163.3h1.9v1.7h-1.9zM1359.5,201.7h1.7v1.6h-1.7zM1440.3,165.3h2.2v1.6h-2.2zM1268.2,115.5h2.1v1.3h-2.1zM1455.4,156.4h2.5v1.3h-2.5zM1248.3,246.1h1.8v1.7h-1.8zM1524.0,171.9h2.4v1.4h-2.4zM1275.6,267.1h1.5v1.5h-1.5zM1269.7,61.9h2.4v1.8h-2.4zM1346.5,144.7h1.7v1.7h-1.7zM1467.0,198.9h2.3v1.7h-2.3zM1419.1,189.0h2.3v1.6h-2.3zM1480.6,171.6h1.9v1.4h-1.9zM1239.2,187.3h2.2v1.3h-2.2zM1529.0,247.0h2.1v1.1h-2.1zM1497.0,189.0h1.8v1.1h-1.8zM1521.7,169.8h1.5v1.1h-1.5zM1374.5,172.2h1.5v1.2h-1.5zM1466.4,186.9h1.6v1.7h-1.6zM1511.0,141.8h2.0v1.1h-2.0zM1422.7,187.0h1.6v1.7h-1.6zM1354.3,180.0h2.1v1.3h-2.1zM1368.9,202.3h1.5v1.3h-1.5zM1400.8,161.3h1.8v1.3h-1.8zM1238.0,83.2h2.5v1.7h-2.5zM1356.9,168.5h2.3v1.5h-2.3zM1537.1,237.7h2.4v1.7h-2.4zM1436.9,183.3h2.1v1.4h-2.1zM1434.5,183.7h1.7v1.5h-1.7zM1416.1,150.3h1.7v1.2h-1.7zM1351.6,146.0h2.3v1.2h-2.3zM1382.9,193.0h1.8v1.7h-1.8zM1318.9,99.8h2.2v1.5h-2.2zM1232.9,242.8h1.5v1.1h-1.5zM1259.3,247.9h1.5v1.2h-1.5zM1406.9,266.6h1.6v1.2h-1.6zM1283.7,112.3h1.5v1.8h-1.5zM1333.8,108.5h2.5v1.6h-2.5zM1253.4,255.1h2.2v1.3h-2.2zM1511.4,151.4h1.9v1.3h-1.9zM1497.9,134.2h2.2v1.3h-2.2zM1399.2,149.1h1.7v1.2h-1.7zM1516.4,186.2h2.1v1.8h-2.1zM1314.5,115.5h2.1v1.2h-2.1zM1362.3,162.1h1.7v1.5h-1.7zM1353.3,186.9h2.0v1.4h-2.0zM1443.2,192.9h1.4v1.2h-1.4zM1276.0,75.2h1.7v1.5h-1.7zM1542.4,212.1h2.2v1.7h-2.2zM1424.7,155.8h2.3v1.2h-2.3zM1521.6,155.8h2.3v1.2h-2.3zM1369.4,172.1h1.7v1.3h-1.7zM1471.3,136.4h1.7v1.4h-1.7zM1537.1,252.1h2.2v1.2h-2.2zM1433.6,124.1h1.7v1.5h-1.7zM1455.8,168.5h1.9v1.8h-1.9zM1302.4,117.3h1.5v1.1h-1.5zM1410.7,179.8h2.0v1.2h-2.0zM1370.8,258.7h2.2v1.4h-2.2zM1249.6,250.5h2.0v1.5h-2.0zM1247.4,111.7h2.2v1.4h-2.2zM1354.0,181.5h1.7v1.6h-1.7zM1547.5,254.9h1.6v1.3h-1.6zM1238.1,122.2h2.1v1.3h-2.1zM1350.8,153.1h2.2v1.6h-2.2zM1357.8,192.5h2.3v1.5h-2.3zM1234.0,195.4h1.8v1.4h-1.8zM1402.3,157.0h2.2v1.7h-2.2zM1363.4,183.0h2.4v1.6h-2.4zM1400.7,187.8h2.2v1.1h-2.2zM1377.0,146.1h1.9v1.8h-1.9zM1519.9,185.3h2.2v1.6h-2.2zM1444.5,173.8h2.4v1.3h-2.4zM1507.8,190.6h1.5v1.6h-1.5zM1404.1,164.6h1.9v1.4h-1.9zM1346.3,143.6h1.5v1.2h-1.5zM1433.7,155.6h2.3v1.8h-2.3zM1545.7,262.4h1.5v1.5h-1.5zM1384.4,119.5h1.7v1.5h-1.7zM1306.2,113.5h1.7v1.7h-1.7zM1263.8,74.5h1.8v1.5h-1.8zM1535.6,235.3h1.9v1.6h-1.9zM1346.9,269.9h2.2v1.3h-2.2zM1418.4,128.7h1.5v1.1h-1.5zM1414.0,133.8h1.7v1.6h-1.7zM1303.1,121.9h2.0v1.4h-2.0zM1430.8,177.5h1.5v1.3h-1.5zM1436.7,161.1h2.0v1.6h-2.0zM1530.4,217.7h2.2v1.3h-2.2zM1414.4,123.1h2.2v1.1h-2.2zM1548.2,248.4h1.9v1.6h-1.9zM1397.1,159.0h2.4v1.8h-2.4zM1526.2,211.0h2.2v1.6h-2.2zM1243.1,207.6h1.9v1.4h-1.9zM1380.6,260.3h1.8v1.7h-1.8zM1356.6,163.8h1.8v1.3h-1.8zM1412.2,179.3h2.3v1.4h-2.3zM1484.6,171.4h1.9v1.7h-1.9zM1338.5,119.8h1.5v1.1h-1.5zM1474.2,164.0h2.0v1.1h-2.0zM1527.1,262.3h2.4v1.8h-2.4zM1531.9,259.8h1.7v1.7h-1.7zM1306.0,79.6h1.9v1.5h-1.9zM1516.9,186.5h1.9v1.7h-1.9zM1437.1,142.8h1.8v1.7h-1.8zM1292.0,112.0h1.8v1.3h-1.8zM1314.2,112.8h2.5v1.1h-2.5zM1364.0,204.8h1.6v1.5h-1.6zM1449.9,266.2h2.5v1.7h-2.5zM1446.6,165.7h2.2v1.1h-2.2zM1453.6,149.5h1.5v1.7h-1.5zM1226.0,164.8h2.3v1.8h-2.3zM1241.8,222.8h1.8v1.5h-1.8zM1531.5,195.8h1.7v1.1h-1.7zM1269.7,95.7h2.2v1.6h-2.2zM1239.6,124.5h1.5v1.5h-1.5zM1251.4,243.4h2.4v1.6h-2.4zM1441.1,162.9h1.8v1.1h-1.8zM1420.2,185.7h1.7v1.2h-1.7zM1362.5,199.8h1.8v1.4h-1.8zM1437.8,183.2h1.9v1.2h-1.9zM1368.0,194.3h1.8v1.2h-1.8zM1419.3,169.7h2.4v1.7h-2.4zM1233.2,128.5h2.5v1.4h-2.5zM1336.1,119.4h2.3v1.2h-2.3zM1510.7,270.5h1.8v1.4h-1.8zM1248.2,73.5h1.8v1.2h-1.8zM1427.9,190.3h2.4v1.4h-2.4zM1259.8,249.4h2.2v1.2h-2.2zM1434.7,128.1h2.2v1.6h-2.2zM1307.0,90.7h2.4v1.3h-2.4zM1412.3,151.7h2.5v1.7h-2.5zM1404.5,143.0h1.6v1.4h-1.6zM1474.0,159.0h1.8v1.8h-1.8zM1242.0,155.4h2.2v1.2h-2.2zM1269.6,264.6h2.0v1.6h-2.0zM1283.9,108.7h1.5v1.6h-1.5zM1400.0,264.3h2.2v1.6h-2.2zM1319.2,90.0h1.6v1.8h-1.6zM1366.8,264.3h1.9v1.6h-1.9zM1362.4,143.9h1.7v1.1h-1.7zM1491.4,193.9h1.5v1.5h-1.5zM1292.1,66.3h2.4v1.6h-2.4zM1420.9,157.0h1.5v1.1h-1.5zM1427.8,188.6h2.5v1.4h-2.5zM1358.7,181.8h2.4v1.6h-2.4zM1230.2,210.6h2.2v1.7h-2.2zM1268.3,114.9h1.8v1.3h-1.8zM1521.1,151.6h1.5v1.8h-1.5zM1459.9,179.0h1.5v1.7h-1.5zM1289.9,83.1h1.5v1.5h-1.5zM1233.2,226.7h2.4v1.5h-2.4zM1407.1,153.4h2.1v1.5h-2.1zM1251.8,130.7h1.5v1.8h-1.5zM1330.7,127.0h2.2v1.8h-2.2zM1448.5,184.5h2.4v1.2h-2.4zM1260.5,91.4h2.3v1.5h-2.3zM1396.4,130.8h1.7v1.5h-1.7zM1417.6,139.0h2.5v1.1h-2.5zM1340.7,133.4h2.2v1.4h-2.2zM1436.4,194.2h2.0v1.6h-2.0zM1363.9,176.2h1.7v1.1h-1.7zM1376.6,259.2h1.6v1.4h-1.6zM1455.8,191.4h2.1v1.4h-2.1zM1230.6,138.1h2.3v1.3h-2.3zM1239.2,142.3h1.6v1.5h-1.6zM1341.8,109.1h2.2v1.4h-2.2zM1472.2,130.4h1.5v1.4h-1.5zM1509.2,177.6h2.2v1.3h-2.2zM1448.6,193.6h2.3v1.2h-2.3zM1373.0,138.1h2.2v1.4h-2.2zM1343.5,145.3h1.6v1.3h-1.6zM1239.7,208.2h1.6v1.5h-1.6zM1422.8,266.5h2.4v1.6h-2.4zM1269.0,101.0h2.1v1.1h-2.1zM1270.2,98.0h2.1v1.6h-2.1zM1524.6,196.6h1.8v1.4h-1.8zM1386.8,162.7h1.9v1.4h-1.9zM1411.2,154.2h1.5v1.5h-1.5zM1459.4,182.6h1.7v1.5h-1.7zM1376.4,197.2h1.5v1.3h-1.5zM1290.0,97.3h1.6v1.6h-1.6zM1377.2,266.9h2.5v1.6h-2.5zM1407.5,266.1h1.9v1.4h-1.9zM1422.4,153.0h2.1v1.2h-2.1zM1463.0,159.3h1.5v1.7h-1.5zM1395.3,135.1h2.0v1.6h-2.0zM1451.9,175.3h1.9v1.3h-1.9zM1427.5,122.1h1.5v1.5h-1.5zM1415.6,167.6h2.0v1.1h-2.0zM1531.8,258.9h1.6v1.8h-1.6zM1234.2,164.6h2.2v1.2h-2.2zM1538.6,221.5h1.8v1.6h-1.8zM1302.4,118.2h2.3v1.2h-2.3zM1550.4,250.2h2.1v1.5h-2.1zM1337.8,109.3h2.2v1.2h-2.2zM1252.7,124.9h1.8v1.5h-1.8zM1420.8,192.6h1.7v1.5h-1.7zM1246.4,139.1h1.9v1.5h-1.9zM1269.7,108.6h2.3v1.6h-2.3zM1270.8,102.1h1.5v1.6h-1.5zM1357.4,204.0h1.5v1.3h-1.5zM1231.2,79.3h2.2v1.6h-2.2zM1306.7,93.3h2.5v1.3h-2.5zM1447.2,264.4h2.0v1.5h-2.0zM1362.6,200.9h2.3v1.7h-2.3zM1422.4,148.3h1.8v1.2h-1.8zM1298.6,120.3h1.7v1.6h-1.7zM1535.9,242.7h1.5v1.3h-1.5zM1372.0,202.8h2.3v1.8h-2.3zM1384.4,187.2h1.9v1.6h-1.9zM1394.8,167.1h1.9v1.3h-1.9zM1234.3,166.5h2.1v1.2h-2.1zM1352.8,269.0h1.9v1.6h-1.9zM1370.3,166.7h2.5v1.7h-2.5zM1228.1,101.6h1.7v1.4h-1.7zM1261.0,98.6h1.5v1.1h-1.5zM1357.1,177.3h2.5v1.2h-2.5zM1509.3,193.6h1.8v1.6h-1.8zM1356.2,182.2h1.7v1.4h-1.7zM1242.5,195.8h1.6v1.7h-1.6zM1487.4,138.0h1.8v1.2h-1.8zM1453.1,147.7h1.8v1.5h-1.8zM1367.3,134.5h1.9v1.3h-1.9zM1247.6,148.0h1.8v1.3h-1.8zM1450.2,133.8h1.9v1.3h-1.9zM1248.1,225.6h2.2v1.3h-2.2zM1289.5,114.1h1.5v1.1h-1.5zM1231.8,123.2h1.8v1.8h-1.8zM1393.3,192.3h1.9v1.4h-1.9zM1358.1,151.4h1.5v1.4h-1.5zM1382.2,145.0h1.5v1.2h-1.5zM1381.1,268.5h1.7v1.3h-1.7zM1240.5,255.1h1.6v1.2h-1.6zM1425.3,125.9h1.4v1.4h-1.4zM1330.0,114.9h1.7v1.7h-1.7zM1411.1,162.3h2.3v1.4h-2.3zM1447.1,173.4h2.4v1.3h-2.4zM1450.3,144.6h1.5v1.7h-1.5zM1496.8,176.2h2.5v1.1h-2.5zM1444.0,188.7h1.9v1.1h-1.9zM1231.8,214.7h2.1v1.7h-2.1zM1435.3,129.5h1.5v1.6h-1.5zM1237.1,184.7h2.0v1.2h-2.0zM1315.9,94.5h1.7v1.2h-1.7zM1309.5,95.6h1.7v1.5h-1.7zM1246.9,94.0h1.5v1.7h-1.5zM1270.1,108.6h1.8v1.4h-1.8zM1240.5,200.7h2.2v1.1h-2.2zM1440.8,148.3h1.7v1.6h-1.7zM1429.5,162.8h2.2v1.4h-2.2zM1392.2,157.4h2.2v1.5h-2.2zM1368.6,123.1h2.2v1.7h-2.2zM1321.1,89.7h2.2v1.7h-2.2zM1263.4,119.1h1.9v1.7h-1.9zM1252.2,238.2h2.2v1.1h-2.2zM1443.7,143.9h2.0v1.7h-2.0zM1405.4,154.3h1.9v1.3h-1.9zM1248.9,134.3h1.8v1.7h-1.8zM1482.9,195.2h1.8v1.2h-1.8zM1518.9,191.4h2.2v1.8h-2.2zM1469.4,149.8h2.1v1.1h-2.1zM1241.9,164.6h1.5v1.3h-1.5zM1442.9,151.2h2.2v1.7h-2.2zM1404.8,173.1h2.3v1.2h-2.3zM1425.9,176.0h2.2v1.6h-2.2zM1445.9,173.7h1.9v1.2h-1.9zM1266.5,258.8h2.0v1.4h-2.0zM1449.9,265.5h1.8v1.1h-1.8zM1292.1,91.7h1.7v1.6h-1.7zM1474.4,149.5h1.8v1.6h-1.8zM1228.7,88.8h1.9v1.2h-1.9zM1429.2,148.2h2.2v1.7h-2.2zM1245.1,208.5h2.2v1.6h-2.2zM1511.4,188.3h1.9v1.7h-1.9zM1448.2,172.7h2.5v1.5h-2.5zM1247.8,101.9h2.2v1.2h-2.2zM1246.4,212.9h1.5v1.6h-1.5zM1387.0,179.6h1.8v1.3h-1.8zM1352.5,139.3h2.1v1.1h-2.1zM1240.9,202.3h2.0v1.6h-2.0zM1236.1,88.1h2.2v1.1h-2.2zM1382.3,119.1h1.5v1.7h-1.5zM1367.3,203.1h2.4v1.7h-2.4zM1332.1,89.9h2.0v1.3h-2.0zM1260.1,111.9h2.3v1.3h-2.3zM1480.0,164.0h2.5v1.4h-2.5zM1427.4,191.6h1.5v1.1h-1.5zM1367.9,176.3h2.4v1.3h-2.4zM1273.6,87.1h1.6v1.1h-1.6zM1350.5,135.5h1.8v1.8h-1.8zM1470.3,191.1h1.4v1.7h-1.4zM1348.6,145.9h1.9v1.6h-1.9zM1441.0,120.6h2.4v1.7h-2.4zM1288.1,64.6h1.6v1.6h-1.6zM1402.5,134.0h1.6v1.2h-1.6zM1438.3,262.6h1.7v1.8h-1.7zM1272.1,91.4h2.4v1.6h-2.4zM1435.2,170.0h1.7v1.2h-1.7zM1263.2,260.3h2.3v1.5h-2.3zM1440.0,191.5h2.3v1.6h-2.3zM1249.6,136.4h1.8v1.5h-1.8zM1231.8,185.3h2.3v1.4h-2.3zM1286.3,109.4h1.5v1.4h-1.5zM1358.7,163.5h2.2v1.5h-2.2zM1434.0,133.8h2.3v1.6h-2.3zM1542.9,246.7h2.1v1.6h-2.1zM1257.9,242.1h1.7v1.2h-1.7zM1477.3,197.2h1.6v1.4h-1.6zM1470.6,148.1h1.9v1.3h-1.9zM1530.3,205.1h2.3v1.2h-2.3zM1470.1,268.0h1.5v1.4h-1.5zM1381.2,147.6h1.8v1.1h-1.8zM1230.9,166.6h1.9v1.4h-1.9zM1227.9,116.5h2.4v1.5h-2.4zM1241.2,106.8h1.7v1.8h-1.7zM1418.5,193.5h2.4v1.7h-2.4zM1245.0,95.1h1.9v1.2h-1.9zM1507.8,177.9h2.4v1.7h-2.4zM1260.9,108.2h2.1v1.1h-2.1zM1405.6,187.9h1.9v1.2h-1.9zM1473.0,196.9h2.5v1.3h-2.5zM1451.4,263.9h2.4v1.6h-2.4zM1372.7,150.2h2.0v1.6h-2.0zM1356.3,150.1h1.7v1.1h-1.7zM1426.6,152.0h2.3v1.4h-2.3zM1451.2,191.2h1.5v1.4h-1.5zM1373.6,203.0h2.2v1.6h-2.2zM1241.1,108.7h2.3v1.2h-2.3zM1345.9,142.8h1.5v1.7h-1.5zM1237.8,93.0h2.0v1.2h-2.0zM1250.1,129.4h1.6v1.7h-1.6zM1362.8,194.1h1.5v1.7h-1.5zM1253.6,264.3h2.2v1.2h-2.2zM1530.5,268.0h2.4v1.7h-2.4zM1296.7,97.4h1.5v1.4h-1.5zM1350.7,151.6h2.0v1.4h-2.0zM1541.0,245.2h2.5v1.4h-2.5zM1440.9,164.0h2.2v1.7h-2.2zM1394.1,145.2h2.4v1.5h-2.4zM1369.2,200.6h2.5v1.4h-2.5zM1541.0,241.4h2.2v1.1h-2.2zM1332.5,113.1h1.9v1.3h-1.9zM1491.4,165.6h2.1v1.1h-2.1zM1271.4,114.2h1.6v1.5h-1.6zM1332.0,118.5h2.5v1.7h-2.5zM1406.0,167.6h2.0v1.2h-2.0zM1361.3,131.7h2.2v1.3h-2.2zM1522.2,209.5h1.7v1.4h-1.7zM1382.5,147.6h1.5v1.2h-1.5zM1242.0,119.4h2.3v1.3h-2.3zM1407.5,182.0h1.6v1.4h-1.6zM1359.5,134.0h1.7v1.8h-1.7zM1298.1,96.4h2.0v1.6h-2.0zM1328.1,273.6h2.4v1.4h-2.4zM1382.6,119.2h2.2v1.4h-2.2zM1333.9,110.6h2.3v1.4h-2.3zM1414.1,161.3h1.9v1.7h-1.9zM1281.0,67.8h1.9v1.3h-1.9zM1372.8,202.6h2.4v1.5h-2.4zM1279.0,99.2h2.2v1.4h-2.2zM1271.2,87.9h1.9v1.7h-1.9zM1373.8,266.7h1.5v1.8h-1.5zM1464.3,165.2h2.1v1.6h-2.1zM1372.3,262.6h2.5v1.6h-2.5zM1540.5,256.9h1.5v1.7h-1.5zM1372.3,194.8h2.3v1.8h-2.3zM1272.9,84.2h1.7v1.7h-1.7zM1450.8,183.7h2.3v1.5h-2.3zM1326.0,96.2h2.3v1.3h-2.3zM1267.4,73.8h1.9v1.5h-1.9zM1247.9,231.0h2.4v1.6h-2.4zM1378.2,139.5h1.5v1.7h-1.5zM1243.2,196.4h2.2v1.7h-2.2zM1368.6,167.3h2.3v1.6h-2.3zM1365.7,201.7h2.1v1.2h-2.1zM1424.9,183.1h2.0v1.7h-2.0zM1265.1,267.7h2.5v1.2h-2.5zM1240.8,160.8h2.2v1.3h-2.2zM1542.3,235.7h2.1v1.3h-2.1zM1230.7,219.1h1.7v1.5h-1.7zM1407.5,175.4h1.8v1.4h-1.8zM1240.1,164.6h2.4v1.5h-2.4zM1440.1,155.4h1.7v1.3h-1.7zM1384.9,184.8h2.0v1.1h-2.0zM1311.1,121.3h2.3v1.6h-2.3zM1450.1,155.9h1.5v1.1h-1.5zM1436.7,184.5h1.5v1.4h-1.5zM1408.5,140.4h1.7v1.4h-1.7zM1439.3,124.8h2.0v1.7h-2.0zM1261.6,106.5h2.0v1.1h-2.0zM1227.1,209.2h1.8v1.7h-1.8zM1547.0,246.9h2.3v1.7h-2.3zM1245.0,225.2h2.2v1.2h-2.2zM1482.3,191.9h1.7v1.3h-1.7zM1508.7,178.4h1.7v1.5h-1.7zM1303.9,93.9h1.7v1.6h-1.7zM1261.1,249.8h1.5v1.6h-1.5zM1457.4,160.3h1.7v1.7h-1.7zM1433.5,189.9h2.4v1.5h-2.4zM1252.4,109.7h1.5v1.1h-1.5zM1489.6,195.2h2.2v1.3h-2.2zM1259.6,114.1h2.0v1.7h-2.0zM1419.0,265.8h2.3v1.8h-2.3zM1444.2,192.0h2.1v1.3h-2.1zM1405.3,167.1h2.0v1.4h-2.0zM1385.2,185.0h1.9v1.8h-1.9zM1253.9,128.4h2.4v1.4h-2.4zM1365.0,163.5h2.5v1.8h-2.5zM1231.8,102.0h1.9v1.5h-1.9zM1427.2,136.1h2.0v1.5h-2.0zM1377.0,136.5h2.3v1.6h-2.3zM1321.4,116.7h1.5v1.1h-1.5zM1402.3,153.7h2.1v1.3h-2.1zM1320.3,95.1h2.3v1.1h-2.3zM1323.6,82.3h1.7v1.5h-1.7zM1349.8,143.5h2.3v1.4h-2.3zM1283.8,270.5h2.0v1.3h-2.0zM1490.0,193.3h1.8v1.3h-1.8zM1349.5,154.6h2.2v1.5h-2.2zM1363.3,121.2h1.5v1.5h-1.5zM1270.8,109.2h2.4v1.4h-2.4zM1417.7,153.8h2.3v1.6h-2.3zM1389.5,185.6h2.0v1.1h-2.0zM1535.8,221.4h2.0v1.3h-2.0zM1238.9,158.7h2.5v1.7h-2.5zM1250.6,235.3h2.0v1.6h-2.0zM1244.4,213.2h2.3v1.8h-2.3zM1551.5,233.5h2.2v1.4h-2.2zM1236.0,143.7h1.6v1.7h-1.6zM1357.8,159.2h1.6v1.1h-1.6zM1276.7,116.2h2.3v1.6h-2.3zM1474.3,174.8h1.9v1.7h-1.9zM1278.4,89.0h2.4v1.4h-2.4zM1459.9,159.7h1.5v1.2h-1.5zM1275.3,116.2h1.9v1.3h-1.9zM1465.6,161.0h1.6v1.4h-1.6zM1242.3,118.6h1.9v1.6h-1.9zM1269.2,63.4h2.3v1.5h-2.3zM1453.6,154.5h2.5v1.2h-2.5zM1366.5,155.3h2.0v1.3h-2.0zM1377.5,168.9h1.9v1.1h-1.9zM1285.7,110.3h2.0v1.5h-2.0zM1227.6,163.6h1.6v1.2h-1.6zM1384.5,139.5h1.5v1.4h-1.5zM1300.7,100.7h2.4v1.1h-2.4zM1244.4,152.6h1.5v1.7h-1.5zM1491.1,187.0h1.8v1.5h-1.8zM1360.2,139.1h2.2v1.3h-2.2zM1369.6,192.5h2.5v1.4h-2.5zM1357.6,202.6h2.0v1.8h-2.0zM1288.8,76.0h2.0v1.2h-2.0zM1336.5,125.3h1.7v1.7h-1.7zM1480.2,136.0h1.8v1.3h-1.8zM1358.1,176.4h1.5v1.1h-1.5zM1355.6,161.6h1.6v1.3h-1.6zM1496.0,172.3h2.5v1.5h-2.5zM1306.6,98.4h1.5v1.5h-1.5zM1480.9,136.5h1.8v1.7h-1.8zM1291.7,115.8h2.5v1.5h-2.5zM1497.1,195.7h2.3v1.3h-2.3zM1492.8,189.0h1.6v1.6h-1.6zM1478.3,139.1h1.5v1.4h-1.5zM1255.3,247.4h2.3v1.2h-2.3zM1281.7,111.5h2.2v1.2h-2.2zM1324.8,77.6h2.2v1.2h-2.2zM1373.1,148.4h1.9v1.4h-1.9zM1380.6,187.2h1.5v1.5h-1.5zM1541.6,264.5h1.5v1.5h-1.5zM1440.8,164.1h2.0v1.7h-2.0zM1312.8,112.3h1.9v1.1h-1.9zM1457.0,177.3h1.8v1.6h-1.8z" fill="#222" fill-opacity="0.9"/><path d="M1324.0,245.1 1323.0,242.3 1322.6,236.5 1322.9,228.5 1324.0,227.0 1325.0,230.0 1325.3,237.0 1324.9,242.5 1324.0,245.1Z M1324.0,251.2 1323.0,249.4 1321.9,243.0 1321.1,228.0 1321.9,224.0 1323.0,221.7 1324.0,221.2 1325.0,222.5 1325.9,226.0 1326.4,235.5 1325.6,247.0 1325.0,249.7 1324.0,251.2Z M1324.5,256.8 1323.5,256.5 1322.9,255.5 1321.5,249.0 1320.4,239.0 1319.6,222.5 1319.7,221.0 1323.5,215.0 1324.6,215.5 1326.0,219.0 1327.5,229.5 1326.7,249.0 1325.9,254.0 1324.5,256.8Z M1302.0,174.4 1299.8,171.0 1299.7,169.5 1300.5,168.5 1301.5,169.0 1302.4,170.5 1302.5,173.8 1302.0,174.4Z M1324.5,262.6 1323.5,262.4 1322.5,260.4 1320.6,252.5 1317.3,216.0 1317.5,215.0 1318.5,215.1 1319.5,214.3 1322.0,209.0 1323.5,207.4 1325.0,208.5 1326.3,212.0 1328.2,222.0 1328.8,228.5 1327.7,252.5 1326.3,259.0 1324.5,262.6Z M1325.0,266.6 1323.5,266.7 1322.5,266.2 1321.1,262.5 1319.2,251.5 1314.5,212.2 1308.0,192.7 1297.8,171.5 1297.8,167.5 1298.5,166.2 1299.5,165.6 1302.0,166.5 1303.9,169.0 1306.0,180.0 1309.5,191.4 1316.0,205.1 1317.0,206.2 1318.0,206.2 1321.5,200.6 1323.0,199.6 1325.0,201.3 1327.2,207.0 1329.9,224.5 1329.9,237.5 1328.7,256.0 1326.8,264.0 1325.0,266.6Z M1325.5,268.1 1323.5,268.3 1322.0,267.9 1320.5,266.5 1319.9,265.0 1312.3,214.5 1307.6,203.5 1305.0,194.0 1297.9,178.5 1295.8,172.0 1295.7,166.0 1296.5,163.9 1298.0,162.7 1299.5,162.6 1301.5,163.3 1303.5,164.8 1305.2,167.0 1309.5,182.3 1314.0,193.1 1315.5,194.7 1317.0,195.1 1321.5,191.9 1323.0,191.6 1324.0,192.1 1326.0,195.4 1328.3,203.0 1331.4,223.5 1331.3,237.0 1330.6,251.5 1329.7,258.5 1328.0,265.5 1327.0,267.0 1325.5,268.1Z M1325.5,269.1 1323.0,269.3 1321.0,268.6 1319.5,267.5 1318.3,265.5 1315.1,243.5 1312.3,233.0 1310.0,220.1 1308.2,215.0 1303.8,207.0 1300.5,193.0 1294.8,179.5 1293.2,171.0 1293.2,165.5 1294.5,161.2 1297.0,159.4 1299.0,159.4 1301.5,160.2 1304.1,162.0 1306.4,164.5 1307.9,167.5 1311.5,179.3 1315.0,185.0 1316.5,185.7 1318.0,185.6 1322.5,182.2 1324.0,181.9 1325.5,183.1 1326.6,186.0 1330.8,206.0 1332.8,222.0 1333.1,228.0 1332.3,250.5 1331.3,258.5 1329.3,266.0 1327.7,268.0 1325.5,269.1Z M1493.0,248.0 1490.5,248.5 1488.5,248.0 1486.5,246.7 1484.8,244.5 1484.0,242.0 1484.1,239.5 1485.2,237.5 1487.0,236.1 1489.5,235.4 1492.5,235.6 1495.0,236.8 1496.9,239.0 1497.5,241.5 1496.9,244.5 1495.4,246.5 1493.0,248.0Z M1325.0,270.0 1322.5,270.0 1319.8,269.0 1317.8,267.5 1316.6,265.5 1314.5,250.9 1312.8,243.0 1309.2,234.0 1306.5,223.1 1300.7,212.0 1298.7,203.0 1295.4,192.0 1291.2,183.0 1290.1,169.0 1290.3,164.0 1291.9,158.5 1293.1,157.0 1295.0,156.0 1298.0,155.8 1301.0,156.7 1304.5,158.8 1307.5,161.5 1310.0,165.0 1313.0,174.1 1315.5,177.8 1316.5,178.3 1318.0,178.1 1322.0,174.8 1324.0,174.4 1325.5,175.2 1327.0,176.9 1329.1,182.0 1334.6,221.5 1334.6,237.0 1333.7,253.5 1331.7,264.0 1330.6,266.5 1329.3,268.0 1325.0,270.0Z M1491.0,253.0 1487.5,252.7 1484.3,250.5 1481.1,246.5 1479.3,242.0 1479.2,238.0 1480.4,234.5 1483.0,231.8 1486.5,230.4 1492.0,230.4 1497.5,232.1 1500.6,234.5 1502.4,238.5 1502.3,243.5 1500.0,248.4 1496.5,251.1 1491.0,253.0Z M1326.0,270.5 1323.5,270.8 1320.5,270.1 1317.3,268.5 1315.2,266.5 1314.2,264.0 1313.0,253.8 1311.1,246.0 1309.5,242.3 1305.2,235.5 1302.0,227.0 1299.0,223.6 1291.7,219.0 1289.8,216.0 1289.6,212.5 1291.6,207.0 1291.7,204.5 1290.5,201.5 1285.7,196.0 1284.3,193.0 1283.8,183.0 1284.6,175.5 1284.0,169.5 1284.7,166.0 1288.3,156.5 1290.0,153.9 1292.5,152.4 1297.5,152.2 1302.5,153.7 1307.0,156.7 1316.5,165.7 1318.0,166.2 1322.0,165.9 1324.0,166.7 1328.0,171.9 1331.3,180.0 1332.4,185.0 1333.2,196.5 1336.8,222.0 1335.9,249.5 1334.8,258.5 1332.8,265.5 1330.3,268.5 1326.0,270.5Z M1492.0,258.0 1486.5,258.2 1484.0,257.2 1481.5,255.3 1476.5,249.0 1474.9,245.5 1474.1,242.0 1474.5,236.0 1477.3,230.0 1481.5,226.5 1487.5,224.5 1494.5,224.9 1500.5,227.6 1503.0,229.8 1505.1,232.5 1507.3,238.5 1506.3,247.0 1504.0,252.5 1500.0,255.6 1492.0,258.0Z M1326.5,271.0 1323.5,271.4 1320.5,270.8 1316.0,268.8 1313.0,266.5 1311.7,263.5 1310.0,252.1 1307.9,247.0 1305.5,243.8 1300.0,238.6 1289.0,230.9 1285.9,228.0 1283.5,223.5 1280.2,214.0 1274.5,202.5 1273.8,197.5 1274.9,187.5 1271.5,176.6 1271.4,170.5 1272.5,168.4 1277.5,163.5 1284.9,151.0 1286.5,149.4 1288.5,148.4 1294.0,148.2 1302.5,149.5 1306.0,151.1 1313.0,156.0 1315.5,157.0 1318.0,157.0 1322.5,155.9 1325.0,156.5 1327.5,160.2 1334.2,180.5 1335.5,186.5 1335.7,196.0 1337.4,210.5 1339.3,221.0 1339.2,237.0 1338.2,250.0 1336.9,259.0 1334.7,265.5 1331.8,268.5 1326.5,271.0Z M1487.5,263.5 1484.5,263.3 1481.5,262.2 1477.0,259.4 1474.0,256.7 1471.3,252.5 1468.2,246.0 1466.7,241.0 1466.6,238.0 1467.4,235.5 1472.2,227.0 1475.0,224.1 1486.0,219.3 1490.0,218.5 1493.5,218.5 1497.5,219.7 1502.0,222.5 1505.4,226.0 1508.3,230.5 1510.3,234.5 1511.2,238.0 1510.4,249.0 1509.7,252.5 1508.5,255.2 1506.2,258.0 1503.5,260.2 1499.5,261.7 1487.5,263.5Z M1326.5,271.6 1323.5,272.0 1320.0,271.3 1314.0,268.8 1310.4,266.5 1308.8,264.0 1307.0,257.6 1305.5,254.5 1304.0,253.1 1300.0,251.8 1298.0,250.5 1295.1,244.5 1292.8,242.0 1280.0,234.4 1278.5,232.0 1277.6,226.0 1276.0,222.4 1273.5,219.9 1268.0,217.3 1266.1,214.5 1265.0,201.0 1263.3,190.0 1264.8,179.0 1263.8,169.5 1264.2,165.0 1265.5,161.9 1268.9,157.0 1269.7,150.5 1271.0,147.3 1273.5,145.3 1283.0,141.2 1287.0,140.9 1294.0,143.5 1302.5,144.9 1312.0,147.7 1315.5,147.6 1321.5,146.1 1324.0,146.2 1327.5,148.6 1330.1,153.0 1332.9,167.5 1338.8,185.5 1338.8,195.5 1340.2,208.5 1342.9,220.0 1342.8,235.5 1340.4,256.5 1338.3,263.5 1336.7,266.0 1334.4,268.0 1326.5,271.6Z M1488.0,266.5 1483.5,266.4 1479.5,265.3 1473.5,262.7 1469.7,260.0 1466.9,256.5 1461.0,245.8 1456.8,240.0 1456.0,237.0 1459.1,225.0 1461.8,221.5 1472.5,216.9 1484.0,212.8 1490.0,211.9 1494.5,212.5 1499.2,214.0 1502.5,215.6 1505.5,218.2 1509.0,223.0 1514.1,232.5 1515.3,236.0 1515.7,240.0 1513.9,255.0 1512.2,258.5 1509.6,261.5 1506.5,263.9 1503.5,265.2 1488.0,266.5Z M1324.0,272.5 1318.0,271.2 1307.0,266.5 1286.4,250.5 1280.1,243.5 1272.4,238.5 1270.2,235.0 1267.9,227.5 1263.0,222.9 1260.7,219.5 1255.8,203.0 1255.2,198.0 1255.7,186.5 1253.8,177.5 1253.9,173.5 1254.9,169.5 1261.7,152.0 1264.3,142.0 1266.0,138.8 1268.0,137.1 1276.5,135.4 1285.3,131.0 1288.0,130.7 1290.9,131.5 1297.8,137.0 1310.0,142.1 1314.0,142.1 1321.5,138.8 1325.0,138.8 1328.5,141.7 1332.7,148.0 1334.0,151.0 1335.5,164.9 1342.6,184.5 1342.5,194.5 1343.8,206.5 1344.6,210.0 1348.1,218.5 1349.2,233.5 1345.9,246.0 1344.9,257.0 1342.3,263.5 1340.0,266.0 1335.7,268.5 1328.0,271.8 1324.0,272.5Z M1489.0,268.0 1480.2,267.5 1467.7,264.0 1462.9,261.0 1454.5,254.0 1441.5,246.3 1439.0,246.4 1433.0,248.7 1429.5,249.4 1426.0,249.0 1419.5,246.0 1416.0,245.3 1413.0,245.9 1405.5,249.0 1402.5,249.2 1399.5,248.5 1397.2,246.5 1395.5,241.7 1393.8,240.0 1388.5,237.9 1381.3,237.0 1378.0,234.7 1375.0,231.0 1373.5,228.0 1372.8,224.5 1373.2,221.0 1374.5,219.1 1376.5,217.6 1389.0,212.3 1393.0,211.9 1401.0,213.6 1406.5,213.6 1409.5,212.7 1415.5,209.0 1423.5,209.3 1430.0,207.4 1433.9,208.0 1438.5,210.3 1441.8,213.0 1446.5,218.7 1449.0,219.6 1453.0,218.4 1463.0,211.5 1467.5,209.7 1476.5,209.0 1487.5,207.2 1501.0,208.7 1504.5,209.6 1506.7,211.0 1508.8,213.5 1516.1,224.5 1519.0,231.1 1520.1,236.0 1520.4,241.0 1518.6,256.0 1517.4,259.0 1515.6,261.5 1512.7,264.0 1509.1,266.0 1503.5,267.3 1489.0,268.0Z M1324.5,273.0 1319.5,272.3 1298.5,265.5 1295.0,263.6 1288.0,257.6 1277.2,253.5 1266.0,242.7 1261.0,235.5 1258.8,228.5 1249.0,205.0 1248.7,202.0 1249.0,190.0 1246.9,179.5 1246.6,175.5 1247.7,169.5 1250.8,159.5 1255.6,148.5 1261.0,133.0 1262.5,130.5 1265.0,128.8 1273.0,127.5 1279.5,125.0 1284.5,124.8 1291.0,125.7 1300.2,128.0 1311.0,132.3 1313.5,132.1 1319.0,129.1 1321.0,128.6 1324.0,129.7 1327.5,132.4 1330.9,136.5 1338.7,149.5 1338.3,161.0 1339.5,164.6 1342.9,171.5 1346.7,182.0 1346.9,193.0 1349.0,206.8 1351.5,210.7 1361.0,220.7 1363.0,220.5 1367.1,215.5 1369.5,213.5 1384.0,204.5 1388.5,202.5 1393.5,201.8 1404.0,202.0 1416.5,199.6 1428.5,199.5 1433.5,200.4 1448.5,207.1 1451.5,207.9 1455.5,207.5 1465.0,204.7 1476.5,204.4 1485.5,203.0 1495.0,203.8 1502.0,203.5 1505.5,204.1 1509.0,205.6 1511.8,208.0 1515.5,214.4 1520.9,220.5 1522.8,225.5 1525.0,241.5 1523.7,256.0 1522.0,260.0 1519.1,263.5 1515.5,265.7 1510.2,267.5 1503.5,268.6 1486.0,269.1 1469.0,267.0 1461.6,265.0 1451.5,258.4 1441.5,254.7 1437.5,254.5 1426.5,256.2 1416.5,255.0 1408.0,256.0 1397.0,255.2 1390.5,253.6 1383.5,250.0 1376.0,250.2 1373.0,249.6 1363.5,244.3 1359.0,242.9 1357.0,243.5 1355.0,245.5 1354.2,248.0 1354.0,253.0 1353.4,255.5 1346.3,265.0 1341.4,267.5 1328.5,272.2 1324.5,273.0Z M1324.5,273.5 1321.0,273.2 1305.5,269.0 1293.0,266.8 1289.2,265.5 1284.5,262.6 1277.0,262.1 1273.0,260.7 1268.8,257.5 1264.0,248.5 1255.6,240.0 1253.3,236.0 1244.3,205.0 1244.1,195.0 1242.1,180.0 1242.4,172.5 1244.7,158.0 1255.7,128.5 1257.4,126.0 1259.5,124.1 1268.0,119.3 1273.0,118.3 1280.5,118.5 1307.5,123.3 1311.0,122.8 1316.5,119.8 1319.5,119.0 1323.0,119.4 1326.0,121.3 1329.5,125.9 1338.5,140.3 1347.8,149.5 1348.1,152.0 1345.6,156.0 1345.5,158.2 1347.0,159.0 1351.5,158.7 1353.2,160.5 1353.5,163.0 1351.7,173.5 1352.2,190.0 1356.5,203.0 1358.1,205.5 1360.5,207.4 1363.5,207.7 1368.5,206.0 1383.5,197.5 1387.0,196.1 1400.5,194.4 1413.0,194.9 1424.0,192.5 1427.5,192.8 1440.5,197.1 1456.5,201.1 1467.0,199.9 1476.0,199.9 1484.0,197.6 1488.0,197.3 1494.5,198.5 1503.5,199.2 1509.0,200.6 1512.5,202.3 1515.7,205.0 1523.6,214.5 1525.7,218.0 1527.0,221.5 1529.7,239.5 1528.7,255.5 1526.7,260.0 1523.5,264.0 1520.5,266.0 1516.0,267.5 1504.5,269.4 1483.0,269.8 1462.0,267.4 1457.1,266.0 1449.0,262.5 1438.5,260.8 1422.5,261.7 1412.0,263.3 1395.5,260.1 1371.5,257.9 1364.0,258.9 1350.0,266.5 1324.5,273.5Z" fill="none" stroke="#444" stroke-width="1.7" stroke-linejoin="round"/>
<rect x="1222.5" y="39" width="355.5" height="354.5" stroke="#000" stroke-width="7" fill="none" stroke-linejoin="round"/>
<rect x="1231.8" y="93.3" width="149.7" height="193" stroke="#000" stroke-width="7" fill="none" stroke-linejoin="round"/>
<line x1="1197" y1="68" x2="1219" y2="68" stroke="#000" stroke-width="3"/>
<line x1="1197" y1="162" x2="1219" y2="162" stroke="#000" stroke-width="3"/>
<line x1="1197" y1="255.5" x2="1219" y2="255.5" stroke="#000" stroke-width="3"/>
<line x1="1197" y1="341.7" x2="1219" y2="341.7" stroke="#000" stroke-width="3"/>
<text x="1189.50" y="86.75" font-size="29.5" transform="rotate(-90 1189.50 86.75)">10<tspan dy="-10" font-size="17.5">5</tspan></text>
<text x="1189.50" y="180.75" font-size="29.5" transform="rotate(-90 1189.50 180.75)">10<tspan dy="-10" font-size="17.5">4</tspan></text>
<text x="1189.50" y="274.25" font-size="29.5" transform="rotate(-90 1189.50 274.25)">10<tspan dy="-10" font-size="17.5">3</tspan></text>
<text x="1194.10" y="349.80" font-size="29.5" transform="rotate(-90 1194.10 349.80)">0</text>
<line x1="1317" y1="397" x2="1317" y2="410" stroke="#000" stroke-width="3"/>
<line x1="1437" y1="397" x2="1437" y2="410" stroke="#000" stroke-width="3"/>
<line x1="1509" y1="397" x2="1509" y2="410" stroke="#000" stroke-width="3"/>
<text x="1310.00" y="439.20" font-size="29.5">0</text>
<text x="1413.45" y="435.30" font-size="29.5">10<tspan dy="-10" font-size="17.5">4</tspan></text>
<text x="1485.75" y="435.30" font-size="29.5">10<tspan dy="-10" font-size="17.5">5</tspan></text>
<text x="1370.00" y="472.00" font-size="29.5">Ly6C</text>
<line x1="1262.5" y1="461" x2="1354" y2="461" stroke="#000" stroke-width="3"/>
<line x1="1452.5" y1="461" x2="1523.5" y2="461" stroke="#000" stroke-width="3"/><polygon points="1522.5,450.2 1544,461 1522.5,471.8" fill="#000"/>
<line x1="1136.2" y1="167.3" x2="1136.2" y2="114" stroke="#000" stroke-width="3"/><polygon points="1124.9,115 1136.2,93 1147.5,115" fill="#000"/>
<line x1="1136.2" y1="347" x2="1136.2" y2="385.8" stroke="#000" stroke-width="3"/>
<text x="1147.00" y="327.60" font-size="29.5" transform="rotate(-90 1147.00 327.60)">F4/80-FITC</text>
<text x="1232.60" y="81.00" font-size="29.6">F4/80+Ly6C-</text>
<text x="1307.65" y="128.20" font-size="33.7" fill="#f00">56.8</text>
<rect x="1788" y="130.05100000000002" width="47" height="211.249" fill="#f44242" stroke="#333" stroke-width="2.5"/>
<rect x="1852.8" y="246.4478" width="46.200000000000045" height="94.85220000000001" fill="#f44242" stroke="#333" stroke-width="2.5"/>
<rect x="1916.8" y="298.7704" width="46.700000000000045" height="42.529600000000016" fill="#f44242" stroke="#333" stroke-width="2.5"/>
<line x1="1779.5" y1="61.5" x2="1779.5" y2="342.3" stroke="#333" stroke-width="2.5"/>
<line x1="1764" y1="341.3" x2="1779.5" y2="341.3" stroke="#333" stroke-width="2.5"/>
<text x="1754.5" y="351.8" text-anchor="end">0</text>
<line x1="1764" y1="285.34000000000003" x2="1779.5" y2="285.34000000000003" stroke="#333" stroke-width="2.5"/>
<text x="1754.5" y="295.84000000000003" text-anchor="end">2</text>
<line x1="1764" y1="229.38" x2="1779.5" y2="229.38" stroke="#333" stroke-width="2.5"/>
<text x="1754.5" y="239.88" text-anchor="end">4</text>
<line x1="1764" y1="173.42000000000002" x2="1779.5" y2="173.42000000000002" stroke="#333" stroke-width="2.5"/>
<text x="1754.5" y="183.92000000000002" text-anchor="end">6</text>
<line x1="1764" y1="117.46000000000001" x2="1779.5" y2="117.46000000000001" stroke="#333" stroke-width="2.5"/>
<text x="1754.5" y="127.96000000000001" text-anchor="end">8</text>
<line x1="1764" y1="61.5" x2="1779.5" y2="61.5" stroke="#333" stroke-width="2.5"/>
<text x="1754.5" y="72.0" text-anchor="end">10</text>
<line x1="1764.5" y1="341.3" x2="1974.6" y2="341.3" stroke="#333" stroke-width="2.5"/>
<line x1="1811.8" y1="341.3" x2="1811.8" y2="354" stroke="#333" stroke-width="2.5"/>
<line x1="1876" y1="341.3" x2="1876" y2="354" stroke="#333" stroke-width="2.5"/>
<line x1="1941" y1="341.3" x2="1941" y2="354" stroke="#333" stroke-width="2.5"/>
<line x1="1811.5" y1="88" x2="1811.5" y2="171" stroke="#444" stroke-width="2.5"/><line x1="1800.7" y1="88" x2="1822.3" y2="88" stroke="#444" stroke-width="2.5"/><line x1="1800.7" y1="171" x2="1822.3" y2="171" stroke="#444" stroke-width="2.5"/>
<line x1="1876" y1="213.5" x2="1876" y2="278.4" stroke="#444" stroke-width="2.5"/><line x1="1864.5" y1="213.5" x2="1887.5" y2="213.5" stroke="#444" stroke-width="2.5"/><line x1="1864.5" y1="278.4" x2="1887.5" y2="278.4" stroke="#444" stroke-width="2.5"/>
<line x1="1940" y1="291.5" x2="1940" y2="312" stroke="#444" stroke-width="2.5"/><line x1="1930" y1="291.5" x2="1950" y2="291.5" stroke="#444" stroke-width="2.5"/><line x1="1930" y1="312" x2="1950" y2="312" stroke="#444" stroke-width="2.5"/>
<ellipse cx="1800.8" cy="106" rx="5.5" ry="4.5" fill="none" stroke="#555" stroke-width="2.2"/>
<ellipse cx="1822.6" cy="100.5" rx="5.5" ry="4.5" fill="none" stroke="#555" stroke-width="2.2"/>
<ellipse cx="1811" cy="120" rx="5.5" ry="4.5" fill="none" stroke="#555" stroke-width="2.2"/>
<ellipse cx="1811" cy="191.8" rx="5.5" ry="4.5" fill="none" stroke="#555" stroke-width="2.2"/>
<ellipse cx="1876" cy="199.5" rx="5.5" ry="4.5" fill="none" stroke="#555" stroke-width="2.2"/>
<ellipse cx="1876" cy="249.4" rx="5.5" ry="4.5" fill="none" stroke="#555" stroke-width="2.2"/>
<ellipse cx="1876" cy="259" rx="5.5" ry="4.5" fill="none" stroke="#555" stroke-width="2.2"/>
<ellipse cx="1876" cy="274" rx="5.5" ry="4.5" fill="none" stroke="#555" stroke-width="2.2"/>
<ellipse cx="1929.7" cy="291" rx="5.5" ry="4.5" fill="none" stroke="#555" stroke-width="2.2"/>
<ellipse cx="1950.6" cy="291" rx="5.5" ry="4.5" fill="none" stroke="#555" stroke-width="2.2"/>
<ellipse cx="1929.7" cy="309.2" rx="5.5" ry="4.5" fill="none" stroke="#555" stroke-width="2.2"/>
<ellipse cx="1950.6" cy="307" rx="5.5" ry="4.5" fill="none" stroke="#555" stroke-width="2.2"/>
<text x="1714.50" y="349.90" font-size="29.5" transform="rotate(-90 1714.50 349.90)"># Cells/g Tissue (x10<tspan dy="-10" font-size="17.5">5</tspan><tspan dy="10">)</tspan></text>
<defs><clipPath id="cb"><rect x="1700" y="361.5" width="300" height="120"/></clipPath></defs>
<g clip-path="url(#cb)">
<text x="1821" y="368" text-anchor="end" transform="rotate(-40 1821 368)">F4/80+</text>
<text x="1890" y="369" text-anchor="end" transform="rotate(-40 1890 369)">Ly6C<tspan dy="-9" font-size="21">high</tspan></text>
<text x="1955" y="369" text-anchor="end" transform="rotate(-40 1955 369)">Ly6G<tspan dy="-9" font-size="21">high</tspan></text>
</g>
<line x1="117" y1="592.8" x2="117" y2="880.6" stroke="#333" stroke-width="2.5"/><line x1="106" y1="879.6" x2="117" y2="879.6" stroke="#333" stroke-width="2.5"/><text x="100" y="893.1" text-anchor="end">0</text><line x1="106" y1="784.0" x2="117" y2="784.0" stroke="#333" stroke-width="2.5"/><text x="100" y="797.5" text-anchor="end">20</text><line x1="106" y1="688.4" x2="117" y2="688.4" stroke="#333" stroke-width="2.5"/><text x="100" y="701.9" text-anchor="end">40</text><line x1="106" y1="592.8" x2="117" y2="592.8" stroke="#333" stroke-width="2.5"/><text x="100" y="606.3" text-anchor="end">60</text><line x1="108" y1="879.6" x2="349" y2="879.6" stroke="#333" stroke-width="2.5"/><line x1="175.6" y1="879.6" x2="175.6" y2="889.6" stroke="#333" stroke-width="2.5"/><line x1="292.5" y1="879.6" x2="292.5" y2="889.6" stroke="#333" stroke-width="2.5"/><text x="175.6" y="926.1" text-anchor="middle">A3250</text><text x="292.5" y="926.1" text-anchor="middle">MDA231</text><text x="192.90" y="567.80" font-size="33">F4/80+</text><line x1="205" y1="616.4" x2="282.7" y2="616.4" stroke="#000" stroke-width="4"/><text x="243" y="617.4" text-anchor="middle" font-size="31" font-weight="bold">*</text><circle cx="175.6" cy="632.7" r="7.6" fill="#e8101a" stroke="#8a1010" stroke-width="1.6"/><circle cx="164" cy="674.7" r="7.6" fill="#e8101a" stroke="#8a1010" stroke-width="1.6"/><circle cx="187.2" cy="692.4" r="7.6" fill="#e8101a" stroke="#8a1010" stroke-width="1.6"/><circle cx="175.6" cy="728" r="7.6" fill="#e8101a" stroke="#8a1010" stroke-width="1.6"/><circle cx="164" cy="745.5" r="7.6" fill="#e8101a" stroke="#8a1010" stroke-width="1.6"/><circle cx="186.3" cy="756" r="7.6" fill="#e8101a" stroke="#8a1010" stroke-width="1.6"/><circle cx="175.6" cy="849.3" r="7.6" fill="#e8101a" stroke="#8a1010" stroke-width="1.6"/><rect x="286.2" y="832.3000000000001" width="12.6" height="12.6" fill="#999" stroke="#4a4a4a" stroke-width="1.8"/><rect x="269.4" y="852.3000000000001" width="12.6" height="12.6" fill="#999" stroke="#4a4a4a" stroke-width="1.8"/><rect x="286.2" y="861.7" width="12.6" height="12.6" fill="#999" stroke="#4a4a4a" stroke-width="1.8"/><rect x="302.5" y="859.3000000000001" width="12.6" height="12.6" fill="#999" stroke="#4a4a4a" stroke-width="1.8"/><line x1="135" y1="725" x2="215.6" y2="725" stroke="#333" stroke-width="3"/><line x1="156" y1="699.3" x2="194.7" y2="699.3" stroke="#333" stroke-width="3"/><line x1="156" y1="752" x2="194.7" y2="752" stroke="#333" stroke-width="3"/><line x1="175.35" y1="699.3" x2="175.35" y2="752" stroke="#333" stroke-width="3"/><line x1="253.8" y1="857.7" x2="332" y2="857.7" stroke="#333" stroke-width="3"/><line x1="272.5" y1="850" x2="312" y2="850" stroke="#333" stroke-width="3"/><line x1="272.5" y1="864" x2="312" y2="864" stroke="#333" stroke-width="3"/><line x1="292.25" y1="850" x2="292.25" y2="864" stroke="#333" stroke-width="3"/><text x="50.50" y="815.00" font-size="29.5" transform="rotate(-90 50.50 815.00)">% of CD11b+</text>
<line x1="491.1" y1="597.8" x2="491.1" y2="884.6" stroke="#333" stroke-width="2.5"/><line x1="480.1" y1="883.6" x2="491.1" y2="883.6" stroke="#333" stroke-width="2.5"/><text x="474.1" y="897.1" text-anchor="end">0</text><line x1="480.1" y1="788.3333333333334" x2="491.1" y2="788.3333333333334" stroke="#333" stroke-width="2.5"/><text x="474.1" y="801.8333333333334" text-anchor="end">10</text><line x1="480.1" y1="693.0666666666666" x2="491.1" y2="693.0666666666666" stroke="#333" stroke-width="2.5"/><text x="474.1" y="706.5666666666666" text-anchor="end">20</text><line x1="480.1" y1="597.8" x2="491.1" y2="597.8" stroke="#333" stroke-width="2.5"/><text x="474.1" y="611.3" text-anchor="end">30</text><line x1="481" y1="883.6" x2="726.7" y2="883.6" stroke="#333" stroke-width="2.5"/><line x1="550.2" y1="883.6" x2="550.2" y2="893.6" stroke="#333" stroke-width="2.5"/><line x1="668" y1="883.6" x2="668" y2="893.6" stroke="#333" stroke-width="2.5"/><text x="550.2" y="930.1" text-anchor="middle">A3250</text><text x="668" y="930.1" text-anchor="middle">MDA231</text><text x="540.65" y="567.80" font-size="33">Ly6C<tspan dy="-10" font-size="21.5">high</tspan></text><line x1="581" y1="617" x2="659" y2="617" stroke="#000" stroke-width="4"/><text x="620" y="618" text-anchor="middle" font-size="31" font-weight="bold">**</text><circle cx="539" cy="645.3" r="7.6" fill="#e8101a" stroke="#8a1010" stroke-width="1.6"/><circle cx="561.3" cy="636.9" r="7.6" fill="#e8101a" stroke="#8a1010" stroke-width="1.6"/><circle cx="550.2" cy="673.3" r="7.6" fill="#e8101a" stroke="#8a1010" stroke-width="1.6"/><circle cx="561.3" cy="696.9" r="7.6" fill="#e8101a" stroke="#8a1010" stroke-width="1.6"/><circle cx="539" cy="717.8" r="7.6" fill="#e8101a" stroke="#8a1010" stroke-width="1.6"/><circle cx="550.2" cy="744.4" r="7.6" fill="#e8101a" stroke="#8a1010" stroke-width="1.6"/><circle cx="550.2" cy="771" r="7.6" fill="#e8101a" stroke="#8a1010" stroke-width="1.6"/><rect x="661.7" y="755.9000000000001" width="12.6" height="12.6" fill="#999" stroke="#4a4a4a" stroke-width="1.8"/><rect x="660.4000000000001" y="803.5" width="12.6" height="12.6" fill="#999" stroke="#4a4a4a" stroke-width="1.8"/><rect x="670.6" y="807.9000000000001" width="12.6" height="12.6" fill="#999" stroke="#4a4a4a" stroke-width="1.8"/><rect x="653.7" y="821.3000000000001" width="12.6" height="12.6" fill="#999" stroke="#4a4a4a" stroke-width="1.8"/><line x1="511" y1="697.8" x2="590" y2="697.8" stroke="#333" stroke-width="3"/><line x1="529.8" y1="678.7" x2="571" y2="678.7" stroke="#333" stroke-width="3"/><line x1="529.8" y1="716.9" x2="571" y2="716.9" stroke="#333" stroke-width="3"/><line x1="550.4" y1="678.7" x2="550.4" y2="716.9" stroke="#333" stroke-width="3"/><line x1="628" y1="803.6" x2="708.9" y2="803.6" stroke="#333" stroke-width="3"/><line x1="648" y1="789.8" x2="688" y2="789.8" stroke="#333" stroke-width="3"/><line x1="648" y1="818.7" x2="688" y2="818.7" stroke="#333" stroke-width="3"/><line x1="668.0" y1="789.8" x2="668.0" y2="818.7" stroke="#333" stroke-width="3"/><text x="427.00" y="821.20" font-size="29.5" transform="rotate(-90 427.00 821.20)">% of CD11b+</text>
<line x1="855.6" y1="597.8" x2="855.6" y2="881" stroke="#333" stroke-width="2.5"/><line x1="844.6" y1="880.0" x2="855.6" y2="880.0" stroke="#333" stroke-width="2.5"/><text x="838.6" y="893.5" text-anchor="end">0</text><line x1="844.6" y1="785.9333333333333" x2="855.6" y2="785.9333333333333" stroke="#333" stroke-width="2.5"/><text x="838.6" y="799.4333333333333" text-anchor="end">20</text><line x1="844.6" y1="691.8666666666667" x2="855.6" y2="691.8666666666667" stroke="#333" stroke-width="2.5"/><text x="838.6" y="705.3666666666667" text-anchor="end">40</text><line x1="844.6" y1="597.8" x2="855.6" y2="597.8" stroke="#333" stroke-width="2.5"/><text x="838.6" y="611.3" text-anchor="end">60</text><line x1="845.8" y1="880" x2="1088.9" y2="880" stroke="#333" stroke-width="2.5"/><line x1="914.2" y1="880" x2="914.2" y2="890" stroke="#333" stroke-width="2.5"/><line x1="1031" y1="880" x2="1031" y2="890" stroke="#333" stroke-width="2.5"/><text x="914.2" y="926.5" text-anchor="middle">A3250</text><text x="1031" y="926.5" text-anchor="middle">MDA231</text><text x="917.95" y="567.80" font-size="33">Ly6G<tspan dy="-10" font-size="21.5">high</tspan></text><line x1="926.7" y1="616.9" x2="1005.3" y2="616.9" stroke="#000" stroke-width="4"/><text x="964.4" y="617.9" text-anchor="middle" font-size="31" font-weight="bold">*</text><circle cx="914.2" cy="630.2" r="7.6" fill="#e8101a" stroke="#8a1010" stroke-width="1.6"/><circle cx="914.2" cy="774.2" r="7.6" fill="#e8101a" stroke="#8a1010" stroke-width="1.6"/><circle cx="914.2" cy="813.3" r="7.6" fill="#e8101a" stroke="#8a1010" stroke-width="1.6"/><circle cx="892" cy="840.9" r="7.6" fill="#e8101a" stroke="#8a1010" stroke-width="1.6"/><circle cx="903.1" cy="846.7" r="7.6" fill="#e8101a" stroke="#8a1010" stroke-width="1.6"/><circle cx="914.2" cy="835.6" r="7.6" fill="#e8101a" stroke="#8a1010" stroke-width="1.6"/><circle cx="925.3" cy="844.4" r="7.6" fill="#e8101a" stroke="#8a1010" stroke-width="1.6"/><rect x="1024.7" y="609.3000000000001" width="12.6" height="12.6" fill="#999" stroke="#4a4a4a" stroke-width="1.8"/><rect x="1015.7" y="628.4000000000001" width="12.6" height="12.6" fill="#999" stroke="#4a4a4a" stroke-width="1.8"/><rect x="1033.7" y="634.6" width="12.6" height="12.6" fill="#999" stroke="#4a4a4a" stroke-width="1.8"/><rect x="1024.7" y="684.7" width="12.6" height="12.6" fill="#999" stroke="#4a4a4a" stroke-width="1.8"/><line x1="873.3" y1="797.8" x2="954.2" y2="797.8" stroke="#333" stroke-width="3"/><line x1="893.3" y1="768" x2="934.2" y2="768" stroke="#333" stroke-width="3"/><line x1="893.3" y1="826.7" x2="934.2" y2="826.7" stroke="#333" stroke-width="3"/><line x1="913.75" y1="768" x2="913.75" y2="826.7" stroke="#333" stroke-width="3"/><line x1="990.2" y1="645.3" x2="1071" y2="645.3" stroke="#333" stroke-width="3"/><line x1="1011" y1="628.9" x2="1051" y2="628.9" stroke="#333" stroke-width="3"/><line x1="1011" y1="662.2" x2="1051" y2="662.2" stroke="#333" stroke-width="3"/><line x1="1031.0" y1="628.9" x2="1031.0" y2="662.2" stroke="#333" stroke-width="3"/><text x="784.50" y="822.60" font-size="29.5" transform="rotate(-90 784.50 822.60)">% of CD11b<tspan dy="-10" font-size="17.5">+</tspan></text>
<rect x="1250.2" y="674.5252" width="43.899999999999864" height="220.27479999999994" fill="#ff1a1a" stroke="#333" stroke-width="2.5"/><rect x="1311.3" y="803.8421999999999" width="44.200000000000045" height="90.95779999999998" fill="#a3a3a3" stroke="#333" stroke-width="2.5"/><line x1="1242" y1="604.2" x2="1242" y2="895.8" stroke="#333" stroke-width="2.5"/><line x1="1231" y1="894.8" x2="1242" y2="894.8" stroke="#333" stroke-width="2.5"/><text x="1226" y="905.8" text-anchor="end">0</text><line x1="1231" y1="836.68" x2="1242" y2="836.68" stroke="#333" stroke-width="2.5"/><text x="1226" y="847.68" text-anchor="end">2</text><line x1="1231" y1="778.56" x2="1242" y2="778.56" stroke="#333" stroke-width="2.5"/><text x="1226" y="789.56" text-anchor="end">4</text><line x1="1231" y1="720.44" x2="1242" y2="720.44" stroke="#333" stroke-width="2.5"/><text x="1226" y="731.44" text-anchor="end">6</text><line x1="1231" y1="662.32" x2="1242" y2="662.32" stroke="#333" stroke-width="2.5"/><text x="1226" y="673.32" text-anchor="end">8</text><line x1="1231" y1="604.2" x2="1242" y2="604.2" stroke="#333" stroke-width="2.5"/><text x="1226" y="615.2" text-anchor="end">10</text><line x1="1227.3" y1="894.8" x2="1364.3" y2="894.8" stroke="#333" stroke-width="2.5"/><line x1="1272.8" y1="894.8" x2="1272.8" y2="906.8" stroke="#333" stroke-width="2.5"/><line x1="1333.9" y1="894.8" x2="1333.9" y2="906.8" stroke="#333" stroke-width="2.5"/><text x="1210.90" y="935.30" font-size="29.5">A3250</text><text x="1304.35" y="935.30" font-size="29.5">MDA231</text><line x1="1272.5" y1="631.5" x2="1272.5" y2="718.5" stroke="#444" stroke-width="2.5"/><line x1="1261.8" y1="631.5" x2="1283.2" y2="631.5" stroke="#444" stroke-width="2.5"/><line x1="1261.8" y1="718.5" x2="1283.2" y2="718.5" stroke="#444" stroke-width="2.5"/><line x1="1333" y1="765.8" x2="1333" y2="840.9" stroke="#444" stroke-width="2.5"/><line x1="1322.3" y1="765.8" x2="1343.7" y2="765.8" stroke="#444" stroke-width="2.5"/><line x1="1322.3" y1="840.9" x2="1343.7" y2="840.9" stroke="#444" stroke-width="2.5"/><ellipse cx="1262.5" cy="648.8" rx="5.5" ry="4.5" fill="none" stroke="#555" stroke-width="2.2"/><ellipse cx="1282" cy="644.3" rx="5.5" ry="4.5" fill="none" stroke="#555" stroke-width="2.2"/><ellipse cx="1272.5" cy="664.8" rx="5.5" ry="4.5" fill="none" stroke="#555" stroke-width="2.2"/><ellipse cx="1272.5" cy="737.6" rx="5.5" ry="4.5" fill="none" stroke="#555" stroke-width="2.2"/><ellipse cx="1333" cy="755.8" rx="5.5" ry="4.5" fill="none" stroke="#555" stroke-width="2.2"/><ellipse cx="1333" cy="790" rx="5.5" ry="4.5" fill="none" stroke="#555" stroke-width="2.2"/><ellipse cx="1323" cy="836.4" rx="5.5" ry="4.5" fill="none" stroke="#555" stroke-width="2.2"/><ellipse cx="1344.4" cy="828.6" rx="5.5" ry="4.5" fill="none" stroke="#555" stroke-width="2.2"/><line x1="1271.6" y1="603.3" x2="1350" y2="603.3" stroke="#000" stroke-width="4"/><text x="1309" y="603.8" text-anchor="middle" font-size="31" font-weight="bold">*</text><text x="1268.25" y="567.80" font-size="33">F4/80+</text><text x="1181.50" y="887.00" font-size="29.5" transform="rotate(-90 1181.50 887.00)"># Cells/g Tissue (x10<tspan dy="-10" font-size="17.5">5</tspan><tspan dy="10">)</tspan></text>
<rect x="1557" y="883.3835" width="44" height="2.1165000000000003" fill="#8b1a1a" stroke="#333" stroke-width="2.5"/><rect x="1618.9" y="726.7624999999999" width="44.09999999999991" height="158.73750000000004" fill="#a3a3a3" stroke="#333" stroke-width="2.5"/><line x1="1549.3" y1="603.3" x2="1549.3" y2="886.5" stroke="#333" stroke-width="2.5"/><line x1="1538.3" y1="885.5" x2="1549.3" y2="885.5" stroke="#333" stroke-width="2.5"/><text x="1533.3" y="896.5" text-anchor="end">0</text><line x1="1538.3" y1="814.95" x2="1549.3" y2="814.95" stroke="#333" stroke-width="2.5"/><text x="1533.3" y="825.95" text-anchor="end">20</text><line x1="1538.3" y1="744.4" x2="1549.3" y2="744.4" stroke="#333" stroke-width="2.5"/><text x="1533.3" y="755.4" text-anchor="end">40</text><line x1="1538.3" y1="673.8499999999999" x2="1549.3" y2="673.8499999999999" stroke="#333" stroke-width="2.5"/><text x="1533.3" y="684.8499999999999" text-anchor="end">60</text><line x1="1538.3" y1="603.3" x2="1549.3" y2="603.3" stroke="#333" stroke-width="2.5"/><text x="1533.3" y="614.3" text-anchor="end">80</text><line x1="1534" y1="885.5" x2="1672" y2="885.5" stroke="#333" stroke-width="2.5"/><line x1="1580" y1="885.5" x2="1580" y2="897.5" stroke="#333" stroke-width="2.5"/><line x1="1640.7" y1="885.5" x2="1640.7" y2="897.5" stroke="#333" stroke-width="2.5"/><text x="1521.35" y="928.80" font-size="29.5">A3250</text><text x="1616.75" y="928.80" font-size="29.5">MDA231</text><line x1="1640.3" y1="632.9" x2="1640.3" y2="820.4" stroke="#444" stroke-width="2.5"/><line x1="1628.8" y1="632.9" x2="1651.8" y2="632.9" stroke="#444" stroke-width="2.5"/><line x1="1628.8" y1="820.4" x2="1651.8" y2="820.4" stroke="#444" stroke-width="2.5"/><ellipse cx="1640.3" cy="637.4" rx="5.5" ry="4.5" fill="none" stroke="#555" stroke-width="2.2"/><ellipse cx="1640.3" cy="667" rx="5.5" ry="4.5" fill="none" stroke="#555" stroke-width="2.2"/><ellipse cx="1640.3" cy="751.2" rx="5.5" ry="4.5" fill="none" stroke="#555" stroke-width="2.2"/><ellipse cx="1640.3" cy="846.8" rx="5.5" ry="4.5" fill="none" stroke="#555" stroke-width="2.2"/><ellipse cx="1564" cy="882" rx="5.5" ry="4.5" fill="none" stroke="#555" stroke-width="2.2"/><ellipse cx="1576" cy="881" rx="5.5" ry="4.5" fill="none" stroke="#555" stroke-width="2.2"/><ellipse cx="1588" cy="882" rx="5.5" ry="4.5" fill="none" stroke="#555" stroke-width="2.2"/><ellipse cx="1597" cy="880" rx="5.5" ry="4.5" fill="none" stroke="#555" stroke-width="2.2"/><line x1="1568.8" y1="603.3" x2="1648.5" y2="603.3" stroke="#000" stroke-width="4"/><text x="1607.5" y="603.8" text-anchor="middle" font-size="31" font-weight="bold">*</text><text x="1548.00" y="567.80" font-size="33">Ly6G<tspan dy="-10" font-size="21.5">high</tspan></text><text x="1490.50" y="883.90" font-size="29.5" transform="rotate(-90 1490.50 883.90)"># Cells/g Tissue (x10<tspan dy="-10" font-size="17.5">5</tspan><tspan dy="10">)</tspan></text>
<rect x="1835" y="861.9292" width="54" height="29.570799999999963" fill="#4f81bd"/>
<rect x="1835" y="792.0118" width="54" height="69.91740000000004" fill="#c0504d"/>
<rect x="1835" y="640.9" width="54" height="151.11180000000002" fill="#9bbb59"/>
<rect x="1915.7" y="688.514" width="54.0" height="202.986" fill="#4f81bd"/>
<rect x="1915.7" y="654.9336000000001" width="54.0" height="33.58039999999994" fill="#c0504d"/>
<rect x="1915.7" y="640.9" width="54.0" height="14.033600000000092" fill="#9bbb59"/>
<line x1="1821.5" y1="640.9" x2="1821.5" y2="892.5" stroke="#888" stroke-width="2.5"/>
<line x1="1812.4" y1="891.5" x2="1821.5" y2="891.5" stroke="#888" stroke-width="2.5"/>
<line x1="1812.4" y1="866.44" x2="1821.5" y2="866.44" stroke="#888" stroke-width="2.5"/>
<line x1="1812.4" y1="841.38" x2="1821.5" y2="841.38" stroke="#888" stroke-width="2.5"/>
<line x1="1812.4" y1="816.32" x2="1821.5" y2="816.32" stroke="#888" stroke-width="2.5"/>
<line x1="1812.4" y1="791.26" x2="1821.5" y2="791.26" stroke="#888" stroke-width="2.5"/>
<line x1="1812.4" y1="766.2" x2="1821.5" y2="766.2" stroke="#888" stroke-width="2.5"/>
<line x1="1812.4" y1="741.14" x2="1821.5" y2="741.14" stroke="#888" stroke-width="2.5"/>
<line x1="1812.4" y1="716.08" x2="1821.5" y2="716.08" stroke="#888" stroke-width="2.5"/>
<line x1="1812.4" y1="691.02" x2="1821.5" y2="691.02" stroke="#888" stroke-width="2.5"/>
<line x1="1812.4" y1="665.96" x2="1821.5" y2="665.96" stroke="#888" stroke-width="2.5"/>
<line x1="1812.4" y1="640.9" x2="1821.5" y2="640.9" stroke="#888" stroke-width="2.5"/>
<line x1="1809.4" y1="640.9" x2="1821.5" y2="640.9" stroke="#888" stroke-width="2.5"/>
<text x="1805.5" y="650.9" text-anchor="end">1</text>
<line x1="1809.4" y1="703.55" x2="1821.5" y2="703.55" stroke="#888" stroke-width="2.5"/>
<text x="1805.5" y="713.55" text-anchor="end">0.75</text>
<line x1="1809.4" y1="766.2" x2="1821.5" y2="766.2" stroke="#888" stroke-width="2.5"/>
<text x="1805.5" y="776.2" text-anchor="end">0.5</text>
<line x1="1809.4" y1="828.85" x2="1821.5" y2="828.85" stroke="#888" stroke-width="2.5"/>
<text x="1805.5" y="838.85" text-anchor="end">0.25</text>
<line x1="1809.4" y1="891.5" x2="1821.5" y2="891.5" stroke="#888" stroke-width="2.5"/>
<text x="1805.5" y="901.5" text-anchor="end">0</text>
<line x1="1810" y1="891.5" x2="1983.5" y2="891.5" stroke="#888" stroke-width="2.5"/>
<line x1="1861.7" y1="891.5" x2="1861.7" y2="900.5" stroke="#888" stroke-width="2.5"/>
<line x1="1942.2" y1="891.5" x2="1942.2" y2="900.5" stroke="#888" stroke-width="2.5"/>
<line x1="1982.5" y1="891.5" x2="1982.5" y2="900.5" stroke="#888" stroke-width="2.5"/>
<text x="1796.35" y="931.20" font-size="29.5">A3250</text>
<text x="1887.70" y="931.20" font-size="29.5">MDA231</text>
<text x="1738.50" y="850.05" font-size="29.5" transform="rotate(-90 1738.50 850.05)">Relative ratio</text>
<rect x="1801.3" y="520.6" width="20.8" height="21.5" rx="2.5" fill="#9bbb59"/>
<text x="1832.7" y="541.1">% F4/80+</text>
<rect x="1801.3" y="556" width="20.8" height="21.5" rx="2.5" fill="#c0504d"/>
<text x="1832.7" y="576.5">% Ly6C<tspan dy="-8.6" font-size="19.3">high</tspan></text>
<rect x="1801.3" y="593.4" width="20.8" height="21.5" rx="2.5" fill="#4f81bd"/>
<text x="1832.7" y="613.9">% Ly6G<tspan dy="-8.6" font-size="19.3">high</tspan></text>
</svg>
</body></html>
